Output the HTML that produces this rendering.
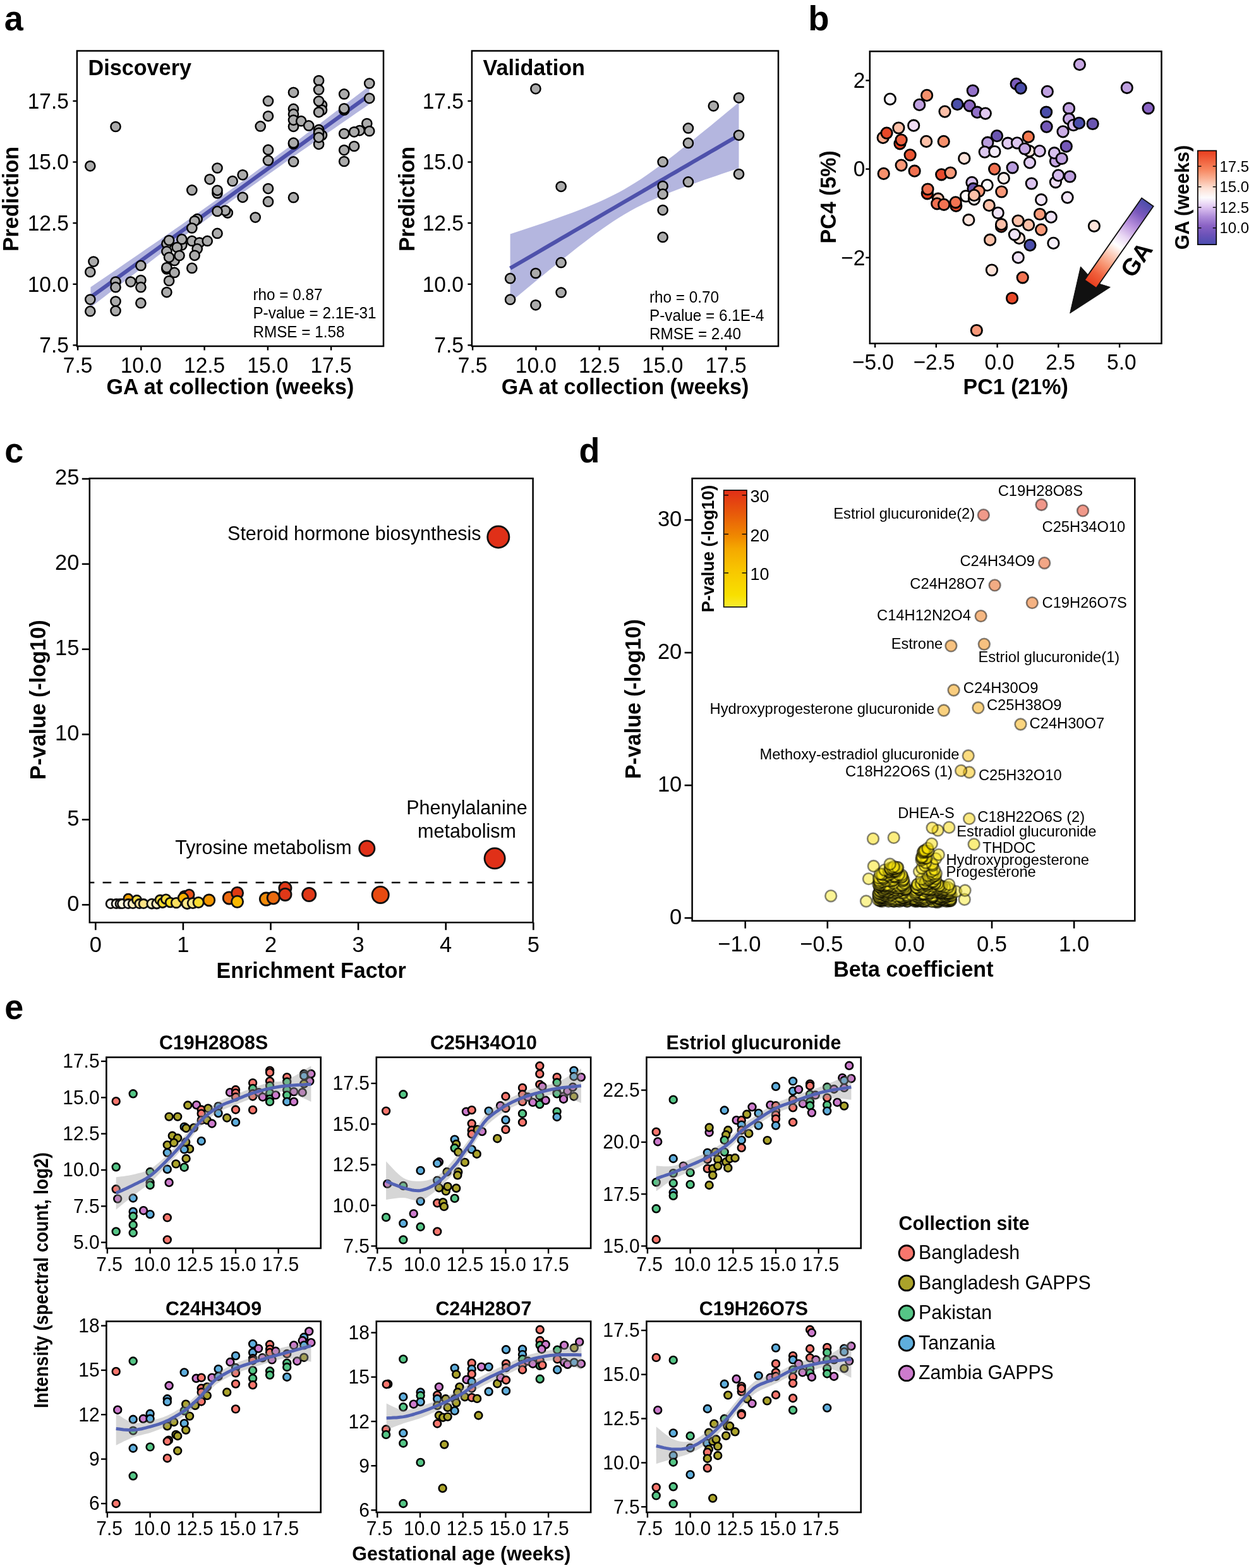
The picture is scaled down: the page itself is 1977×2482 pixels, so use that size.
<!DOCTYPE html>
<html><head><meta charset="utf-8"><title>Figure</title>
<style>html,body{margin:0;padding:0;background:#fff;}svg{display:block;}</style></head>
<body><svg width="1977" height="2482" viewBox="0 0 1977 2482" font-family='"Liberation Sans", Arial, Helvetica, sans-serif'>
<rect x="0" y="0" width="1977" height="2482" fill="#fff"/>
<text x="6.8" y="48.3" font-size="54" font-weight="bold" text-anchor="start" transform="matrix(1 0 0 1.035 0 -1.7)" fill="#000">a</text>
<text x="1279.3" y="48.3" font-size="54.5" font-weight="bold" text-anchor="start" transform="matrix(1 0 0 1.035 0 -1.7)" fill="#000">b</text>
<text x="7.3" y="732" font-size="54" font-weight="bold" text-anchor="start" transform="matrix(1 0 0 1.035 0 -25.6)" fill="#000">c</text>
<text x="916.5" y="732" font-size="54" font-weight="bold" text-anchor="start" transform="matrix(1 0 0 1.035 0 -25.6)" fill="#000">d</text>
<text x="7.3" y="1613" font-size="54" font-weight="bold" text-anchor="start" transform="matrix(1 0 0 1.035 0 -56.5)" fill="#000">e</text>
<polygon points="143.4,454.5 154.4,447 165.5,439.5 176.5,431.9 187.5,424.4 198.6,416.8 209.6,409.3 220.6,401.7 231.6,394.1 242.7,386.5 253.7,378.9 264.7,371.2 275.8,363.6 286.8,355.9 297.8,348.1 308.9,340.4 319.9,332.6 330.9,324.8 341.9,317 353,309.1 364,301.2 375,293.2 386.1,285.2 397.1,277.2 408.1,269.1 419.2,261 430.2,252.8 441.2,244.6 452.2,236.4 463.3,228.2 474.3,219.9 485.3,211.6 496.4,203.3 507.4,194.9 518.4,186.5 529.5,178.1 540.5,169.7 551.5,161.3 562.5,152.9 573.6,144.4 584.6,136 584.6,165 573.6,172.6 562.5,180.1 551.5,187.7 540.5,195.3 529.5,202.9 518.4,210.5 507.4,218.1 496.4,225.7 485.3,233.4 474.3,241.1 463.3,248.8 452.2,256.6 441.2,264.4 430.2,272.2 419.2,280 408.1,287.9 397.1,295.8 386.1,303.8 375,311.8 364,319.8 353,327.9 341.9,336 330.9,344.2 319.9,352.4 308.9,360.6 297.8,368.9 286.8,377.1 275.8,385.4 264.7,393.8 253.7,402.1 242.7,410.5 231.6,418.9 220.6,427.3 209.6,435.7 198.6,444.2 187.5,452.6 176.5,461.1 165.5,469.5 154.4,478 143.4,486.5" fill="#B4B6DF" stroke="none"/>
<polyline points="143.4,470.5 154.4,462.5 165.5,454.5 176.5,446.5 187.5,438.5 198.6,430.5 209.6,422.5 220.6,414.5 231.6,406.5 242.7,398.5 253.7,390.5 264.7,382.5 275.8,374.5 286.8,366.5 297.8,358.5 308.9,350.5 319.9,342.5 330.9,334.5 341.9,326.5 353,318.5 364,310.5 375,302.5 386.1,294.5 397.1,286.5 408.1,278.5 419.2,270.5 430.2,262.5 441.2,254.5 452.2,246.5 463.3,238.5 474.3,230.5 485.3,222.5 496.4,214.5 507.4,206.5 518.4,198.5 529.5,190.5 540.5,182.5 551.5,174.5 562.5,166.5 573.6,158.5 584.6,150.5" fill="none" stroke="#4E51AB" stroke-width="6.2"/>
<circle cx="142.8" cy="262.8" r="7.6" fill="#ABABAB" stroke="#000" stroke-width="2.5"/>
<circle cx="183" cy="200.5" r="7.6" fill="#ABABAB" stroke="#000" stroke-width="2.5"/>
<circle cx="148" cy="414.1" r="7.6" fill="#ABABAB" stroke="#000" stroke-width="2.5"/>
<circle cx="142.8" cy="430.5" r="7.6" fill="#ABABAB" stroke="#000" stroke-width="2.5"/>
<circle cx="142.8" cy="474.1" r="7.6" fill="#ABABAB" stroke="#000" stroke-width="2.5"/>
<circle cx="142.8" cy="492.7" r="7.6" fill="#ABABAB" stroke="#000" stroke-width="2.5"/>
<circle cx="183" cy="446.1" r="7.6" fill="#ABABAB" stroke="#000" stroke-width="2.5"/>
<circle cx="183" cy="454.7" r="7.6" fill="#ABABAB" stroke="#000" stroke-width="2.5"/>
<circle cx="183" cy="477.1" r="7.6" fill="#ABABAB" stroke="#000" stroke-width="2.5"/>
<circle cx="183" cy="492" r="7.6" fill="#ABABAB" stroke="#000" stroke-width="2.5"/>
<circle cx="206.9" cy="446.1" r="7.6" fill="#ABABAB" stroke="#000" stroke-width="2.5"/>
<circle cx="222.9" cy="420.4" r="7.6" fill="#ABABAB" stroke="#000" stroke-width="2.5"/>
<circle cx="222.9" cy="443.5" r="7.6" fill="#ABABAB" stroke="#000" stroke-width="2.5"/>
<circle cx="222.9" cy="454.7" r="7.6" fill="#ABABAB" stroke="#000" stroke-width="2.5"/>
<circle cx="222.9" cy="479.7" r="7.6" fill="#ABABAB" stroke="#000" stroke-width="2.5"/>
<circle cx="344" cy="266" r="7.6" fill="#ABABAB" stroke="#000" stroke-width="2.5"/>
<circle cx="332" cy="283.8" r="7.6" fill="#ABABAB" stroke="#000" stroke-width="2.5"/>
<circle cx="384.1" cy="276.8" r="7.6" fill="#ABABAB" stroke="#000" stroke-width="2.5"/>
<circle cx="368.1" cy="286.7" r="7.6" fill="#ABABAB" stroke="#000" stroke-width="2.5"/>
<circle cx="303.8" cy="300.9" r="7.6" fill="#ABABAB" stroke="#000" stroke-width="2.5"/>
<circle cx="344" cy="305.9" r="7.6" fill="#ABABAB" stroke="#000" stroke-width="2.5"/>
<circle cx="344" cy="301.3" r="7.6" fill="#ABABAB" stroke="#000" stroke-width="2.5"/>
<circle cx="384.1" cy="312.3" r="7.6" fill="#ABABAB" stroke="#000" stroke-width="2.5"/>
<circle cx="360.3" cy="337.1" r="7.6" fill="#ABABAB" stroke="#000" stroke-width="2.5"/>
<circle cx="356.5" cy="333.3" r="7.6" fill="#ABABAB" stroke="#000" stroke-width="2.5"/>
<circle cx="344" cy="334.4" r="7.6" fill="#ABABAB" stroke="#000" stroke-width="2.5"/>
<circle cx="404.2" cy="344.1" r="7.6" fill="#ABABAB" stroke="#000" stroke-width="2.5"/>
<circle cx="312.2" cy="346.7" r="7.6" fill="#ABABAB" stroke="#000" stroke-width="2.5"/>
<circle cx="308.1" cy="349.8" r="7.6" fill="#ABABAB" stroke="#000" stroke-width="2.5"/>
<circle cx="303.8" cy="361" r="7.6" fill="#ABABAB" stroke="#000" stroke-width="2.5"/>
<circle cx="344" cy="369.4" r="7.6" fill="#ABABAB" stroke="#000" stroke-width="2.5"/>
<circle cx="263.9" cy="385.7" r="7.6" fill="#ABABAB" stroke="#000" stroke-width="2.5"/>
<circle cx="267.6" cy="380.5" r="7.6" fill="#ABABAB" stroke="#000" stroke-width="2.5"/>
<circle cx="287.8" cy="388" r="7.6" fill="#ABABAB" stroke="#000" stroke-width="2.5"/>
<circle cx="287.8" cy="378.7" r="7.6" fill="#ABABAB" stroke="#000" stroke-width="2.5"/>
<circle cx="303.8" cy="381.4" r="7.6" fill="#ABABAB" stroke="#000" stroke-width="2.5"/>
<circle cx="315.7" cy="384" r="7.6" fill="#ABABAB" stroke="#000" stroke-width="2.5"/>
<circle cx="328.2" cy="381.4" r="7.6" fill="#ABABAB" stroke="#000" stroke-width="2.5"/>
<circle cx="280.2" cy="391.5" r="7.6" fill="#ABABAB" stroke="#000" stroke-width="2.5"/>
<circle cx="263.9" cy="397.9" r="7.6" fill="#ABABAB" stroke="#000" stroke-width="2.5"/>
<circle cx="312.2" cy="393.9" r="7.6" fill="#ABABAB" stroke="#000" stroke-width="2.5"/>
<circle cx="276.1" cy="412.5" r="7.6" fill="#ABABAB" stroke="#000" stroke-width="2.5"/>
<circle cx="284" cy="404.6" r="7.6" fill="#ABABAB" stroke="#000" stroke-width="2.5"/>
<circle cx="267.6" cy="407.3" r="7.6" fill="#ABABAB" stroke="#000" stroke-width="2.5"/>
<circle cx="308.1" cy="404.3" r="7.6" fill="#ABABAB" stroke="#000" stroke-width="2.5"/>
<circle cx="263.9" cy="425.9" r="7.6" fill="#ABABAB" stroke="#000" stroke-width="2.5"/>
<circle cx="263.9" cy="423.6" r="7.6" fill="#ABABAB" stroke="#000" stroke-width="2.5"/>
<circle cx="276.1" cy="431.4" r="7.6" fill="#ABABAB" stroke="#000" stroke-width="2.5"/>
<circle cx="303.8" cy="424.4" r="7.6" fill="#ABABAB" stroke="#000" stroke-width="2.5"/>
<circle cx="267.6" cy="444.5" r="7.6" fill="#ABABAB" stroke="#000" stroke-width="2.5"/>
<circle cx="263.9" cy="462.6" r="7.6" fill="#ABABAB" stroke="#000" stroke-width="2.5"/>
<circle cx="424.5" cy="159.9" r="7.6" fill="#ABABAB" stroke="#000" stroke-width="2.5"/>
<circle cx="424.5" cy="183.8" r="7.6" fill="#ABABAB" stroke="#000" stroke-width="2.5"/>
<circle cx="412.2" cy="199.9" r="7.6" fill="#ABABAB" stroke="#000" stroke-width="2.5"/>
<circle cx="424.5" cy="237.2" r="7.6" fill="#ABABAB" stroke="#000" stroke-width="2.5"/>
<circle cx="424.5" cy="254" r="7.6" fill="#ABABAB" stroke="#000" stroke-width="2.5"/>
<circle cx="424.5" cy="298.6" r="7.6" fill="#ABABAB" stroke="#000" stroke-width="2.5"/>
<circle cx="424.5" cy="319.2" r="7.6" fill="#ABABAB" stroke="#000" stroke-width="2.5"/>
<circle cx="464.5" cy="146.3" r="7.6" fill="#ABABAB" stroke="#000" stroke-width="2.5"/>
<circle cx="464.5" cy="172.4" r="7.6" fill="#ABABAB" stroke="#000" stroke-width="2.5"/>
<circle cx="464.5" cy="180.7" r="7.6" fill="#ABABAB" stroke="#000" stroke-width="2.5"/>
<circle cx="464.5" cy="200.3" r="7.6" fill="#ABABAB" stroke="#000" stroke-width="2.5"/>
<circle cx="464.5" cy="190.1" r="7.6" fill="#ABABAB" stroke="#000" stroke-width="2.5"/>
<circle cx="476.7" cy="191.7" r="7.6" fill="#ABABAB" stroke="#000" stroke-width="2.5"/>
<circle cx="488.7" cy="198.9" r="7.6" fill="#ABABAB" stroke="#000" stroke-width="2.5"/>
<circle cx="464.5" cy="228" r="7.6" fill="#ABABAB" stroke="#000" stroke-width="2.5"/>
<circle cx="464.5" cy="226.2" r="7.6" fill="#ABABAB" stroke="#000" stroke-width="2.5"/>
<circle cx="464.5" cy="255.9" r="7.6" fill="#ABABAB" stroke="#000" stroke-width="2.5"/>
<circle cx="464.5" cy="312.7" r="7.6" fill="#ABABAB" stroke="#000" stroke-width="2.5"/>
<circle cx="504.6" cy="127.5" r="7.6" fill="#ABABAB" stroke="#000" stroke-width="2.5"/>
<circle cx="504.6" cy="142" r="7.6" fill="#ABABAB" stroke="#000" stroke-width="2.5"/>
<circle cx="509.5" cy="166.3" r="7.6" fill="#ABABAB" stroke="#000" stroke-width="2.5"/>
<circle cx="509.5" cy="174.2" r="7.6" fill="#ABABAB" stroke="#000" stroke-width="2.5"/>
<circle cx="504.6" cy="160.1" r="7.6" fill="#ABABAB" stroke="#000" stroke-width="2.5"/>
<circle cx="504.6" cy="177.6" r="7.6" fill="#ABABAB" stroke="#000" stroke-width="2.5"/>
<circle cx="504.6" cy="228.3" r="7.6" fill="#ABABAB" stroke="#000" stroke-width="2.5"/>
<circle cx="509.5" cy="214" r="7.6" fill="#ABABAB" stroke="#000" stroke-width="2.5"/>
<circle cx="504.6" cy="205.4" r="7.6" fill="#ABABAB" stroke="#000" stroke-width="2.5"/>
<circle cx="504.6" cy="210.3" r="7.6" fill="#ABABAB" stroke="#000" stroke-width="2.5"/>
<circle cx="504.6" cy="217.6" r="7.6" fill="#ABABAB" stroke="#000" stroke-width="2.5"/>
<circle cx="544.7" cy="148.9" r="7.6" fill="#ABABAB" stroke="#000" stroke-width="2.5"/>
<circle cx="544.7" cy="174.2" r="7.6" fill="#ABABAB" stroke="#000" stroke-width="2.5"/>
<circle cx="544.7" cy="171.8" r="7.6" fill="#ABABAB" stroke="#000" stroke-width="2.5"/>
<circle cx="544.7" cy="211.5" r="7.6" fill="#ABABAB" stroke="#000" stroke-width="2.5"/>
<circle cx="544.7" cy="237.6" r="7.6" fill="#ABABAB" stroke="#000" stroke-width="2.5"/>
<circle cx="544.7" cy="255.5" r="7.6" fill="#ABABAB" stroke="#000" stroke-width="2.5"/>
<circle cx="560.6" cy="231.5" r="7.6" fill="#ABABAB" stroke="#000" stroke-width="2.5"/>
<circle cx="569.2" cy="206.6" r="7.6" fill="#ABABAB" stroke="#000" stroke-width="2.5"/>
<circle cx="560.6" cy="208.8" r="7.6" fill="#ABABAB" stroke="#000" stroke-width="2.5"/>
<circle cx="580.8" cy="195.6" r="7.6" fill="#ABABAB" stroke="#000" stroke-width="2.5"/>
<circle cx="584.7" cy="207.5" r="7.6" fill="#ABABAB" stroke="#000" stroke-width="2.5"/>
<circle cx="584.7" cy="132" r="7.6" fill="#ABABAB" stroke="#000" stroke-width="2.5"/>
<circle cx="584.7" cy="155.6" r="7.6" fill="#ABABAB" stroke="#000" stroke-width="2.5"/>
<rect x="121.9" y="80.5" width="485.1" height="467.5" fill="none" stroke="#000" stroke-width="2.5"/>
<line x1="115.4" y1="546.4" x2="121.9" y2="546.4" stroke="#000" stroke-width="2.4"/>
<text x="108.9" y="558.2" font-size="33.5" text-anchor="end" transform="matrix(1 0 0 1.035 0 -19.5)" fill="#000">7.5</text>
<line x1="115.4" y1="449.8" x2="121.9" y2="449.8" stroke="#000" stroke-width="2.4"/>
<text x="108.9" y="461.6" font-size="33.5" text-anchor="end" transform="matrix(1 0 0 1.035 0 -16.2)" fill="#000">10.0</text>
<line x1="115.4" y1="353.1" x2="121.9" y2="353.1" stroke="#000" stroke-width="2.4"/>
<text x="108.9" y="364.9" font-size="33.5" text-anchor="end" transform="matrix(1 0 0 1.035 0 -12.8)" fill="#000">12.5</text>
<line x1="115.4" y1="256.5" x2="121.9" y2="256.5" stroke="#000" stroke-width="2.4"/>
<text x="108.9" y="268.3" font-size="33.5" text-anchor="end" transform="matrix(1 0 0 1.035 0 -9.4)" fill="#000">15.0</text>
<line x1="115.4" y1="159.9" x2="121.9" y2="159.9" stroke="#000" stroke-width="2.4"/>
<text x="108.9" y="171.7" font-size="33.5" text-anchor="end" transform="matrix(1 0 0 1.035 0 -6)" fill="#000">17.5</text>
<line x1="123.1" y1="548" x2="123.1" y2="554.5" stroke="#000" stroke-width="2.4"/>
<text x="123.1" y="589.5" font-size="33.5" text-anchor="middle" transform="matrix(1 0 0 1.035 0 -20.6)" fill="#000">7.5</text>
<line x1="223.3" y1="548" x2="223.3" y2="554.5" stroke="#000" stroke-width="2.4"/>
<text x="223.3" y="589.5" font-size="33.5" text-anchor="middle" transform="matrix(1 0 0 1.035 0 -20.6)" fill="#000">10.0</text>
<line x1="323.6" y1="548" x2="323.6" y2="554.5" stroke="#000" stroke-width="2.4"/>
<text x="323.6" y="589.5" font-size="33.5" text-anchor="middle" transform="matrix(1 0 0 1.035 0 -20.6)" fill="#000">12.5</text>
<line x1="423.9" y1="548" x2="423.9" y2="554.5" stroke="#000" stroke-width="2.4"/>
<text x="423.9" y="589.5" font-size="33.5" text-anchor="middle" transform="matrix(1 0 0 1.035 0 -20.6)" fill="#000">15.0</text>
<line x1="524.1" y1="548" x2="524.1" y2="554.5" stroke="#000" stroke-width="2.4"/>
<text x="524.1" y="589.5" font-size="33.5" text-anchor="middle" transform="matrix(1 0 0 1.035 0 -20.6)" fill="#000">17.5</text>
<text x="364.4" y="623.5" font-size="34" font-weight="bold" text-anchor="middle" transform="matrix(1 0 0 1.035 0 -21.8)" fill="#000">GA at collection (weeks)</text>
<text x="29.1" y="315" font-size="34" font-weight="bold" text-anchor="middle" transform="rotate(-90 29.1 315) matrix(1 0 0 1.035 0 -11)" fill="#000">Prediction</text>
<text x="139.5" y="118.5" font-size="34.2" font-weight="bold" text-anchor="start" transform="matrix(1 0 0 1.035 0 -4.1)" fill="#000">Discovery</text>
<text x="400.4" y="475" font-size="24.3" text-anchor="start" transform="matrix(1 0 0 1.035 0 -16.6)" fill="#000">rho = 0.87</text>
<text x="400.4" y="504.3" font-size="24.3" text-anchor="start" transform="matrix(1 0 0 1.035 0 -17.7)" fill="#000">P-value = 2.1E-31</text>
<text x="400.4" y="533.6" font-size="24.3" text-anchor="start" transform="matrix(1 0 0 1.035 0 -18.7)" fill="#000">RMSE = 1.58</text>
<polygon points="807.6,370.6 816.6,367.6 825.7,364.6 834.7,361.6 843.8,358.6 852.8,355.5 861.9,352.4 870.9,349.2 880,346.1 889,342.8 898.1,339.6 907.1,336.2 916.2,332.8 925.2,329.2 934.3,325.5 943.3,321.7 952.4,317.7 961.4,313.5 970.5,309.1 979.5,304.4 988.5,299.4 997.6,294.1 1006.6,288.5 1015.7,282.7 1024.7,276.5 1033.8,270.1 1042.8,263.6 1051.9,256.8 1060.9,249.9 1070,242.9 1079,235.8 1088.1,228.7 1097.1,221.4 1106.2,214.1 1115.2,206.8 1124.3,199.4 1133.3,191.9 1142.4,184.5 1151.4,177 1160.5,169.5 1169.5,161.9 1169.5,266.3 1160.5,269.3 1151.4,272.3 1142.4,275.3 1133.3,278.4 1124.3,281.5 1115.2,284.6 1106.2,287.8 1097.1,291 1088.1,294.3 1079,297.6 1070,301 1060.9,304.6 1051.9,308.2 1042.8,312 1033.8,315.9 1024.7,320.1 1015.7,324.5 1006.6,329.1 997.6,334 988.5,339.3 979.5,344.8 970.5,350.6 961.4,356.7 952.4,363.1 943.3,369.6 934.3,376.3 925.2,383.2 916.2,390.1 907.1,397.2 898.1,404.4 889,411.6 880,418.9 870.9,426.3 861.9,433.7 852.8,441.1 843.8,448.5 834.7,456 825.7,463.5 816.6,471.1 807.6,478.6" fill="#B4B6DF" stroke="none"/>
<polyline points="807.6,424.6 816.6,419.3 825.7,414.1 834.7,408.8 843.8,403.6 852.8,398.3 861.9,393 870.9,387.8 880,382.5 889,377.2 898.1,372 907.1,366.7 916.2,361.4 925.2,356.2 934.3,350.9 943.3,345.7 952.4,340.4 961.4,335.1 970.5,329.9 979.5,324.6 988.5,319.4 997.6,314.1 1006.6,308.8 1015.7,303.6 1024.7,298.3 1033.8,293 1042.8,287.8 1051.9,282.5 1060.9,277.2 1070,272 1079,266.7 1088.1,261.5 1097.1,256.2 1106.2,250.9 1115.2,245.7 1124.3,240.4 1133.3,235.2 1142.4,229.9 1151.4,224.6 1160.5,219.4 1169.5,214.1" fill="none" stroke="#4E51AB" stroke-width="6.2"/>
<circle cx="847.9" cy="140.6" r="7.6" fill="#ABABAB" stroke="#000" stroke-width="2.5"/>
<circle cx="1169.5" cy="154.8" r="7.6" fill="#ABABAB" stroke="#000" stroke-width="2.5"/>
<circle cx="1129.3" cy="167.8" r="7.6" fill="#ABABAB" stroke="#000" stroke-width="2.5"/>
<circle cx="1089.4" cy="202.9" r="7.6" fill="#ABABAB" stroke="#000" stroke-width="2.5"/>
<circle cx="1169.5" cy="214.1" r="7.6" fill="#ABABAB" stroke="#000" stroke-width="2.5"/>
<circle cx="1089.4" cy="226.4" r="7.6" fill="#ABABAB" stroke="#000" stroke-width="2.5"/>
<circle cx="1049.1" cy="256.2" r="7.6" fill="#ABABAB" stroke="#000" stroke-width="2.5"/>
<circle cx="1169.5" cy="275.6" r="7.6" fill="#ABABAB" stroke="#000" stroke-width="2.5"/>
<circle cx="1089.4" cy="287.9" r="7.6" fill="#ABABAB" stroke="#000" stroke-width="2.5"/>
<circle cx="888.1" cy="295.3" r="7.6" fill="#ABABAB" stroke="#000" stroke-width="2.5"/>
<circle cx="1049.1" cy="294.6" r="7.6" fill="#ABABAB" stroke="#000" stroke-width="2.5"/>
<circle cx="1049.1" cy="307.2" r="7.6" fill="#ABABAB" stroke="#000" stroke-width="2.5"/>
<circle cx="1049.1" cy="332.6" r="7.6" fill="#ABABAB" stroke="#000" stroke-width="2.5"/>
<circle cx="1049.1" cy="375.4" r="7.6" fill="#ABABAB" stroke="#000" stroke-width="2.5"/>
<circle cx="888.1" cy="415.7" r="7.6" fill="#ABABAB" stroke="#000" stroke-width="2.5"/>
<circle cx="847.9" cy="432.5" r="7.6" fill="#ABABAB" stroke="#000" stroke-width="2.5"/>
<circle cx="807.6" cy="440.7" r="7.6" fill="#ABABAB" stroke="#000" stroke-width="2.5"/>
<circle cx="888.1" cy="463" r="7.6" fill="#ABABAB" stroke="#000" stroke-width="2.5"/>
<circle cx="807.6" cy="474.2" r="7.6" fill="#ABABAB" stroke="#000" stroke-width="2.5"/>
<circle cx="847.9" cy="482.8" r="7.6" fill="#ABABAB" stroke="#000" stroke-width="2.5"/>
<rect x="746.9" y="80.5" width="485.1" height="467.5" fill="none" stroke="#000" stroke-width="2.5"/>
<line x1="740.4" y1="546.4" x2="746.9" y2="546.4" stroke="#000" stroke-width="2.4"/>
<text x="733.9" y="558.2" font-size="33.5" text-anchor="end" transform="matrix(1 0 0 1.035 0 -19.5)" fill="#000">7.5</text>
<line x1="740.4" y1="449.8" x2="746.9" y2="449.8" stroke="#000" stroke-width="2.4"/>
<text x="733.9" y="461.6" font-size="33.5" text-anchor="end" transform="matrix(1 0 0 1.035 0 -16.2)" fill="#000">10.0</text>
<line x1="740.4" y1="353.1" x2="746.9" y2="353.1" stroke="#000" stroke-width="2.4"/>
<text x="733.9" y="364.9" font-size="33.5" text-anchor="end" transform="matrix(1 0 0 1.035 0 -12.8)" fill="#000">12.5</text>
<line x1="740.4" y1="256.5" x2="746.9" y2="256.5" stroke="#000" stroke-width="2.4"/>
<text x="733.9" y="268.3" font-size="33.5" text-anchor="end" transform="matrix(1 0 0 1.035 0 -9.4)" fill="#000">15.0</text>
<line x1="740.4" y1="159.9" x2="746.9" y2="159.9" stroke="#000" stroke-width="2.4"/>
<text x="733.9" y="171.7" font-size="33.5" text-anchor="end" transform="matrix(1 0 0 1.035 0 -6)" fill="#000">17.5</text>
<line x1="748.1" y1="548" x2="748.1" y2="554.5" stroke="#000" stroke-width="2.4"/>
<text x="748.1" y="589.5" font-size="33.5" text-anchor="middle" transform="matrix(1 0 0 1.035 0 -20.6)" fill="#000">7.5</text>
<line x1="848.4" y1="548" x2="848.4" y2="554.5" stroke="#000" stroke-width="2.4"/>
<text x="848.4" y="589.5" font-size="33.5" text-anchor="middle" transform="matrix(1 0 0 1.035 0 -20.6)" fill="#000">10.0</text>
<line x1="948.6" y1="548" x2="948.6" y2="554.5" stroke="#000" stroke-width="2.4"/>
<text x="948.6" y="589.5" font-size="33.5" text-anchor="middle" transform="matrix(1 0 0 1.035 0 -20.6)" fill="#000">12.5</text>
<line x1="1048.8" y1="548" x2="1048.8" y2="554.5" stroke="#000" stroke-width="2.4"/>
<text x="1048.8" y="589.5" font-size="33.5" text-anchor="middle" transform="matrix(1 0 0 1.035 0 -20.6)" fill="#000">15.0</text>
<line x1="1149.1" y1="548" x2="1149.1" y2="554.5" stroke="#000" stroke-width="2.4"/>
<text x="1149.1" y="589.5" font-size="33.5" text-anchor="middle" transform="matrix(1 0 0 1.035 0 -20.6)" fill="#000">17.5</text>
<text x="989.5" y="623.5" font-size="34" font-weight="bold" text-anchor="middle" transform="matrix(1 0 0 1.035 0 -21.8)" fill="#000">GA at collection (weeks)</text>
<text x="655.5" y="315" font-size="34" font-weight="bold" text-anchor="middle" transform="rotate(-90 655.5 315) matrix(1 0 0 1.035 0 -11)" fill="#000">Prediction</text>
<text x="764.5" y="118.5" font-size="34.2" font-weight="bold" text-anchor="start" transform="matrix(1 0 0 1.035 0 -4.1)" fill="#000">Validation</text>
<text x="1028" y="479.5" font-size="24.3" text-anchor="start" transform="matrix(1 0 0 1.035 0 -16.8)" fill="#000">rho = 0.70</text>
<text x="1028" y="508.1" font-size="24.3" text-anchor="start" transform="matrix(1 0 0 1.035 0 -17.8)" fill="#000">P-value = 6.1E-4</text>
<text x="1028" y="536.7" font-size="24.3" text-anchor="start" transform="matrix(1 0 0 1.035 0 -18.8)" fill="#000">RMSE = 2.40</text>
<defs><linearGradient id="gacb" x1="0" y1="1" x2="0" y2="0"><stop offset="0" stop-color="#4A4DB0"/><stop offset="0.1" stop-color="#6A52B8"/><stop offset="0.2" stop-color="#8A62C4"/><stop offset="0.3" stop-color="#B08EDA"/><stop offset="0.4" stop-color="#E0C6F2"/><stop offset="0.5" stop-color="#FDFBFD"/><stop offset="0.6" stop-color="#FDE0D4"/><stop offset="0.7" stop-color="#FAB296"/><stop offset="0.8" stop-color="#F7865F"/><stop offset="0.9" stop-color="#F0603C"/><stop offset="1" stop-color="#E83E1E"/></linearGradient><linearGradient id="gaarr" x1="0" y1="0" x2="1" y2="0"><stop offset="0" stop-color="#E83E1E"/><stop offset="0.12" stop-color="#F0603C"/><stop offset="0.25" stop-color="#F89A78"/><stop offset="0.38" stop-color="#FCD4C4"/><stop offset="0.47" stop-color="#FFFFFF"/><stop offset="0.58" stop-color="#EAD8F4"/><stop offset="0.72" stop-color="#B890DC"/><stop offset="0.86" stop-color="#7A58BC"/><stop offset="1" stop-color="#4A4DAA"/></linearGradient></defs>
<circle cx="1408.9" cy="156.8" r="8.7" fill="#FBF7FC" stroke="#000" stroke-width="2.8"/>
<circle cx="1467.1" cy="150.9" r="8.7" fill="#F4906C" stroke="#000" stroke-width="2.8"/>
<circle cx="1455.3" cy="165.9" r="8.7" fill="#BFA0E0" stroke="#000" stroke-width="2.8"/>
<circle cx="1495.5" cy="176.6" r="8.7" fill="#FBBFA8" stroke="#000" stroke-width="2.8"/>
<circle cx="1515.4" cy="165.2" r="8.7" fill="#4A4FAA" stroke="#000" stroke-width="2.8"/>
<circle cx="1539.8" cy="143.5" r="8.7" fill="#9370C8" stroke="#000" stroke-width="2.8"/>
<circle cx="1534.7" cy="167.3" r="8.7" fill="#8A66C0" stroke="#000" stroke-width="2.8"/>
<circle cx="1546.8" cy="177.7" r="8.7" fill="#9170C8" stroke="#000" stroke-width="2.8"/>
<circle cx="1559.8" cy="179.6" r="8.7" fill="#E0C8F0" stroke="#000" stroke-width="2.8"/>
<circle cx="1608.6" cy="132.8" r="8.7" fill="#7A5CBC" stroke="#000" stroke-width="2.8"/>
<circle cx="1615.7" cy="139.6" r="8.7" fill="#4A4DAA" stroke="#000" stroke-width="2.8"/>
<circle cx="1422.4" cy="202.5" r="8.7" fill="#FCC0A8" stroke="#000" stroke-width="2.8"/>
<circle cx="1446.2" cy="198.7" r="8.7" fill="#F0DCF5" stroke="#000" stroke-width="2.8"/>
<circle cx="1397.7" cy="217.9" r="8.7" fill="#FBAD8F" stroke="#000" stroke-width="2.8"/>
<circle cx="1403.5" cy="210.6" r="8.7" fill="#E84828" stroke="#000" stroke-width="2.8"/>
<circle cx="1424.5" cy="227.4" r="8.7" fill="#E84020" stroke="#000" stroke-width="2.8"/>
<circle cx="1426.6" cy="221.5" r="8.7" fill="#EE6040" stroke="#000" stroke-width="2.8"/>
<circle cx="1466.2" cy="223.9" r="8.7" fill="#FCC0A8" stroke="#000" stroke-width="2.8"/>
<circle cx="1493.7" cy="223.9" r="8.7" fill="#F6906C" stroke="#000" stroke-width="2.8"/>
<circle cx="1440.6" cy="245.3" r="8.7" fill="#E95533" stroke="#000" stroke-width="2.8"/>
<circle cx="1426.6" cy="261.6" r="8.7" fill="#F89878" stroke="#000" stroke-width="2.8"/>
<circle cx="1447.6" cy="270.7" r="8.7" fill="#F07050" stroke="#000" stroke-width="2.8"/>
<circle cx="1398.7" cy="274.9" r="8.7" fill="#F7906C" stroke="#000" stroke-width="2.8"/>
<circle cx="1490.2" cy="276.3" r="8.7" fill="#E84A2C" stroke="#000" stroke-width="2.8"/>
<circle cx="1504.5" cy="273.5" r="8.7" fill="#F89A7A" stroke="#000" stroke-width="2.8"/>
<circle cx="1526.3" cy="250.7" r="8.7" fill="#FDE3DA" stroke="#000" stroke-width="2.8"/>
<circle cx="1578" cy="215.1" r="8.7" fill="#6A55B0" stroke="#000" stroke-width="2.8"/>
<circle cx="1563.3" cy="225.7" r="8.7" fill="#B89CDE" stroke="#000" stroke-width="2.8"/>
<circle cx="1558.7" cy="240.6" r="8.7" fill="#DCC8F0" stroke="#000" stroke-width="2.8"/>
<circle cx="1574.4" cy="240" r="8.7" fill="#F3EBF8" stroke="#000" stroke-width="2.8"/>
<circle cx="1595.3" cy="226.7" r="8.7" fill="#E2CCF2" stroke="#000" stroke-width="2.8"/>
<circle cx="1574.1" cy="267.6" r="8.7" fill="#F07050" stroke="#000" stroke-width="2.8"/>
<circle cx="1602.6" cy="265.3" r="8.7" fill="#B89CDE" stroke="#000" stroke-width="2.8"/>
<circle cx="1588.8" cy="282.2" r="8.7" fill="#FDF0EC" stroke="#000" stroke-width="2.8"/>
<circle cx="1538.4" cy="288.9" r="8.7" fill="#DCC4EE" stroke="#000" stroke-width="2.8"/>
<circle cx="1562.6" cy="293.1" r="8.7" fill="#FDFBFB" stroke="#000" stroke-width="2.8"/>
<circle cx="1585.3" cy="303.5" r="8.7" fill="#F89878" stroke="#000" stroke-width="2.8"/>
<circle cx="1467.8" cy="306.3" r="8.7" fill="#E84020" stroke="#000" stroke-width="2.8"/>
<circle cx="1468.5" cy="299.5" r="8.7" fill="#F07050" stroke="#000" stroke-width="2.8"/>
<circle cx="1540.5" cy="298.7" r="8.7" fill="#6A55B0" stroke="#000" stroke-width="2.8"/>
<circle cx="1549.6" cy="302.5" r="8.7" fill="#F89878" stroke="#000" stroke-width="2.8"/>
<circle cx="1529.1" cy="310.5" r="8.7" fill="#FDF9FA" stroke="#000" stroke-width="2.8"/>
<circle cx="1541.9" cy="315.4" r="8.7" fill="#FDF9FA" stroke="#000" stroke-width="2.8"/>
<circle cx="1541.9" cy="309.1" r="8.7" fill="#FBC0A8" stroke="#000" stroke-width="2.8"/>
<circle cx="1484.9" cy="314.7" r="8.7" fill="#FBBFA8" stroke="#000" stroke-width="2.8"/>
<circle cx="1483.2" cy="322.4" r="8.7" fill="#F07050" stroke="#000" stroke-width="2.8"/>
<circle cx="1494.1" cy="323.8" r="8.7" fill="#F27352" stroke="#000" stroke-width="2.8"/>
<circle cx="1513.3" cy="325.9" r="8.7" fill="#E84828" stroke="#000" stroke-width="2.8"/>
<circle cx="1512.6" cy="320.3" r="8.7" fill="#F27352" stroke="#000" stroke-width="2.8"/>
<circle cx="1565.7" cy="325.2" r="8.7" fill="#FBBFA8" stroke="#000" stroke-width="2.8"/>
<circle cx="1579.7" cy="337" r="8.7" fill="#EFE3F7" stroke="#000" stroke-width="2.8"/>
<circle cx="1585" cy="358.7" r="8.7" fill="#E85030" stroke="#000" stroke-width="2.8"/>
<circle cx="1585" cy="355.2" r="8.7" fill="#FBBFA8" stroke="#000" stroke-width="2.8"/>
<circle cx="1533.3" cy="348.2" r="8.7" fill="#FDE4DC" stroke="#000" stroke-width="2.8"/>
<circle cx="1567.1" cy="379.7" r="8.7" fill="#FBC0A8" stroke="#000" stroke-width="2.8"/>
<circle cx="1569.9" cy="427.5" r="8.7" fill="#FDE2D8" stroke="#000" stroke-width="2.8"/>
<circle cx="1602" cy="472" r="8.7" fill="#E84828" stroke="#000" stroke-width="2.8"/>
<circle cx="1545.8" cy="523" r="8.7" fill="#F89878" stroke="#000" stroke-width="2.8"/>
<circle cx="1708.9" cy="102.1" r="8.7" fill="#C6A6E2" stroke="#000" stroke-width="2.8"/>
<circle cx="1657.8" cy="144.9" r="8.7" fill="#BFA0E0" stroke="#000" stroke-width="2.8"/>
<circle cx="1783.8" cy="138.8" r="8.7" fill="#BFA0E0" stroke="#000" stroke-width="2.8"/>
<circle cx="1817.6" cy="171.3" r="8.7" fill="#8A64C4" stroke="#000" stroke-width="2.8"/>
<circle cx="1656.1" cy="177.5" r="8.7" fill="#4A4DAA" stroke="#000" stroke-width="2.8"/>
<circle cx="1692" cy="171.7" r="8.7" fill="#BFA0E0" stroke="#000" stroke-width="2.8"/>
<circle cx="1692" cy="188.2" r="8.7" fill="#C6A8E4" stroke="#000" stroke-width="2.8"/>
<circle cx="1699.2" cy="198" r="8.7" fill="#D8BEEE" stroke="#000" stroke-width="2.8"/>
<circle cx="1708" cy="194.9" r="8.7" fill="#4A4DAA" stroke="#000" stroke-width="2.8"/>
<circle cx="1729.6" cy="196" r="8.7" fill="#6A55B0" stroke="#000" stroke-width="2.8"/>
<circle cx="1656.6" cy="200.6" r="8.7" fill="#7458B8" stroke="#000" stroke-width="2.8"/>
<circle cx="1682.5" cy="208.4" r="8.7" fill="#CCAEE6" stroke="#000" stroke-width="2.8"/>
<circle cx="1627.8" cy="216.7" r="8.7" fill="#F57A50" stroke="#000" stroke-width="2.8"/>
<circle cx="1610" cy="226.3" r="8.7" fill="#DCC6F0" stroke="#000" stroke-width="2.8"/>
<circle cx="1629.3" cy="239.1" r="8.7" fill="#FDE8DF" stroke="#000" stroke-width="2.8"/>
<circle cx="1622.1" cy="235.5" r="8.7" fill="#C6A8E4" stroke="#000" stroke-width="2.8"/>
<circle cx="1645.7" cy="239.1" r="8.7" fill="#DCC4F0" stroke="#000" stroke-width="2.8"/>
<circle cx="1687.8" cy="231.7" r="8.7" fill="#7458B8" stroke="#000" stroke-width="2.8"/>
<circle cx="1670.9" cy="255.1" r="8.7" fill="#C6A6E2" stroke="#000" stroke-width="2.8"/>
<circle cx="1668.9" cy="242.2" r="8.7" fill="#D8C0EE" stroke="#000" stroke-width="2.8"/>
<circle cx="1680.6" cy="251" r="8.7" fill="#C0A0E0" stroke="#000" stroke-width="2.8"/>
<circle cx="1630" cy="257.4" r="8.7" fill="#E0CCF2" stroke="#000" stroke-width="2.8"/>
<circle cx="1670.9" cy="288.3" r="8.7" fill="#F0E0F7" stroke="#000" stroke-width="2.8"/>
<circle cx="1675.2" cy="277.6" r="8.7" fill="#D4BAEC" stroke="#000" stroke-width="2.8"/>
<circle cx="1693.5" cy="279.5" r="8.7" fill="#BC9EDE" stroke="#000" stroke-width="2.8"/>
<circle cx="1632.8" cy="290.5" r="8.7" fill="#DCC4F0" stroke="#000" stroke-width="2.8"/>
<circle cx="1648.1" cy="316.2" r="8.7" fill="#F3E6F8" stroke="#000" stroke-width="2.8"/>
<circle cx="1689.6" cy="312.6" r="8.7" fill="#F3E6F8" stroke="#000" stroke-width="2.8"/>
<circle cx="1646" cy="339" r="8.7" fill="#F89A7A" stroke="#000" stroke-width="2.8"/>
<circle cx="1663.7" cy="343.7" r="8.7" fill="#F0E3F7" stroke="#000" stroke-width="2.8"/>
<circle cx="1611.5" cy="349.5" r="8.7" fill="#FBC0A8" stroke="#000" stroke-width="2.8"/>
<circle cx="1628.1" cy="356.1" r="8.7" fill="#FBC0A8" stroke="#000" stroke-width="2.8"/>
<circle cx="1648.1" cy="363.6" r="8.7" fill="#F89A7A" stroke="#000" stroke-width="2.8"/>
<circle cx="1731.9" cy="357.8" r="8.7" fill="#FDE3DA" stroke="#000" stroke-width="2.8"/>
<circle cx="1613.2" cy="377.2" r="8.7" fill="#FDE3DA" stroke="#000" stroke-width="2.8"/>
<circle cx="1605.9" cy="371.3" r="8.7" fill="#F0E3F7" stroke="#000" stroke-width="2.8"/>
<circle cx="1630.4" cy="388.1" r="8.7" fill="#4A4DAA" stroke="#000" stroke-width="2.8"/>
<circle cx="1667.4" cy="384.9" r="8.7" fill="#F7F0FA" stroke="#000" stroke-width="2.8"/>
<circle cx="1611.7" cy="407.7" r="8.7" fill="#F0E3F7" stroke="#000" stroke-width="2.8"/>
<circle cx="1618.7" cy="439.3" r="8.7" fill="#F27352" stroke="#000" stroke-width="2.8"/>
<polygon points="1710.5,422 1693.7,495.8 1757.3,454.6 1733,447" fill="#111" stroke="#111" stroke-width="1"/>
<g transform="translate(1726 449.6) rotate(-55.1)"><rect x="0" y="-11.3" width="158" height="22.6" fill="url(#gaarr)" stroke="#111" stroke-width="1.8"/></g>
<text x="1799" y="411" font-size="38" font-weight="bold" text-anchor="middle" dominant-baseline="central" transform="rotate(-55.1 1799 411)">GA</text>
<rect x="1376.8" y="81.3" width="461.7" height="462.4" fill="none" stroke="#000" stroke-width="2.5"/>
<line x1="1370.3" y1="127.4" x2="1376.8" y2="127.4" stroke="#000" stroke-width="2.4"/>
<text x="1369.3" y="139.2" font-size="33.5" text-anchor="end" transform="matrix(1 0 0 1.035 0 -4.9)" fill="#000">2</text>
<line x1="1370.3" y1="267.6" x2="1376.8" y2="267.6" stroke="#000" stroke-width="2.4"/>
<text x="1369.3" y="279.4" font-size="33.5" text-anchor="end" transform="matrix(1 0 0 1.035 0 -9.8)" fill="#000">0</text>
<line x1="1370.3" y1="407.8" x2="1376.8" y2="407.8" stroke="#000" stroke-width="2.4"/>
<text x="1369.3" y="419.6" font-size="33.5" text-anchor="end" transform="matrix(1 0 0 1.035 0 -14.7)" fill="#000">−2</text>
<line x1="1385.1" y1="543.7" x2="1385.1" y2="550.2" stroke="#000" stroke-width="2.4"/>
<text x="1381.9" y="585.2" font-size="33.5" text-anchor="middle" transform="matrix(1 0 0 1.035 0 -20.5)" fill="#000">−5.0</text>
<line x1="1481.8" y1="543.7" x2="1481.8" y2="550.2" stroke="#000" stroke-width="2.4"/>
<text x="1478.6" y="585.2" font-size="33.5" text-anchor="middle" transform="matrix(1 0 0 1.035 0 -20.5)" fill="#000">−2.5</text>
<line x1="1578.6" y1="543.7" x2="1578.6" y2="550.2" stroke="#000" stroke-width="2.4"/>
<text x="1581.9" y="585.2" font-size="33.5" text-anchor="middle" transform="matrix(1 0 0 1.035 0 -20.5)" fill="#000">0.0</text>
<line x1="1675.3" y1="543.7" x2="1675.3" y2="550.2" stroke="#000" stroke-width="2.4"/>
<text x="1678.6" y="585.2" font-size="33.5" text-anchor="middle" transform="matrix(1 0 0 1.035 0 -20.5)" fill="#000">2.5</text>
<line x1="1772.1" y1="543.7" x2="1772.1" y2="550.2" stroke="#000" stroke-width="2.4"/>
<text x="1775.4" y="585.2" font-size="33.5" text-anchor="middle" transform="matrix(1 0 0 1.035 0 -20.5)" fill="#000">5.0</text>
<text x="1607.7" y="623.5" font-size="34" font-weight="bold" text-anchor="middle" transform="matrix(1 0 0 1.035 0 -21.8)" fill="#000">PC1 (21%)</text>
<text x="1323" y="311.8" font-size="34" font-weight="bold" text-anchor="middle" transform="rotate(-90 1323 311.8) matrix(1 0 0 1.035 0 -10.9)" fill="#000">PC4 (5%)</text>
<rect x="1895.9" y="238.5" width="29.4" height="148.7" fill="url(#gacb)" stroke="#000" stroke-width="1.7"/>
<line x1="1896.7" y1="263.2" x2="1901.5" y2="263.2" stroke="#000" stroke-width="1.4"/>
<line x1="1919.8" y1="263.2" x2="1924.6" y2="263.2" stroke="#000" stroke-width="1.4"/>
<text x="1930.4" y="271.7" font-size="24" text-anchor="start" transform="matrix(1 0 0 1.035 0 -9.5)" fill="#000">17.5</text>
<line x1="1896.7" y1="295.7" x2="1901.5" y2="295.7" stroke="#000" stroke-width="1.4"/>
<line x1="1919.8" y1="295.7" x2="1924.6" y2="295.7" stroke="#000" stroke-width="1.4"/>
<text x="1930.4" y="304.2" font-size="24" text-anchor="start" transform="matrix(1 0 0 1.035 0 -10.6)" fill="#000">15.0</text>
<line x1="1896.7" y1="328.3" x2="1901.5" y2="328.3" stroke="#000" stroke-width="1.4"/>
<line x1="1919.8" y1="328.3" x2="1924.6" y2="328.3" stroke="#000" stroke-width="1.4"/>
<text x="1930.4" y="336.8" font-size="24" text-anchor="start" transform="matrix(1 0 0 1.035 0 -11.8)" fill="#000">12.5</text>
<line x1="1896.7" y1="360.8" x2="1901.5" y2="360.8" stroke="#000" stroke-width="1.4"/>
<line x1="1919.8" y1="360.8" x2="1924.6" y2="360.8" stroke="#000" stroke-width="1.4"/>
<text x="1930.4" y="369.3" font-size="24" text-anchor="start" transform="matrix(1 0 0 1.035 0 -12.9)" fill="#000">10.0</text>
<text x="1881.7" y="312.5" font-size="30.6" font-weight="bold" text-anchor="middle" transform="rotate(-90 1881.7 312.5) matrix(1 0 0 1.035 0 -10.9)" fill="#000">GA (weeks)</text>
<line x1="141.8" y1="1397" x2="843.6" y2="1397" stroke="#000" stroke-width="2.3" stroke-dasharray="13.6 13.3" stroke-dashoffset="-20.8"/>
<circle cx="175.2" cy="1430.6" r="7.1" fill="#FFFDF5" stroke="#111" stroke-width="2.8"/>
<circle cx="184.1" cy="1430.6" r="7.1" fill="#FFFDF0" stroke="#111" stroke-width="2.8"/>
<circle cx="190" cy="1430.6" r="7.1" fill="#FFFBEA" stroke="#111" stroke-width="2.8"/>
<circle cx="193.5" cy="1430.6" r="7.1" fill="#FFF8DD" stroke="#111" stroke-width="2.8"/>
<circle cx="203" cy="1422.3" r="7.1" fill="#F2A000" stroke="#111" stroke-width="2.8"/>
<circle cx="203" cy="1430.6" r="7.1" fill="#FFF8E0" stroke="#111" stroke-width="2.8"/>
<circle cx="210.3" cy="1430.6" r="7.1" fill="#FDEEBB" stroke="#111" stroke-width="2.8"/>
<circle cx="216.6" cy="1424.4" r="7.1" fill="#F8DC40" stroke="#111" stroke-width="2.8"/>
<circle cx="220.8" cy="1430.6" r="7.1" fill="#FBE59A" stroke="#111" stroke-width="2.8"/>
<circle cx="227.1" cy="1430.6" r="7.1" fill="#FBE285" stroke="#111" stroke-width="2.8"/>
<circle cx="240.2" cy="1430.6" r="7.4" fill="#FDF0C0" stroke="#111" stroke-width="2.8"/>
<circle cx="248.1" cy="1430.6" r="7.4" fill="#FDF0C0" stroke="#111" stroke-width="2.8"/>
<circle cx="253.3" cy="1424.4" r="7.4" fill="#F8DC40" stroke="#111" stroke-width="2.8"/>
<circle cx="257.5" cy="1429.1" r="7.4" fill="#F8DC30" stroke="#111" stroke-width="2.8"/>
<circle cx="262.7" cy="1423.3" r="7.4" fill="#F8DC40" stroke="#111" stroke-width="2.8"/>
<circle cx="269.5" cy="1428.5" r="7.4" fill="#F8DC20" stroke="#111" stroke-width="2.8"/>
<circle cx="279" cy="1429.1" r="7.8" fill="#F9E060" stroke="#111" stroke-width="2.8"/>
<circle cx="292.1" cy="1418.1" r="7.8" fill="#E87010" stroke="#111" stroke-width="2.8"/>
<circle cx="299.4" cy="1416" r="7.8" fill="#E85018" stroke="#111" stroke-width="2.8"/>
<circle cx="290" cy="1421.2" r="7.8" fill="#F5B000" stroke="#111" stroke-width="2.8"/>
<circle cx="296.3" cy="1430.1" r="8.4" fill="#FBE888" stroke="#111" stroke-width="2.8"/>
<circle cx="305.2" cy="1429.6" r="8.1" fill="#FBE888" stroke="#111" stroke-width="2.8"/>
<circle cx="314.1" cy="1428.5" r="8.1" fill="#F8DC30" stroke="#111" stroke-width="2.8"/>
<circle cx="330.9" cy="1424.9" r="8.9" fill="#F29500" stroke="#111" stroke-width="2.8"/>
<circle cx="362.8" cy="1421.4" r="9.6" fill="#EE6A10" stroke="#111" stroke-width="2.8"/>
<circle cx="375.6" cy="1413.5" r="9.1" fill="#E03A12" stroke="#111" stroke-width="2.8"/>
<circle cx="375.6" cy="1427.3" r="9.1" fill="#F8B800" stroke="#111" stroke-width="2.8"/>
<circle cx="421.4" cy="1423.1" r="10.1" fill="#F08A0A" stroke="#111" stroke-width="2.8"/>
<circle cx="432.7" cy="1421.3" r="9.6" fill="#EA6A10" stroke="#111" stroke-width="2.8"/>
<circle cx="451.4" cy="1405.7" r="9.6" fill="#E03818" stroke="#111" stroke-width="2.8"/>
<circle cx="451.4" cy="1415.9" r="9.6" fill="#E03818" stroke="#111" stroke-width="2.8"/>
<circle cx="489.2" cy="1415.9" r="10.6" fill="#E03818" stroke="#111" stroke-width="2.8"/>
<circle cx="602.2" cy="1416.4" r="13.1" fill="#E84A10" stroke="#111" stroke-width="2.8"/>
<circle cx="580.8" cy="1343" r="12.1" fill="#E03018" stroke="#111" stroke-width="2.8"/>
<circle cx="783.1" cy="1358.8" r="16.1" fill="#E03018" stroke="#111" stroke-width="2.8"/>
<circle cx="788.8" cy="850" r="17.1" fill="#E03018" stroke="#111" stroke-width="2.8"/>
<rect x="141.8" y="757.3" width="701.8" height="702.9" fill="none" stroke="#000" stroke-width="2.5"/>
<line x1="129.8" y1="1432.2" x2="141.8" y2="1432.2" stroke="#000" stroke-width="2.6"/>
<text x="125.5" y="1441.7" font-size="34.5" text-anchor="end" transform="matrix(1 0 0 1.035 0 -50.5)" fill="#000">0</text>
<line x1="129.8" y1="1297.4" x2="141.8" y2="1297.4" stroke="#000" stroke-width="2.6"/>
<text x="125.5" y="1306.9" font-size="34.5" text-anchor="end" transform="matrix(1 0 0 1.035 0 -45.7)" fill="#000">5</text>
<line x1="129.8" y1="1162.5" x2="141.8" y2="1162.5" stroke="#000" stroke-width="2.6"/>
<text x="125.5" y="1172" font-size="34.5" text-anchor="end" transform="matrix(1 0 0 1.035 0 -41)" fill="#000">10</text>
<line x1="129.8" y1="1027.7" x2="141.8" y2="1027.7" stroke="#000" stroke-width="2.6"/>
<text x="125.5" y="1037.2" font-size="34.5" text-anchor="end" transform="matrix(1 0 0 1.035 0 -36.3)" fill="#000">15</text>
<line x1="129.8" y1="892.8" x2="141.8" y2="892.8" stroke="#000" stroke-width="2.6"/>
<text x="125.5" y="902.3" font-size="34.5" text-anchor="end" transform="matrix(1 0 0 1.035 0 -31.6)" fill="#000">20</text>
<line x1="129.8" y1="758" x2="141.8" y2="758" stroke="#000" stroke-width="2.6"/>
<text x="125.5" y="767.5" font-size="34.5" text-anchor="end" transform="matrix(1 0 0 1.035 0 -26.9)" fill="#000">25</text>
<line x1="151.3" y1="1460.2" x2="151.3" y2="1472.2" stroke="#000" stroke-width="2.6"/>
<text x="151.3" y="1507" font-size="34.5" text-anchor="middle" transform="matrix(1 0 0 1.035 0 -52.7)" fill="#000">0</text>
<line x1="289.9" y1="1460.2" x2="289.9" y2="1472.2" stroke="#000" stroke-width="2.6"/>
<text x="289.9" y="1507" font-size="34.5" text-anchor="middle" transform="matrix(1 0 0 1.035 0 -52.7)" fill="#000">1</text>
<line x1="428.5" y1="1460.2" x2="428.5" y2="1472.2" stroke="#000" stroke-width="2.6"/>
<text x="428.5" y="1507" font-size="34.5" text-anchor="middle" transform="matrix(1 0 0 1.035 0 -52.7)" fill="#000">2</text>
<line x1="567.1" y1="1460.2" x2="567.1" y2="1472.2" stroke="#000" stroke-width="2.6"/>
<text x="567.1" y="1507" font-size="34.5" text-anchor="middle" transform="matrix(1 0 0 1.035 0 -52.7)" fill="#000">3</text>
<line x1="705.7" y1="1460.2" x2="705.7" y2="1472.2" stroke="#000" stroke-width="2.6"/>
<text x="705.7" y="1507" font-size="34.5" text-anchor="middle" transform="matrix(1 0 0 1.035 0 -52.7)" fill="#000">4</text>
<line x1="844.3" y1="1460.2" x2="844.3" y2="1472.2" stroke="#000" stroke-width="2.6"/>
<text x="844.3" y="1507" font-size="34.5" text-anchor="middle" transform="matrix(1 0 0 1.035 0 -52.7)" fill="#000">5</text>
<text x="492.7" y="1547.6" font-size="34" font-weight="bold" text-anchor="middle" transform="matrix(1 0 0 1.035 0 -54.2)" fill="#000">Enrichment Factor</text>
<text x="71.6" y="1107.7" font-size="34" font-weight="bold" text-anchor="middle" transform="rotate(-90 71.6 1107.7) matrix(1 0 0 1.035 0 -38.8)" fill="#000">P-value (-log10)</text>
<text x="761.6" y="855.1" font-size="30.5" text-anchor="end" transform="matrix(1 0 0 1.035 0 -29.9)" fill="#000">Steroid hormone biosynthesis</text>
<text x="556.7" y="1351.6" font-size="30.5" text-anchor="end" transform="matrix(1 0 0 1.035 0 -47.3)" fill="#000">Tyrosine metabolism</text>
<text x="739" y="1289" font-size="30.5" text-anchor="middle" transform="matrix(1 0 0 1.035 0 -45.1)" fill="#000">Phenylalanine</text>
<text x="739" y="1326.2" font-size="30.5" text-anchor="middle" transform="matrix(1 0 0 1.035 0 -46.4)" fill="#000">metabolism</text>
<defs><linearGradient id="pvcb" x1="0" y1="1" x2="0" y2="0"><stop offset="0" stop-color="#F8EB32"/><stop offset="0.1" stop-color="#F8E000"/><stop offset="0.3" stop-color="#F8C800"/><stop offset="0.5" stop-color="#F5A800"/><stop offset="0.6" stop-color="#F08A00"/><stop offset="0.8" stop-color="#E85A0A"/><stop offset="1" stop-color="#E12E17"/></linearGradient></defs>
<circle cx="1483.4" cy="1428.4" r="8.9" fill="#F8EB31" stroke="#000" stroke-width="2.6" fill-opacity="0.5" stroke-opacity="0.47"/>
<circle cx="1481.2" cy="1427" r="8.9" fill="#F8EB30" stroke="#000" stroke-width="2.6" fill-opacity="0.5" stroke-opacity="0.47"/>
<circle cx="1475.4" cy="1427" r="8.9" fill="#F8EB30" stroke="#000" stroke-width="2.6" fill-opacity="0.5" stroke-opacity="0.47"/>
<circle cx="1482.1" cy="1426.9" r="8.9" fill="#F8EB30" stroke="#000" stroke-width="2.6" fill-opacity="0.5" stroke-opacity="0.47"/>
<circle cx="1448.5" cy="1426.9" r="8.9" fill="#F8EB30" stroke="#000" stroke-width="2.6" fill-opacity="0.5" stroke-opacity="0.47"/>
<circle cx="1480.1" cy="1426.9" r="8.9" fill="#F8EB30" stroke="#000" stroke-width="2.6" fill-opacity="0.5" stroke-opacity="0.47"/>
<circle cx="1498.4" cy="1426.9" r="8.9" fill="#F8EB30" stroke="#000" stroke-width="2.6" fill-opacity="0.5" stroke-opacity="0.47"/>
<circle cx="1396.2" cy="1426.9" r="8.9" fill="#F8EB30" stroke="#000" stroke-width="2.6" fill-opacity="0.5" stroke-opacity="0.47"/>
<circle cx="1435.9" cy="1426.8" r="8.9" fill="#F8EA30" stroke="#000" stroke-width="2.6" fill-opacity="0.5" stroke-opacity="0.47"/>
<circle cx="1423.9" cy="1426.8" r="8.9" fill="#F8EA30" stroke="#000" stroke-width="2.6" fill-opacity="0.5" stroke-opacity="0.47"/>
<circle cx="1414.6" cy="1426.8" r="8.9" fill="#F8EA30" stroke="#000" stroke-width="2.6" fill-opacity="0.5" stroke-opacity="0.47"/>
<circle cx="1461" cy="1426.8" r="8.9" fill="#F8EA30" stroke="#000" stroke-width="2.6" fill-opacity="0.5" stroke-opacity="0.47"/>
<circle cx="1466.8" cy="1426.7" r="8.9" fill="#F8EA30" stroke="#000" stroke-width="2.6" fill-opacity="0.5" stroke-opacity="0.47"/>
<circle cx="1415.5" cy="1426.6" r="8.9" fill="#F8EA30" stroke="#000" stroke-width="2.6" fill-opacity="0.5" stroke-opacity="0.47"/>
<circle cx="1489.2" cy="1426.6" r="8.9" fill="#F8EA30" stroke="#000" stroke-width="2.6" fill-opacity="0.5" stroke-opacity="0.47"/>
<circle cx="1406.7" cy="1426.6" r="8.9" fill="#F8EA30" stroke="#000" stroke-width="2.6" fill-opacity="0.5" stroke-opacity="0.47"/>
<circle cx="1464.4" cy="1426.6" r="8.9" fill="#F8EA30" stroke="#000" stroke-width="2.6" fill-opacity="0.5" stroke-opacity="0.47"/>
<circle cx="1475.2" cy="1426.6" r="8.9" fill="#F8EA30" stroke="#000" stroke-width="2.6" fill-opacity="0.5" stroke-opacity="0.47"/>
<circle cx="1371" cy="1426.5" r="8.9" fill="#F8EA30" stroke="#000" stroke-width="2.6" fill-opacity="0.5" stroke-opacity="0.47"/>
<circle cx="1451.4" cy="1426.5" r="8.9" fill="#F8EA30" stroke="#000" stroke-width="2.6" fill-opacity="0.5" stroke-opacity="0.47"/>
<circle cx="1459.8" cy="1426.4" r="8.9" fill="#F8EA30" stroke="#000" stroke-width="2.6" fill-opacity="0.5" stroke-opacity="0.47"/>
<circle cx="1485.6" cy="1426.4" r="8.9" fill="#F8EA30" stroke="#000" stroke-width="2.6" fill-opacity="0.5" stroke-opacity="0.47"/>
<circle cx="1436.1" cy="1426.3" r="8.9" fill="#F8EA30" stroke="#000" stroke-width="2.6" fill-opacity="0.5" stroke-opacity="0.47"/>
<circle cx="1459.6" cy="1426.3" r="8.9" fill="#F8EA30" stroke="#000" stroke-width="2.6" fill-opacity="0.5" stroke-opacity="0.47"/>
<circle cx="1484.6" cy="1426.2" r="8.9" fill="#F8EA30" stroke="#000" stroke-width="2.6" fill-opacity="0.5" stroke-opacity="0.47"/>
<circle cx="1421.8" cy="1426.1" r="8.9" fill="#F8EA30" stroke="#000" stroke-width="2.6" fill-opacity="0.5" stroke-opacity="0.47"/>
<circle cx="1406" cy="1426.1" r="8.9" fill="#F8EA30" stroke="#000" stroke-width="2.6" fill-opacity="0.5" stroke-opacity="0.47"/>
<circle cx="1452.7" cy="1426.1" r="8.9" fill="#F8EA30" stroke="#000" stroke-width="2.6" fill-opacity="0.5" stroke-opacity="0.47"/>
<circle cx="1502.1" cy="1426.1" r="8.9" fill="#F8EA30" stroke="#000" stroke-width="2.6" fill-opacity="0.5" stroke-opacity="0.47"/>
<circle cx="1453.5" cy="1426" r="8.9" fill="#F8EA2F" stroke="#000" stroke-width="2.6" fill-opacity="0.5" stroke-opacity="0.47"/>
<circle cx="1392.9" cy="1426" r="8.9" fill="#F8EA2F" stroke="#000" stroke-width="2.6" fill-opacity="0.5" stroke-opacity="0.47"/>
<circle cx="1449.3" cy="1425.8" r="8.9" fill="#F8EA2F" stroke="#000" stroke-width="2.6" fill-opacity="0.5" stroke-opacity="0.47"/>
<circle cx="1504.1" cy="1425.8" r="8.9" fill="#F8EA2F" stroke="#000" stroke-width="2.6" fill-opacity="0.5" stroke-opacity="0.47"/>
<circle cx="1415.7" cy="1425.8" r="8.9" fill="#F8EA2F" stroke="#000" stroke-width="2.6" fill-opacity="0.5" stroke-opacity="0.47"/>
<circle cx="1435" cy="1425.8" r="8.9" fill="#F8EA2F" stroke="#000" stroke-width="2.6" fill-opacity="0.5" stroke-opacity="0.47"/>
<circle cx="1496.3" cy="1425.8" r="8.9" fill="#F8EA2F" stroke="#000" stroke-width="2.6" fill-opacity="0.5" stroke-opacity="0.47"/>
<circle cx="1462.5" cy="1425.8" r="8.9" fill="#F8EA2F" stroke="#000" stroke-width="2.6" fill-opacity="0.5" stroke-opacity="0.47"/>
<circle cx="1501.6" cy="1425.8" r="8.9" fill="#F8EA2F" stroke="#000" stroke-width="2.6" fill-opacity="0.5" stroke-opacity="0.47"/>
<circle cx="1463.2" cy="1425.7" r="8.9" fill="#F8EA2F" stroke="#000" stroke-width="2.6" fill-opacity="0.5" stroke-opacity="0.47"/>
<circle cx="1503.2" cy="1425.7" r="8.9" fill="#F8EA2F" stroke="#000" stroke-width="2.6" fill-opacity="0.5" stroke-opacity="0.47"/>
<circle cx="1420.6" cy="1425.6" r="8.9" fill="#F8EA2F" stroke="#000" stroke-width="2.6" fill-opacity="0.5" stroke-opacity="0.47"/>
<circle cx="1505.1" cy="1425.5" r="8.9" fill="#F8EA2F" stroke="#000" stroke-width="2.6" fill-opacity="0.5" stroke-opacity="0.47"/>
<circle cx="1393.3" cy="1425.4" r="8.9" fill="#F8EA2F" stroke="#000" stroke-width="2.6" fill-opacity="0.5" stroke-opacity="0.47"/>
<circle cx="1393.8" cy="1425.2" r="8.9" fill="#F8EA2F" stroke="#000" stroke-width="2.6" fill-opacity="0.5" stroke-opacity="0.47"/>
<circle cx="1428.4" cy="1425.2" r="8.9" fill="#F8EA2F" stroke="#000" stroke-width="2.6" fill-opacity="0.5" stroke-opacity="0.47"/>
<circle cx="1412.7" cy="1425.2" r="8.9" fill="#F8EA2F" stroke="#000" stroke-width="2.6" fill-opacity="0.5" stroke-opacity="0.47"/>
<circle cx="1394" cy="1425.1" r="8.9" fill="#F8EA2F" stroke="#000" stroke-width="2.6" fill-opacity="0.5" stroke-opacity="0.47"/>
<circle cx="1446.3" cy="1425" r="8.9" fill="#F8EA2F" stroke="#000" stroke-width="2.6" fill-opacity="0.5" stroke-opacity="0.47"/>
<circle cx="1449" cy="1424.9" r="8.9" fill="#F8EA2F" stroke="#000" stroke-width="2.6" fill-opacity="0.5" stroke-opacity="0.47"/>
<circle cx="1429.5" cy="1424.7" r="8.9" fill="#F8EA2F" stroke="#000" stroke-width="2.6" fill-opacity="0.5" stroke-opacity="0.47"/>
<circle cx="1499.6" cy="1424.6" r="8.9" fill="#F8EA2F" stroke="#000" stroke-width="2.6" fill-opacity="0.5" stroke-opacity="0.47"/>
<circle cx="1396.8" cy="1424.5" r="8.9" fill="#F8EA2F" stroke="#000" stroke-width="2.6" fill-opacity="0.5" stroke-opacity="0.47"/>
<circle cx="1457.5" cy="1424.5" r="8.9" fill="#F8EA2F" stroke="#000" stroke-width="2.6" fill-opacity="0.5" stroke-opacity="0.47"/>
<circle cx="1397.9" cy="1424.5" r="8.9" fill="#F8EA2F" stroke="#000" stroke-width="2.6" fill-opacity="0.5" stroke-opacity="0.47"/>
<circle cx="1390" cy="1424.3" r="8.9" fill="#F8EA2E" stroke="#000" stroke-width="2.6" fill-opacity="0.5" stroke-opacity="0.47"/>
<circle cx="1452.5" cy="1424.3" r="8.9" fill="#F8EA2E" stroke="#000" stroke-width="2.6" fill-opacity="0.5" stroke-opacity="0.47"/>
<circle cx="1487" cy="1424.3" r="8.9" fill="#F8EA2E" stroke="#000" stroke-width="2.6" fill-opacity="0.5" stroke-opacity="0.47"/>
<circle cx="1497.8" cy="1424.3" r="8.9" fill="#F8EA2E" stroke="#000" stroke-width="2.6" fill-opacity="0.5" stroke-opacity="0.47"/>
<circle cx="1489.8" cy="1424.2" r="8.9" fill="#F8EA2E" stroke="#000" stroke-width="2.6" fill-opacity="0.5" stroke-opacity="0.47"/>
<circle cx="1452.6" cy="1424.1" r="8.9" fill="#F8EA2E" stroke="#000" stroke-width="2.6" fill-opacity="0.5" stroke-opacity="0.47"/>
<circle cx="1429" cy="1424" r="8.9" fill="#F8EA2E" stroke="#000" stroke-width="2.6" fill-opacity="0.5" stroke-opacity="0.47"/>
<circle cx="1434.3" cy="1424" r="8.9" fill="#F8EA2E" stroke="#000" stroke-width="2.6" fill-opacity="0.5" stroke-opacity="0.47"/>
<circle cx="1407.1" cy="1424" r="8.9" fill="#F8EA2E" stroke="#000" stroke-width="2.6" fill-opacity="0.5" stroke-opacity="0.47"/>
<circle cx="1504.3" cy="1424" r="8.9" fill="#F8EA2E" stroke="#000" stroke-width="2.6" fill-opacity="0.5" stroke-opacity="0.47"/>
<circle cx="1495.2" cy="1423.9" r="8.9" fill="#F8EA2E" stroke="#000" stroke-width="2.6" fill-opacity="0.5" stroke-opacity="0.47"/>
<circle cx="1466.5" cy="1423.9" r="8.9" fill="#F8EA2E" stroke="#000" stroke-width="2.6" fill-opacity="0.5" stroke-opacity="0.47"/>
<circle cx="1446.1" cy="1423.8" r="8.9" fill="#F8EA2E" stroke="#000" stroke-width="2.6" fill-opacity="0.5" stroke-opacity="0.47"/>
<circle cx="1402.7" cy="1423.8" r="8.9" fill="#F8EA2E" stroke="#000" stroke-width="2.6" fill-opacity="0.5" stroke-opacity="0.47"/>
<circle cx="1504.6" cy="1423.8" r="8.9" fill="#F8EA2E" stroke="#000" stroke-width="2.6" fill-opacity="0.5" stroke-opacity="0.47"/>
<circle cx="1526.7" cy="1423.7" r="8.9" fill="#F8EA2E" stroke="#000" stroke-width="2.6" fill-opacity="0.5" stroke-opacity="0.47"/>
<circle cx="1449.6" cy="1423.6" r="8.9" fill="#F8EA2E" stroke="#000" stroke-width="2.6" fill-opacity="0.5" stroke-opacity="0.47"/>
<circle cx="1396" cy="1423.5" r="8.9" fill="#F8EA2E" stroke="#000" stroke-width="2.6" fill-opacity="0.5" stroke-opacity="0.47"/>
<circle cx="1421" cy="1423.5" r="8.9" fill="#F8EA2E" stroke="#000" stroke-width="2.6" fill-opacity="0.5" stroke-opacity="0.47"/>
<circle cx="1449.7" cy="1423.5" r="8.9" fill="#F8EA2E" stroke="#000" stroke-width="2.6" fill-opacity="0.5" stroke-opacity="0.47"/>
<circle cx="1490.2" cy="1423.3" r="8.9" fill="#F8EA2E" stroke="#000" stroke-width="2.6" fill-opacity="0.5" stroke-opacity="0.47"/>
<circle cx="1418.9" cy="1423.2" r="8.9" fill="#F8EA2E" stroke="#000" stroke-width="2.6" fill-opacity="0.5" stroke-opacity="0.47"/>
<circle cx="1450.5" cy="1423.1" r="8.9" fill="#F8EA2E" stroke="#000" stroke-width="2.6" fill-opacity="0.5" stroke-opacity="0.47"/>
<circle cx="1414.8" cy="1423.1" r="8.9" fill="#F8EA2E" stroke="#000" stroke-width="2.6" fill-opacity="0.5" stroke-opacity="0.47"/>
<circle cx="1405.2" cy="1423" r="8.9" fill="#F8EA2E" stroke="#000" stroke-width="2.6" fill-opacity="0.5" stroke-opacity="0.47"/>
<circle cx="1500.1" cy="1423" r="8.9" fill="#F8EA2E" stroke="#000" stroke-width="2.6" fill-opacity="0.5" stroke-opacity="0.47"/>
<circle cx="1435.7" cy="1423" r="8.9" fill="#F8EA2E" stroke="#000" stroke-width="2.6" fill-opacity="0.5" stroke-opacity="0.47"/>
<circle cx="1399.8" cy="1422.9" r="8.9" fill="#F8EA2E" stroke="#000" stroke-width="2.6" fill-opacity="0.5" stroke-opacity="0.47"/>
<circle cx="1424.1" cy="1422.9" r="8.9" fill="#F8EA2E" stroke="#000" stroke-width="2.6" fill-opacity="0.5" stroke-opacity="0.47"/>
<circle cx="1504.2" cy="1422.8" r="8.9" fill="#F8EA2E" stroke="#000" stroke-width="2.6" fill-opacity="0.5" stroke-opacity="0.47"/>
<circle cx="1434.9" cy="1422.8" r="8.9" fill="#F8EA2E" stroke="#000" stroke-width="2.6" fill-opacity="0.5" stroke-opacity="0.47"/>
<circle cx="1474" cy="1422.7" r="8.9" fill="#F8EA2D" stroke="#000" stroke-width="2.6" fill-opacity="0.5" stroke-opacity="0.47"/>
<circle cx="1428.8" cy="1422.6" r="8.9" fill="#F8EA2D" stroke="#000" stroke-width="2.6" fill-opacity="0.5" stroke-opacity="0.47"/>
<circle cx="1491.6" cy="1422.6" r="8.9" fill="#F8EA2D" stroke="#000" stroke-width="2.6" fill-opacity="0.5" stroke-opacity="0.47"/>
<circle cx="1446.2" cy="1422.4" r="8.9" fill="#F8EA2D" stroke="#000" stroke-width="2.6" fill-opacity="0.5" stroke-opacity="0.47"/>
<circle cx="1490.6" cy="1422.3" r="8.9" fill="#F8EA2D" stroke="#000" stroke-width="2.6" fill-opacity="0.5" stroke-opacity="0.47"/>
<circle cx="1486.5" cy="1422.2" r="8.9" fill="#F8EA2D" stroke="#000" stroke-width="2.6" fill-opacity="0.5" stroke-opacity="0.47"/>
<circle cx="1392.8" cy="1422.2" r="8.9" fill="#F8EA2D" stroke="#000" stroke-width="2.6" fill-opacity="0.5" stroke-opacity="0.47"/>
<circle cx="1462.1" cy="1422.2" r="8.9" fill="#F8EA2D" stroke="#000" stroke-width="2.6" fill-opacity="0.5" stroke-opacity="0.47"/>
<circle cx="1456" cy="1422.1" r="8.9" fill="#F8EA2D" stroke="#000" stroke-width="2.6" fill-opacity="0.5" stroke-opacity="0.47"/>
<circle cx="1447.1" cy="1422.1" r="8.9" fill="#F8EA2D" stroke="#000" stroke-width="2.6" fill-opacity="0.5" stroke-opacity="0.47"/>
<circle cx="1410.7" cy="1421.7" r="8.9" fill="#F8EA2D" stroke="#000" stroke-width="2.6" fill-opacity="0.5" stroke-opacity="0.47"/>
<circle cx="1485.4" cy="1421.6" r="8.9" fill="#F8EA2D" stroke="#000" stroke-width="2.6" fill-opacity="0.5" stroke-opacity="0.47"/>
<circle cx="1473" cy="1421.5" r="8.9" fill="#F8EA2D" stroke="#000" stroke-width="2.6" fill-opacity="0.5" stroke-opacity="0.47"/>
<circle cx="1435" cy="1421.4" r="8.9" fill="#F8EA2D" stroke="#000" stroke-width="2.6" fill-opacity="0.5" stroke-opacity="0.47"/>
<circle cx="1399.2" cy="1421.3" r="8.9" fill="#F8EA2D" stroke="#000" stroke-width="2.6" fill-opacity="0.5" stroke-opacity="0.47"/>
<circle cx="1484.7" cy="1421.3" r="8.9" fill="#F8EA2D" stroke="#000" stroke-width="2.6" fill-opacity="0.5" stroke-opacity="0.47"/>
<circle cx="1428.5" cy="1421" r="8.9" fill="#F8EA2C" stroke="#000" stroke-width="2.6" fill-opacity="0.5" stroke-opacity="0.47"/>
<circle cx="1395.8" cy="1421" r="8.9" fill="#F8EA2C" stroke="#000" stroke-width="2.6" fill-opacity="0.5" stroke-opacity="0.47"/>
<circle cx="1430.3" cy="1421" r="8.9" fill="#F8EA2C" stroke="#000" stroke-width="2.6" fill-opacity="0.5" stroke-opacity="0.47"/>
<circle cx="1393.4" cy="1420.8" r="8.9" fill="#F8EA2C" stroke="#000" stroke-width="2.6" fill-opacity="0.5" stroke-opacity="0.47"/>
<circle cx="1431.1" cy="1420.8" r="8.9" fill="#F8EA2C" stroke="#000" stroke-width="2.6" fill-opacity="0.5" stroke-opacity="0.47"/>
<circle cx="1453.7" cy="1420.7" r="8.9" fill="#F8EA2C" stroke="#000" stroke-width="2.6" fill-opacity="0.5" stroke-opacity="0.47"/>
<circle cx="1497.6" cy="1420.5" r="8.9" fill="#F8EA2C" stroke="#000" stroke-width="2.6" fill-opacity="0.5" stroke-opacity="0.47"/>
<circle cx="1461.3" cy="1420.4" r="8.9" fill="#F8EA2C" stroke="#000" stroke-width="2.6" fill-opacity="0.5" stroke-opacity="0.47"/>
<circle cx="1398.3" cy="1420.4" r="8.9" fill="#F8EA2C" stroke="#000" stroke-width="2.6" fill-opacity="0.5" stroke-opacity="0.47"/>
<circle cx="1476" cy="1420.3" r="8.9" fill="#F8EA2C" stroke="#000" stroke-width="2.6" fill-opacity="0.5" stroke-opacity="0.47"/>
<circle cx="1400.4" cy="1420.3" r="8.9" fill="#F8EA2C" stroke="#000" stroke-width="2.6" fill-opacity="0.5" stroke-opacity="0.47"/>
<circle cx="1428.6" cy="1420.3" r="8.9" fill="#F8EA2C" stroke="#000" stroke-width="2.6" fill-opacity="0.5" stroke-opacity="0.47"/>
<circle cx="1391.3" cy="1420.2" r="8.9" fill="#F8EA2C" stroke="#000" stroke-width="2.6" fill-opacity="0.5" stroke-opacity="0.47"/>
<circle cx="1405.5" cy="1420.1" r="8.9" fill="#F8EA2C" stroke="#000" stroke-width="2.6" fill-opacity="0.5" stroke-opacity="0.47"/>
<circle cx="1396.1" cy="1420" r="8.9" fill="#F8EA2C" stroke="#000" stroke-width="2.6" fill-opacity="0.5" stroke-opacity="0.47"/>
<circle cx="1476.7" cy="1420" r="8.9" fill="#F8EA2C" stroke="#000" stroke-width="2.6" fill-opacity="0.5" stroke-opacity="0.47"/>
<circle cx="1491" cy="1419.8" r="8.9" fill="#F8EA2C" stroke="#000" stroke-width="2.6" fill-opacity="0.5" stroke-opacity="0.47"/>
<circle cx="1475.7" cy="1419.7" r="8.9" fill="#F8EA2C" stroke="#000" stroke-width="2.6" fill-opacity="0.5" stroke-opacity="0.47"/>
<circle cx="1495.1" cy="1419.6" r="8.9" fill="#F8EA2C" stroke="#000" stroke-width="2.6" fill-opacity="0.5" stroke-opacity="0.47"/>
<circle cx="1436.1" cy="1419.5" r="8.9" fill="#F8EA2C" stroke="#000" stroke-width="2.6" fill-opacity="0.5" stroke-opacity="0.47"/>
<circle cx="1394.9" cy="1419.5" r="8.9" fill="#F8EA2C" stroke="#000" stroke-width="2.6" fill-opacity="0.5" stroke-opacity="0.47"/>
<circle cx="1454.8" cy="1419.3" r="8.9" fill="#F8E92B" stroke="#000" stroke-width="2.6" fill-opacity="0.5" stroke-opacity="0.47"/>
<circle cx="1487.3" cy="1419.2" r="8.9" fill="#F8E92B" stroke="#000" stroke-width="2.6" fill-opacity="0.5" stroke-opacity="0.47"/>
<circle cx="1499.7" cy="1419.1" r="8.9" fill="#F8E92B" stroke="#000" stroke-width="2.6" fill-opacity="0.5" stroke-opacity="0.47"/>
<circle cx="1432.9" cy="1419" r="8.9" fill="#F8E92B" stroke="#000" stroke-width="2.6" fill-opacity="0.5" stroke-opacity="0.47"/>
<circle cx="1472.4" cy="1419" r="8.9" fill="#F8E92B" stroke="#000" stroke-width="2.6" fill-opacity="0.5" stroke-opacity="0.47"/>
<circle cx="1476.3" cy="1419" r="8.9" fill="#F8E92B" stroke="#000" stroke-width="2.6" fill-opacity="0.5" stroke-opacity="0.47"/>
<circle cx="1499" cy="1419" r="8.9" fill="#F8E92B" stroke="#000" stroke-width="2.6" fill-opacity="0.5" stroke-opacity="0.47"/>
<circle cx="1435.6" cy="1418.9" r="8.9" fill="#F8E92B" stroke="#000" stroke-width="2.6" fill-opacity="0.5" stroke-opacity="0.47"/>
<circle cx="1446.1" cy="1418.8" r="8.9" fill="#F8E92B" stroke="#000" stroke-width="2.6" fill-opacity="0.5" stroke-opacity="0.47"/>
<circle cx="1489.9" cy="1418.7" r="8.9" fill="#F8E92B" stroke="#000" stroke-width="2.6" fill-opacity="0.5" stroke-opacity="0.47"/>
<circle cx="1451.4" cy="1418.7" r="8.9" fill="#F8E92B" stroke="#000" stroke-width="2.6" fill-opacity="0.5" stroke-opacity="0.47"/>
<circle cx="1390.8" cy="1418.6" r="8.9" fill="#F8E92B" stroke="#000" stroke-width="2.6" fill-opacity="0.5" stroke-opacity="0.47"/>
<circle cx="1417.7" cy="1418.4" r="8.9" fill="#F8E92B" stroke="#000" stroke-width="2.6" fill-opacity="0.5" stroke-opacity="0.47"/>
<circle cx="1424.3" cy="1418.4" r="8.9" fill="#F8E92B" stroke="#000" stroke-width="2.6" fill-opacity="0.5" stroke-opacity="0.47"/>
<circle cx="1406.1" cy="1418.3" r="8.9" fill="#F8E92B" stroke="#000" stroke-width="2.6" fill-opacity="0.5" stroke-opacity="0.47"/>
<circle cx="1315.2" cy="1418.2" r="8.9" fill="#F8E92B" stroke="#000" stroke-width="2.6" fill-opacity="0.5" stroke-opacity="0.47"/>
<circle cx="1477.6" cy="1418" r="8.9" fill="#F8E92B" stroke="#000" stroke-width="2.6" fill-opacity="0.5" stroke-opacity="0.47"/>
<circle cx="1401.7" cy="1417.9" r="8.9" fill="#F8E92B" stroke="#000" stroke-width="2.6" fill-opacity="0.5" stroke-opacity="0.47"/>
<circle cx="1504.4" cy="1417.9" r="8.9" fill="#F8E92B" stroke="#000" stroke-width="2.6" fill-opacity="0.5" stroke-opacity="0.47"/>
<circle cx="1475.8" cy="1417.9" r="8.9" fill="#F8E92B" stroke="#000" stroke-width="2.6" fill-opacity="0.5" stroke-opacity="0.47"/>
<circle cx="1436.5" cy="1417.8" r="8.9" fill="#F8E92A" stroke="#000" stroke-width="2.6" fill-opacity="0.5" stroke-opacity="0.47"/>
<circle cx="1495.2" cy="1417.7" r="8.9" fill="#F8E92A" stroke="#000" stroke-width="2.6" fill-opacity="0.5" stroke-opacity="0.47"/>
<circle cx="1502.4" cy="1417.6" r="8.9" fill="#F8E92A" stroke="#000" stroke-width="2.6" fill-opacity="0.5" stroke-opacity="0.47"/>
<circle cx="1505.9" cy="1417.5" r="8.9" fill="#F8E92A" stroke="#000" stroke-width="2.6" fill-opacity="0.5" stroke-opacity="0.47"/>
<circle cx="1401.8" cy="1417.2" r="8.9" fill="#F8E92A" stroke="#000" stroke-width="2.6" fill-opacity="0.5" stroke-opacity="0.47"/>
<circle cx="1447.9" cy="1416.6" r="8.9" fill="#F8E92A" stroke="#000" stroke-width="2.6" fill-opacity="0.5" stroke-opacity="0.47"/>
<circle cx="1399.2" cy="1416.5" r="8.9" fill="#F8E92A" stroke="#000" stroke-width="2.6" fill-opacity="0.5" stroke-opacity="0.47"/>
<circle cx="1434.8" cy="1416.4" r="8.9" fill="#F8E92A" stroke="#000" stroke-width="2.6" fill-opacity="0.5" stroke-opacity="0.47"/>
<circle cx="1411.3" cy="1416.3" r="8.9" fill="#F8E92A" stroke="#000" stroke-width="2.6" fill-opacity="0.5" stroke-opacity="0.47"/>
<circle cx="1454" cy="1416.2" r="8.9" fill="#F8E92A" stroke="#000" stroke-width="2.6" fill-opacity="0.5" stroke-opacity="0.47"/>
<circle cx="1469.3" cy="1416.1" r="8.9" fill="#F8E929" stroke="#000" stroke-width="2.6" fill-opacity="0.5" stroke-opacity="0.47"/>
<circle cx="1454.4" cy="1416" r="8.9" fill="#F8E929" stroke="#000" stroke-width="2.6" fill-opacity="0.5" stroke-opacity="0.47"/>
<circle cx="1490" cy="1416" r="8.9" fill="#F8E929" stroke="#000" stroke-width="2.6" fill-opacity="0.5" stroke-opacity="0.47"/>
<circle cx="1442.5" cy="1415.8" r="8.9" fill="#F8E929" stroke="#000" stroke-width="2.6" fill-opacity="0.5" stroke-opacity="0.47"/>
<circle cx="1390.2" cy="1415.8" r="8.9" fill="#F8E929" stroke="#000" stroke-width="2.6" fill-opacity="0.5" stroke-opacity="0.47"/>
<circle cx="1460.1" cy="1415.8" r="8.9" fill="#F8E929" stroke="#000" stroke-width="2.6" fill-opacity="0.5" stroke-opacity="0.47"/>
<circle cx="1464.3" cy="1415.7" r="8.9" fill="#F8E929" stroke="#000" stroke-width="2.6" fill-opacity="0.5" stroke-opacity="0.47"/>
<circle cx="1394.8" cy="1415.4" r="8.9" fill="#F8E929" stroke="#000" stroke-width="2.6" fill-opacity="0.5" stroke-opacity="0.47"/>
<circle cx="1503.5" cy="1415.4" r="8.9" fill="#F8E929" stroke="#000" stroke-width="2.6" fill-opacity="0.5" stroke-opacity="0.47"/>
<circle cx="1462.9" cy="1415.2" r="8.9" fill="#F8E929" stroke="#000" stroke-width="2.6" fill-opacity="0.5" stroke-opacity="0.47"/>
<circle cx="1499.5" cy="1415.2" r="8.9" fill="#F8E929" stroke="#000" stroke-width="2.6" fill-opacity="0.5" stroke-opacity="0.47"/>
<circle cx="1460.3" cy="1414.9" r="8.9" fill="#F8E929" stroke="#000" stroke-width="2.6" fill-opacity="0.5" stroke-opacity="0.47"/>
<circle cx="1462.3" cy="1414.9" r="8.9" fill="#F8E929" stroke="#000" stroke-width="2.6" fill-opacity="0.5" stroke-opacity="0.47"/>
<circle cx="1401.9" cy="1414.5" r="8.9" fill="#F8E928" stroke="#000" stroke-width="2.6" fill-opacity="0.5" stroke-opacity="0.47"/>
<circle cx="1414.2" cy="1414.4" r="8.9" fill="#F8E928" stroke="#000" stroke-width="2.6" fill-opacity="0.5" stroke-opacity="0.47"/>
<circle cx="1492" cy="1414.4" r="8.9" fill="#F8E928" stroke="#000" stroke-width="2.6" fill-opacity="0.5" stroke-opacity="0.47"/>
<circle cx="1448.4" cy="1414.3" r="8.9" fill="#F8E928" stroke="#000" stroke-width="2.6" fill-opacity="0.5" stroke-opacity="0.47"/>
<circle cx="1461" cy="1414.2" r="8.9" fill="#F8E928" stroke="#000" stroke-width="2.6" fill-opacity="0.5" stroke-opacity="0.47"/>
<circle cx="1391.8" cy="1414.1" r="8.9" fill="#F8E928" stroke="#000" stroke-width="2.6" fill-opacity="0.5" stroke-opacity="0.47"/>
<circle cx="1429.5" cy="1414" r="8.9" fill="#F8E928" stroke="#000" stroke-width="2.6" fill-opacity="0.5" stroke-opacity="0.47"/>
<circle cx="1471.2" cy="1413.9" r="8.9" fill="#F8E928" stroke="#000" stroke-width="2.6" fill-opacity="0.5" stroke-opacity="0.47"/>
<circle cx="1503.6" cy="1413.9" r="8.9" fill="#F8E928" stroke="#000" stroke-width="2.6" fill-opacity="0.5" stroke-opacity="0.47"/>
<circle cx="1498.2" cy="1413.8" r="8.9" fill="#F8E928" stroke="#000" stroke-width="2.6" fill-opacity="0.5" stroke-opacity="0.47"/>
<circle cx="1491.2" cy="1413.5" r="8.9" fill="#F8E928" stroke="#000" stroke-width="2.6" fill-opacity="0.5" stroke-opacity="0.47"/>
<circle cx="1402.3" cy="1413.5" r="8.9" fill="#F8E928" stroke="#000" stroke-width="2.6" fill-opacity="0.5" stroke-opacity="0.47"/>
<circle cx="1391.1" cy="1413.5" r="8.9" fill="#F8E928" stroke="#000" stroke-width="2.6" fill-opacity="0.5" stroke-opacity="0.47"/>
<circle cx="1488.4" cy="1413.4" r="8.9" fill="#F8E928" stroke="#000" stroke-width="2.6" fill-opacity="0.5" stroke-opacity="0.47"/>
<circle cx="1473" cy="1413.4" r="8.9" fill="#F8E928" stroke="#000" stroke-width="2.6" fill-opacity="0.5" stroke-opacity="0.47"/>
<circle cx="1489.4" cy="1413.3" r="8.9" fill="#F8E928" stroke="#000" stroke-width="2.6" fill-opacity="0.5" stroke-opacity="0.47"/>
<circle cx="1501.6" cy="1413.3" r="8.9" fill="#F8E928" stroke="#000" stroke-width="2.6" fill-opacity="0.5" stroke-opacity="0.47"/>
<circle cx="1502.5" cy="1413.2" r="8.9" fill="#F8E928" stroke="#000" stroke-width="2.6" fill-opacity="0.5" stroke-opacity="0.47"/>
<circle cx="1420" cy="1413.2" r="8.9" fill="#F8E928" stroke="#000" stroke-width="2.6" fill-opacity="0.5" stroke-opacity="0.47"/>
<circle cx="1415.2" cy="1413.1" r="8.9" fill="#F8E928" stroke="#000" stroke-width="2.6" fill-opacity="0.5" stroke-opacity="0.47"/>
<circle cx="1499.2" cy="1413.1" r="8.9" fill="#F8E928" stroke="#000" stroke-width="2.6" fill-opacity="0.5" stroke-opacity="0.47"/>
<circle cx="1491" cy="1413.1" r="8.9" fill="#F8E928" stroke="#000" stroke-width="2.6" fill-opacity="0.5" stroke-opacity="0.47"/>
<circle cx="1486.6" cy="1412.7" r="8.9" fill="#F8E927" stroke="#000" stroke-width="2.6" fill-opacity="0.5" stroke-opacity="0.47"/>
<circle cx="1407.9" cy="1412.7" r="8.9" fill="#F8E927" stroke="#000" stroke-width="2.6" fill-opacity="0.5" stroke-opacity="0.47"/>
<circle cx="1428.4" cy="1412.7" r="8.9" fill="#F8E927" stroke="#000" stroke-width="2.6" fill-opacity="0.5" stroke-opacity="0.47"/>
<circle cx="1448.6" cy="1412.6" r="8.9" fill="#F8E927" stroke="#000" stroke-width="2.6" fill-opacity="0.5" stroke-opacity="0.47"/>
<circle cx="1479.4" cy="1412.3" r="8.9" fill="#F8E927" stroke="#000" stroke-width="2.6" fill-opacity="0.5" stroke-opacity="0.47"/>
<circle cx="1393.8" cy="1411.8" r="8.9" fill="#F8E827" stroke="#000" stroke-width="2.6" fill-opacity="0.5" stroke-opacity="0.47"/>
<circle cx="1417.1" cy="1411.6" r="8.9" fill="#F8E827" stroke="#000" stroke-width="2.6" fill-opacity="0.5" stroke-opacity="0.47"/>
<circle cx="1450.2" cy="1411.6" r="8.9" fill="#F8E827" stroke="#000" stroke-width="2.6" fill-opacity="0.5" stroke-opacity="0.47"/>
<circle cx="1395.7" cy="1411.5" r="8.9" fill="#F8E827" stroke="#000" stroke-width="2.6" fill-opacity="0.5" stroke-opacity="0.47"/>
<circle cx="1397.6" cy="1411.4" r="8.9" fill="#F8E827" stroke="#000" stroke-width="2.6" fill-opacity="0.5" stroke-opacity="0.47"/>
<circle cx="1487" cy="1411.4" r="8.9" fill="#F8E827" stroke="#000" stroke-width="2.6" fill-opacity="0.5" stroke-opacity="0.47"/>
<circle cx="1408.4" cy="1411.3" r="8.9" fill="#F8E827" stroke="#000" stroke-width="2.6" fill-opacity="0.5" stroke-opacity="0.47"/>
<circle cx="1513.3" cy="1411.1" r="8.9" fill="#F8E826" stroke="#000" stroke-width="2.6" fill-opacity="0.5" stroke-opacity="0.47"/>
<circle cx="1493.8" cy="1411.1" r="8.9" fill="#F8E826" stroke="#000" stroke-width="2.6" fill-opacity="0.5" stroke-opacity="0.47"/>
<circle cx="1422" cy="1411.1" r="8.9" fill="#F8E826" stroke="#000" stroke-width="2.6" fill-opacity="0.5" stroke-opacity="0.47"/>
<circle cx="1473" cy="1411" r="8.9" fill="#F8E826" stroke="#000" stroke-width="2.6" fill-opacity="0.5" stroke-opacity="0.47"/>
<circle cx="1403.1" cy="1410.8" r="8.9" fill="#F8E826" stroke="#000" stroke-width="2.6" fill-opacity="0.5" stroke-opacity="0.47"/>
<circle cx="1493.9" cy="1410.8" r="8.9" fill="#F8E826" stroke="#000" stroke-width="2.6" fill-opacity="0.5" stroke-opacity="0.47"/>
<circle cx="1486.3" cy="1410.7" r="8.9" fill="#F8E826" stroke="#000" stroke-width="2.6" fill-opacity="0.5" stroke-opacity="0.47"/>
<circle cx="1402.2" cy="1410.7" r="8.9" fill="#F8E826" stroke="#000" stroke-width="2.6" fill-opacity="0.5" stroke-opacity="0.47"/>
<circle cx="1464.7" cy="1410.4" r="8.9" fill="#F8E826" stroke="#000" stroke-width="2.6" fill-opacity="0.5" stroke-opacity="0.47"/>
<circle cx="1392.7" cy="1410" r="8.9" fill="#F8E826" stroke="#000" stroke-width="2.6" fill-opacity="0.5" stroke-opacity="0.47"/>
<circle cx="1499.1" cy="1410" r="8.9" fill="#F8E826" stroke="#000" stroke-width="2.6" fill-opacity="0.5" stroke-opacity="0.47"/>
<circle cx="1481.1" cy="1410" r="8.9" fill="#F8E826" stroke="#000" stroke-width="2.6" fill-opacity="0.5" stroke-opacity="0.47"/>
<circle cx="1425.3" cy="1409.9" r="8.9" fill="#F8E826" stroke="#000" stroke-width="2.6" fill-opacity="0.5" stroke-opacity="0.47"/>
<circle cx="1503.2" cy="1409.9" r="8.9" fill="#F8E826" stroke="#000" stroke-width="2.6" fill-opacity="0.5" stroke-opacity="0.47"/>
<circle cx="1527.5" cy="1409.5" r="8.9" fill="#F8E825" stroke="#000" stroke-width="2.6" fill-opacity="0.5" stroke-opacity="0.47"/>
<circle cx="1426.3" cy="1409.1" r="8.9" fill="#F8E825" stroke="#000" stroke-width="2.6" fill-opacity="0.5" stroke-opacity="0.47"/>
<circle cx="1450" cy="1409.1" r="8.9" fill="#F8E825" stroke="#000" stroke-width="2.6" fill-opacity="0.5" stroke-opacity="0.47"/>
<circle cx="1416" cy="1409.1" r="8.9" fill="#F8E825" stroke="#000" stroke-width="2.6" fill-opacity="0.5" stroke-opacity="0.47"/>
<circle cx="1398.1" cy="1409.1" r="8.9" fill="#F8E825" stroke="#000" stroke-width="2.6" fill-opacity="0.5" stroke-opacity="0.47"/>
<circle cx="1432.8" cy="1409" r="8.9" fill="#F8E825" stroke="#000" stroke-width="2.6" fill-opacity="0.5" stroke-opacity="0.47"/>
<circle cx="1397.1" cy="1408.6" r="8.9" fill="#F8E825" stroke="#000" stroke-width="2.6" fill-opacity="0.5" stroke-opacity="0.47"/>
<circle cx="1469.4" cy="1408.5" r="8.9" fill="#F8E825" stroke="#000" stroke-width="2.6" fill-opacity="0.5" stroke-opacity="0.47"/>
<circle cx="1494.3" cy="1408.5" r="8.9" fill="#F8E825" stroke="#000" stroke-width="2.6" fill-opacity="0.5" stroke-opacity="0.47"/>
<circle cx="1455.5" cy="1408.4" r="8.9" fill="#F8E825" stroke="#000" stroke-width="2.6" fill-opacity="0.5" stroke-opacity="0.47"/>
<circle cx="1417.3" cy="1408.3" r="8.9" fill="#F8E825" stroke="#000" stroke-width="2.6" fill-opacity="0.5" stroke-opacity="0.47"/>
<circle cx="1474.3" cy="1408.3" r="8.9" fill="#F8E825" stroke="#000" stroke-width="2.6" fill-opacity="0.5" stroke-opacity="0.47"/>
<circle cx="1483.6" cy="1408.2" r="8.9" fill="#F8E825" stroke="#000" stroke-width="2.6" fill-opacity="0.5" stroke-opacity="0.47"/>
<circle cx="1484.2" cy="1408.2" r="8.9" fill="#F8E825" stroke="#000" stroke-width="2.6" fill-opacity="0.5" stroke-opacity="0.47"/>
<circle cx="1473.2" cy="1408.2" r="8.9" fill="#F8E825" stroke="#000" stroke-width="2.6" fill-opacity="0.5" stroke-opacity="0.47"/>
<circle cx="1490" cy="1408.1" r="8.9" fill="#F8E825" stroke="#000" stroke-width="2.6" fill-opacity="0.5" stroke-opacity="0.47"/>
<circle cx="1406.6" cy="1408.1" r="8.9" fill="#F8E825" stroke="#000" stroke-width="2.6" fill-opacity="0.5" stroke-opacity="0.47"/>
<circle cx="1456.7" cy="1408" r="8.9" fill="#F8E825" stroke="#000" stroke-width="2.6" fill-opacity="0.5" stroke-opacity="0.47"/>
<circle cx="1495.5" cy="1407.8" r="8.9" fill="#F8E824" stroke="#000" stroke-width="2.6" fill-opacity="0.5" stroke-opacity="0.47"/>
<circle cx="1432.3" cy="1407.8" r="8.9" fill="#F8E824" stroke="#000" stroke-width="2.6" fill-opacity="0.5" stroke-opacity="0.47"/>
<circle cx="1504.7" cy="1407.8" r="8.9" fill="#F8E824" stroke="#000" stroke-width="2.6" fill-opacity="0.5" stroke-opacity="0.47"/>
<circle cx="1432.5" cy="1407.6" r="8.9" fill="#F8E824" stroke="#000" stroke-width="2.6" fill-opacity="0.5" stroke-opacity="0.47"/>
<circle cx="1454.4" cy="1407.5" r="8.9" fill="#F8E824" stroke="#000" stroke-width="2.6" fill-opacity="0.5" stroke-opacity="0.47"/>
<circle cx="1401" cy="1407.4" r="8.9" fill="#F8E824" stroke="#000" stroke-width="2.6" fill-opacity="0.5" stroke-opacity="0.47"/>
<circle cx="1468.6" cy="1407.4" r="8.9" fill="#F8E824" stroke="#000" stroke-width="2.6" fill-opacity="0.5" stroke-opacity="0.47"/>
<circle cx="1454.5" cy="1407" r="8.9" fill="#F8E824" stroke="#000" stroke-width="2.6" fill-opacity="0.5" stroke-opacity="0.47"/>
<circle cx="1475.6" cy="1407" r="8.9" fill="#F8E824" stroke="#000" stroke-width="2.6" fill-opacity="0.5" stroke-opacity="0.47"/>
<circle cx="1430.6" cy="1407" r="8.9" fill="#F8E824" stroke="#000" stroke-width="2.6" fill-opacity="0.5" stroke-opacity="0.47"/>
<circle cx="1470.3" cy="1406.9" r="8.9" fill="#F8E824" stroke="#000" stroke-width="2.6" fill-opacity="0.5" stroke-opacity="0.47"/>
<circle cx="1434" cy="1406.7" r="8.9" fill="#F8E824" stroke="#000" stroke-width="2.6" fill-opacity="0.5" stroke-opacity="0.47"/>
<circle cx="1484.8" cy="1406.5" r="8.9" fill="#F8E824" stroke="#000" stroke-width="2.6" fill-opacity="0.5" stroke-opacity="0.47"/>
<circle cx="1464.6" cy="1406.4" r="8.9" fill="#F8E824" stroke="#000" stroke-width="2.6" fill-opacity="0.5" stroke-opacity="0.47"/>
<circle cx="1408.7" cy="1406.2" r="8.9" fill="#F8E823" stroke="#000" stroke-width="2.6" fill-opacity="0.5" stroke-opacity="0.47"/>
<circle cx="1411.9" cy="1406" r="8.9" fill="#F8E823" stroke="#000" stroke-width="2.6" fill-opacity="0.5" stroke-opacity="0.47"/>
<circle cx="1489" cy="1405.7" r="8.9" fill="#F8E823" stroke="#000" stroke-width="2.6" fill-opacity="0.5" stroke-opacity="0.47"/>
<circle cx="1395" cy="1405.7" r="8.9" fill="#F8E823" stroke="#000" stroke-width="2.6" fill-opacity="0.5" stroke-opacity="0.47"/>
<circle cx="1418.8" cy="1405.7" r="8.9" fill="#F8E823" stroke="#000" stroke-width="2.6" fill-opacity="0.5" stroke-opacity="0.47"/>
<circle cx="1400.7" cy="1405.7" r="8.9" fill="#F8E823" stroke="#000" stroke-width="2.6" fill-opacity="0.5" stroke-opacity="0.47"/>
<circle cx="1425.9" cy="1405.4" r="8.9" fill="#F8E823" stroke="#000" stroke-width="2.6" fill-opacity="0.5" stroke-opacity="0.47"/>
<circle cx="1419.3" cy="1405.3" r="8.9" fill="#F8E823" stroke="#000" stroke-width="2.6" fill-opacity="0.5" stroke-opacity="0.47"/>
<circle cx="1424.1" cy="1405.2" r="8.9" fill="#F8E823" stroke="#000" stroke-width="2.6" fill-opacity="0.5" stroke-opacity="0.47"/>
<circle cx="1450.3" cy="1405.1" r="8.9" fill="#F8E823" stroke="#000" stroke-width="2.6" fill-opacity="0.5" stroke-opacity="0.47"/>
<circle cx="1451.1" cy="1404.9" r="8.9" fill="#F8E823" stroke="#000" stroke-width="2.6" fill-opacity="0.5" stroke-opacity="0.47"/>
<circle cx="1500.4" cy="1404.7" r="8.9" fill="#F8E823" stroke="#000" stroke-width="2.6" fill-opacity="0.5" stroke-opacity="0.47"/>
<circle cx="1405.3" cy="1404.7" r="8.9" fill="#F8E822" stroke="#000" stroke-width="2.6" fill-opacity="0.5" stroke-opacity="0.47"/>
<circle cx="1451" cy="1404.6" r="8.9" fill="#F8E822" stroke="#000" stroke-width="2.6" fill-opacity="0.5" stroke-opacity="0.47"/>
<circle cx="1459.4" cy="1404.2" r="8.9" fill="#F8E722" stroke="#000" stroke-width="2.6" fill-opacity="0.5" stroke-opacity="0.47"/>
<circle cx="1495.2" cy="1404.1" r="8.9" fill="#F8E722" stroke="#000" stroke-width="2.6" fill-opacity="0.5" stroke-opacity="0.47"/>
<circle cx="1484.1" cy="1404" r="8.9" fill="#F8E722" stroke="#000" stroke-width="2.6" fill-opacity="0.5" stroke-opacity="0.47"/>
<circle cx="1431.1" cy="1404" r="8.9" fill="#F8E722" stroke="#000" stroke-width="2.6" fill-opacity="0.5" stroke-opacity="0.47"/>
<circle cx="1413.6" cy="1403.3" r="8.9" fill="#F8E722" stroke="#000" stroke-width="2.6" fill-opacity="0.5" stroke-opacity="0.47"/>
<circle cx="1391.8" cy="1403.2" r="8.9" fill="#F8E722" stroke="#000" stroke-width="2.6" fill-opacity="0.5" stroke-opacity="0.47"/>
<circle cx="1392.2" cy="1403.2" r="8.9" fill="#F8E722" stroke="#000" stroke-width="2.6" fill-opacity="0.5" stroke-opacity="0.47"/>
<circle cx="1477" cy="1403" r="8.9" fill="#F8E721" stroke="#000" stroke-width="2.6" fill-opacity="0.5" stroke-opacity="0.47"/>
<circle cx="1411.3" cy="1403" r="8.9" fill="#F8E721" stroke="#000" stroke-width="2.6" fill-opacity="0.5" stroke-opacity="0.47"/>
<circle cx="1398.5" cy="1402.9" r="8.9" fill="#F8E721" stroke="#000" stroke-width="2.6" fill-opacity="0.5" stroke-opacity="0.47"/>
<circle cx="1468.3" cy="1402.7" r="8.9" fill="#F8E721" stroke="#000" stroke-width="2.6" fill-opacity="0.5" stroke-opacity="0.47"/>
<circle cx="1490.4" cy="1402.7" r="8.9" fill="#F8E721" stroke="#000" stroke-width="2.6" fill-opacity="0.5" stroke-opacity="0.47"/>
<circle cx="1406.5" cy="1402.7" r="8.9" fill="#F8E721" stroke="#000" stroke-width="2.6" fill-opacity="0.5" stroke-opacity="0.47"/>
<circle cx="1422.7" cy="1402.2" r="8.9" fill="#F8E721" stroke="#000" stroke-width="2.6" fill-opacity="0.5" stroke-opacity="0.47"/>
<circle cx="1486" cy="1402.1" r="8.9" fill="#F8E721" stroke="#000" stroke-width="2.6" fill-opacity="0.5" stroke-opacity="0.47"/>
<circle cx="1401.5" cy="1401.9" r="8.9" fill="#F8E721" stroke="#000" stroke-width="2.6" fill-opacity="0.5" stroke-opacity="0.47"/>
<circle cx="1487.3" cy="1401.7" r="8.9" fill="#F8E721" stroke="#000" stroke-width="2.6" fill-opacity="0.5" stroke-opacity="0.47"/>
<circle cx="1394.9" cy="1401.7" r="8.9" fill="#F8E721" stroke="#000" stroke-width="2.6" fill-opacity="0.5" stroke-opacity="0.47"/>
<circle cx="1457.4" cy="1401.6" r="8.9" fill="#F8E721" stroke="#000" stroke-width="2.6" fill-opacity="0.5" stroke-opacity="0.47"/>
<circle cx="1407.4" cy="1401.5" r="8.9" fill="#F8E721" stroke="#000" stroke-width="2.6" fill-opacity="0.5" stroke-opacity="0.47"/>
<circle cx="1430.1" cy="1401.3" r="8.9" fill="#F8E720" stroke="#000" stroke-width="2.6" fill-opacity="0.5" stroke-opacity="0.47"/>
<circle cx="1401.3" cy="1401.3" r="8.9" fill="#F8E720" stroke="#000" stroke-width="2.6" fill-opacity="0.5" stroke-opacity="0.47"/>
<circle cx="1428.5" cy="1401" r="8.9" fill="#F8E720" stroke="#000" stroke-width="2.6" fill-opacity="0.5" stroke-opacity="0.47"/>
<circle cx="1393.4" cy="1401" r="8.9" fill="#F8E720" stroke="#000" stroke-width="2.6" fill-opacity="0.5" stroke-opacity="0.47"/>
<circle cx="1427.3" cy="1401" r="8.9" fill="#F8E720" stroke="#000" stroke-width="2.6" fill-opacity="0.5" stroke-opacity="0.47"/>
<circle cx="1394" cy="1400.7" r="8.9" fill="#F8E720" stroke="#000" stroke-width="2.6" fill-opacity="0.5" stroke-opacity="0.47"/>
<circle cx="1466.3" cy="1400.7" r="8.9" fill="#F8E720" stroke="#000" stroke-width="2.6" fill-opacity="0.5" stroke-opacity="0.47"/>
<circle cx="1404.8" cy="1400.6" r="8.9" fill="#F8E720" stroke="#000" stroke-width="2.6" fill-opacity="0.5" stroke-opacity="0.47"/>
<circle cx="1452.1" cy="1400.5" r="8.9" fill="#F8E720" stroke="#000" stroke-width="2.6" fill-opacity="0.5" stroke-opacity="0.47"/>
<circle cx="1502.3" cy="1400.1" r="8.9" fill="#F8E720" stroke="#000" stroke-width="2.6" fill-opacity="0.5" stroke-opacity="0.47"/>
<circle cx="1392.9" cy="1400.1" r="8.9" fill="#F8E720" stroke="#000" stroke-width="2.6" fill-opacity="0.5" stroke-opacity="0.47"/>
<circle cx="1467.6" cy="1399.7" r="8.9" fill="#F8E71F" stroke="#000" stroke-width="2.6" fill-opacity="0.5" stroke-opacity="0.47"/>
<circle cx="1452.3" cy="1399.6" r="8.9" fill="#F8E71F" stroke="#000" stroke-width="2.6" fill-opacity="0.5" stroke-opacity="0.47"/>
<circle cx="1390.2" cy="1399.4" r="8.9" fill="#F8E71F" stroke="#000" stroke-width="2.6" fill-opacity="0.5" stroke-opacity="0.47"/>
<circle cx="1483.9" cy="1399.1" r="8.9" fill="#F8E71F" stroke="#000" stroke-width="2.6" fill-opacity="0.5" stroke-opacity="0.47"/>
<circle cx="1479.5" cy="1399" r="8.9" fill="#F8E71F" stroke="#000" stroke-width="2.6" fill-opacity="0.5" stroke-opacity="0.47"/>
<circle cx="1458.1" cy="1398.6" r="8.9" fill="#F8E71F" stroke="#000" stroke-width="2.6" fill-opacity="0.5" stroke-opacity="0.47"/>
<circle cx="1470" cy="1398.5" r="8.9" fill="#F8E71F" stroke="#000" stroke-width="2.6" fill-opacity="0.5" stroke-opacity="0.47"/>
<circle cx="1431.5" cy="1398.2" r="8.9" fill="#F8E71F" stroke="#000" stroke-width="2.6" fill-opacity="0.5" stroke-opacity="0.47"/>
<circle cx="1463.6" cy="1397.9" r="8.9" fill="#F8E71E" stroke="#000" stroke-width="2.6" fill-opacity="0.5" stroke-opacity="0.47"/>
<circle cx="1414.2" cy="1397.9" r="8.9" fill="#F8E71E" stroke="#000" stroke-width="2.6" fill-opacity="0.5" stroke-opacity="0.47"/>
<circle cx="1480.2" cy="1397.7" r="8.9" fill="#F8E71E" stroke="#000" stroke-width="2.6" fill-opacity="0.5" stroke-opacity="0.47"/>
<circle cx="1464.1" cy="1397.7" r="8.9" fill="#F8E71E" stroke="#000" stroke-width="2.6" fill-opacity="0.5" stroke-opacity="0.47"/>
<circle cx="1391.9" cy="1397.5" r="8.9" fill="#F8E71E" stroke="#000" stroke-width="2.6" fill-opacity="0.5" stroke-opacity="0.47"/>
<circle cx="1392.8" cy="1396.5" r="8.9" fill="#F8E61E" stroke="#000" stroke-width="2.6" fill-opacity="0.5" stroke-opacity="0.47"/>
<circle cx="1476.2" cy="1396.1" r="8.9" fill="#F8E61D" stroke="#000" stroke-width="2.6" fill-opacity="0.5" stroke-opacity="0.47"/>
<circle cx="1397.3" cy="1395.5" r="8.9" fill="#F8E61D" stroke="#000" stroke-width="2.6" fill-opacity="0.5" stroke-opacity="0.47"/>
<circle cx="1474.5" cy="1395.5" r="8.9" fill="#F8E61D" stroke="#000" stroke-width="2.6" fill-opacity="0.5" stroke-opacity="0.47"/>
<circle cx="1477.5" cy="1395.2" r="8.9" fill="#F8E61D" stroke="#000" stroke-width="2.6" fill-opacity="0.5" stroke-opacity="0.47"/>
<circle cx="1428.5" cy="1394.8" r="8.9" fill="#F8E61C" stroke="#000" stroke-width="2.6" fill-opacity="0.5" stroke-opacity="0.47"/>
<circle cx="1408.1" cy="1394.6" r="8.9" fill="#F8E61C" stroke="#000" stroke-width="2.6" fill-opacity="0.5" stroke-opacity="0.47"/>
<circle cx="1408.7" cy="1394.6" r="8.9" fill="#F8E61C" stroke="#000" stroke-width="2.6" fill-opacity="0.5" stroke-opacity="0.47"/>
<circle cx="1412.3" cy="1394.4" r="8.9" fill="#F8E61C" stroke="#000" stroke-width="2.6" fill-opacity="0.5" stroke-opacity="0.47"/>
<circle cx="1402.2" cy="1394.1" r="8.9" fill="#F8E61C" stroke="#000" stroke-width="2.6" fill-opacity="0.5" stroke-opacity="0.47"/>
<circle cx="1466.1" cy="1393.8" r="8.9" fill="#F8E61C" stroke="#000" stroke-width="2.6" fill-opacity="0.5" stroke-opacity="0.47"/>
<circle cx="1391.2" cy="1393.6" r="8.9" fill="#F8E61C" stroke="#000" stroke-width="2.6" fill-opacity="0.5" stroke-opacity="0.47"/>
<circle cx="1429.5" cy="1393.2" r="8.9" fill="#F8E61C" stroke="#000" stroke-width="2.6" fill-opacity="0.5" stroke-opacity="0.47"/>
<circle cx="1414.1" cy="1392.8" r="8.9" fill="#F8E61B" stroke="#000" stroke-width="2.6" fill-opacity="0.5" stroke-opacity="0.47"/>
<circle cx="1469.6" cy="1392.8" r="8.9" fill="#F8E61B" stroke="#000" stroke-width="2.6" fill-opacity="0.5" stroke-opacity="0.47"/>
<circle cx="1429.9" cy="1392" r="8.9" fill="#F8E61B" stroke="#000" stroke-width="2.6" fill-opacity="0.5" stroke-opacity="0.47"/>
<circle cx="1458.6" cy="1391.6" r="8.9" fill="#F8E61B" stroke="#000" stroke-width="2.6" fill-opacity="0.5" stroke-opacity="0.47"/>
<circle cx="1397.9" cy="1391.6" r="8.9" fill="#F8E61B" stroke="#000" stroke-width="2.6" fill-opacity="0.5" stroke-opacity="0.47"/>
<circle cx="1470.8" cy="1391.5" r="8.9" fill="#F8E61A" stroke="#000" stroke-width="2.6" fill-opacity="0.5" stroke-opacity="0.47"/>
<circle cx="1374.9" cy="1391.1" r="8.9" fill="#F8E61A" stroke="#000" stroke-width="2.6" fill-opacity="0.5" stroke-opacity="0.47"/>
<circle cx="1481" cy="1391" r="8.9" fill="#F8E61A" stroke="#000" stroke-width="2.6" fill-opacity="0.5" stroke-opacity="0.47"/>
<circle cx="1398.4" cy="1390.1" r="8.9" fill="#F8E61A" stroke="#000" stroke-width="2.6" fill-opacity="0.5" stroke-opacity="0.47"/>
<circle cx="1473.4" cy="1389.8" r="8.9" fill="#F8E619" stroke="#000" stroke-width="2.6" fill-opacity="0.5" stroke-opacity="0.47"/>
<circle cx="1391.1" cy="1389.7" r="8.9" fill="#F8E619" stroke="#000" stroke-width="2.6" fill-opacity="0.5" stroke-opacity="0.47"/>
<circle cx="1426.8" cy="1388.8" r="8.9" fill="#F8E519" stroke="#000" stroke-width="2.6" fill-opacity="0.5" stroke-opacity="0.47"/>
<circle cx="1396.9" cy="1388.8" r="8.9" fill="#F8E519" stroke="#000" stroke-width="2.6" fill-opacity="0.5" stroke-opacity="0.47"/>
<circle cx="1416.4" cy="1388.6" r="8.9" fill="#F8E519" stroke="#000" stroke-width="2.6" fill-opacity="0.5" stroke-opacity="0.47"/>
<circle cx="1476.2" cy="1388.3" r="8.9" fill="#F8E518" stroke="#000" stroke-width="2.6" fill-opacity="0.5" stroke-opacity="0.47"/>
<circle cx="1409.7" cy="1388.2" r="8.9" fill="#F8E518" stroke="#000" stroke-width="2.6" fill-opacity="0.5" stroke-opacity="0.47"/>
<circle cx="1420.7" cy="1387.5" r="8.9" fill="#F8E518" stroke="#000" stroke-width="2.6" fill-opacity="0.5" stroke-opacity="0.47"/>
<circle cx="1428.1" cy="1387.3" r="8.9" fill="#F8E518" stroke="#000" stroke-width="2.6" fill-opacity="0.5" stroke-opacity="0.47"/>
<circle cx="1477.3" cy="1387" r="8.9" fill="#F8E518" stroke="#000" stroke-width="2.6" fill-opacity="0.5" stroke-opacity="0.47"/>
<circle cx="1415" cy="1386.9" r="8.9" fill="#F8E518" stroke="#000" stroke-width="2.6" fill-opacity="0.5" stroke-opacity="0.47"/>
<circle cx="1416.1" cy="1386.8" r="8.9" fill="#F8E518" stroke="#000" stroke-width="2.6" fill-opacity="0.5" stroke-opacity="0.47"/>
<circle cx="1405.6" cy="1385.9" r="8.9" fill="#F8E517" stroke="#000" stroke-width="2.6" fill-opacity="0.5" stroke-opacity="0.47"/>
<circle cx="1468.5" cy="1385.9" r="8.9" fill="#F8E517" stroke="#000" stroke-width="2.6" fill-opacity="0.5" stroke-opacity="0.47"/>
<circle cx="1480.2" cy="1385.8" r="8.9" fill="#F8E517" stroke="#000" stroke-width="2.6" fill-opacity="0.5" stroke-opacity="0.47"/>
<circle cx="1404.5" cy="1385.1" r="8.9" fill="#F8E517" stroke="#000" stroke-width="2.6" fill-opacity="0.5" stroke-opacity="0.47"/>
<circle cx="1427.1" cy="1384.9" r="8.9" fill="#F8E516" stroke="#000" stroke-width="2.6" fill-opacity="0.5" stroke-opacity="0.47"/>
<circle cx="1422.9" cy="1384.4" r="8.9" fill="#F8E516" stroke="#000" stroke-width="2.6" fill-opacity="0.5" stroke-opacity="0.47"/>
<circle cx="1396.9" cy="1384.4" r="8.9" fill="#F8E516" stroke="#000" stroke-width="2.6" fill-opacity="0.5" stroke-opacity="0.47"/>
<circle cx="1396.2" cy="1383.9" r="8.9" fill="#F8E516" stroke="#000" stroke-width="2.6" fill-opacity="0.5" stroke-opacity="0.47"/>
<circle cx="1475.9" cy="1383.5" r="8.9" fill="#F8E516" stroke="#000" stroke-width="2.6" fill-opacity="0.5" stroke-opacity="0.47"/>
<circle cx="1393" cy="1383.3" r="8.9" fill="#F8E515" stroke="#000" stroke-width="2.6" fill-opacity="0.5" stroke-opacity="0.47"/>
<circle cx="1410" cy="1383" r="8.9" fill="#F8E515" stroke="#000" stroke-width="2.6" fill-opacity="0.5" stroke-opacity="0.47"/>
<circle cx="1481.9" cy="1382.8" r="8.9" fill="#F8E515" stroke="#000" stroke-width="2.6" fill-opacity="0.5" stroke-opacity="0.47"/>
<circle cx="1408.4" cy="1380.1" r="8.9" fill="#F8E413" stroke="#000" stroke-width="2.6" fill-opacity="0.5" stroke-opacity="0.47"/>
<circle cx="1414.7" cy="1379.7" r="8.9" fill="#F8E413" stroke="#000" stroke-width="2.6" fill-opacity="0.5" stroke-opacity="0.47"/>
<circle cx="1455" cy="1379.6" r="8.9" fill="#F8E413" stroke="#000" stroke-width="2.6" fill-opacity="0.5" stroke-opacity="0.47"/>
<circle cx="1410.4" cy="1379.5" r="8.9" fill="#F8E413" stroke="#000" stroke-width="2.6" fill-opacity="0.5" stroke-opacity="0.47"/>
<circle cx="1406.9" cy="1379.5" r="8.9" fill="#F8E413" stroke="#000" stroke-width="2.6" fill-opacity="0.5" stroke-opacity="0.47"/>
<circle cx="1415.8" cy="1379.4" r="8.9" fill="#F8E413" stroke="#000" stroke-width="2.6" fill-opacity="0.5" stroke-opacity="0.47"/>
<circle cx="1419.3" cy="1379.3" r="8.9" fill="#F8E413" stroke="#000" stroke-width="2.6" fill-opacity="0.5" stroke-opacity="0.47"/>
<circle cx="1474.7" cy="1379.3" r="8.9" fill="#F8E413" stroke="#000" stroke-width="2.6" fill-opacity="0.5" stroke-opacity="0.47"/>
<circle cx="1417.4" cy="1378.4" r="8.9" fill="#F8E412" stroke="#000" stroke-width="2.6" fill-opacity="0.5" stroke-opacity="0.47"/>
<circle cx="1400.3" cy="1377.2" r="8.9" fill="#F8E412" stroke="#000" stroke-width="2.6" fill-opacity="0.5" stroke-opacity="0.47"/>
<circle cx="1409.8" cy="1376.6" r="8.9" fill="#F8E411" stroke="#000" stroke-width="2.6" fill-opacity="0.5" stroke-opacity="0.47"/>
<circle cx="1479.2" cy="1376.6" r="8.9" fill="#F8E411" stroke="#000" stroke-width="2.6" fill-opacity="0.5" stroke-opacity="0.47"/>
<circle cx="1409.8" cy="1376.2" r="8.9" fill="#F8E411" stroke="#000" stroke-width="2.6" fill-opacity="0.5" stroke-opacity="0.47"/>
<circle cx="1419.5" cy="1375.8" r="8.9" fill="#F8E411" stroke="#000" stroke-width="2.6" fill-opacity="0.5" stroke-opacity="0.47"/>
<circle cx="1414.7" cy="1375.3" r="8.9" fill="#F8E411" stroke="#000" stroke-width="2.6" fill-opacity="0.5" stroke-opacity="0.47"/>
<circle cx="1416.3" cy="1375" r="8.9" fill="#F8E410" stroke="#000" stroke-width="2.6" fill-opacity="0.5" stroke-opacity="0.47"/>
<circle cx="1459.3" cy="1374.2" r="8.9" fill="#F8E310" stroke="#000" stroke-width="2.6" fill-opacity="0.5" stroke-opacity="0.47"/>
<circle cx="1408.9" cy="1374.1" r="8.9" fill="#F8E310" stroke="#000" stroke-width="2.6" fill-opacity="0.5" stroke-opacity="0.47"/>
<circle cx="1412.5" cy="1373.9" r="8.9" fill="#F8E310" stroke="#000" stroke-width="2.6" fill-opacity="0.5" stroke-opacity="0.47"/>
<circle cx="1421.3" cy="1373.3" r="8.9" fill="#F8E30F" stroke="#000" stroke-width="2.6" fill-opacity="0.5" stroke-opacity="0.47"/>
<circle cx="1420.4" cy="1373.1" r="8.9" fill="#F8E30F" stroke="#000" stroke-width="2.6" fill-opacity="0.5" stroke-opacity="0.47"/>
<circle cx="1414.8" cy="1371.8" r="8.9" fill="#F8E30E" stroke="#000" stroke-width="2.6" fill-opacity="0.5" stroke-opacity="0.47"/>
<circle cx="1382.8" cy="1371" r="8.9" fill="#F8E30E" stroke="#000" stroke-width="2.6" fill-opacity="0.5" stroke-opacity="0.47"/>
<circle cx="1463.9" cy="1370.3" r="8.9" fill="#F8E30E" stroke="#000" stroke-width="2.6" fill-opacity="0.5" stroke-opacity="0.47"/>
<circle cx="1476.3" cy="1369.8" r="8.9" fill="#F8E30D" stroke="#000" stroke-width="2.6" fill-opacity="0.5" stroke-opacity="0.47"/>
<circle cx="1408.7" cy="1367.8" r="8.9" fill="#F8E30C" stroke="#000" stroke-width="2.6" fill-opacity="0.5" stroke-opacity="0.47"/>
<circle cx="1475.7" cy="1367.6" r="8.9" fill="#F8E30C" stroke="#000" stroke-width="2.6" fill-opacity="0.5" stroke-opacity="0.47"/>
<circle cx="1465.3" cy="1365.5" r="8.9" fill="#F8E20B" stroke="#000" stroke-width="2.6" fill-opacity="0.5" stroke-opacity="0.47"/>
<circle cx="1458.5" cy="1361.6" r="8.9" fill="#F8E208" stroke="#000" stroke-width="2.6" fill-opacity="0.5" stroke-opacity="0.47"/>
<circle cx="1481.1" cy="1359.2" r="8.9" fill="#F8E107" stroke="#000" stroke-width="2.6" fill-opacity="0.5" stroke-opacity="0.47"/>
<circle cx="1459.9" cy="1359" r="8.9" fill="#F8E107" stroke="#000" stroke-width="2.6" fill-opacity="0.5" stroke-opacity="0.47"/>
<circle cx="1465" cy="1358.4" r="8.9" fill="#F8E106" stroke="#000" stroke-width="2.6" fill-opacity="0.5" stroke-opacity="0.47"/>
<circle cx="1466.6" cy="1358.3" r="8.9" fill="#F8E106" stroke="#000" stroke-width="2.6" fill-opacity="0.5" stroke-opacity="0.47"/>
<circle cx="1458.6" cy="1357.2" r="8.9" fill="#F8E106" stroke="#000" stroke-width="2.6" fill-opacity="0.5" stroke-opacity="0.47"/>
<circle cx="1460" cy="1356.5" r="8.9" fill="#F8E105" stroke="#000" stroke-width="2.6" fill-opacity="0.5" stroke-opacity="0.47"/>
<circle cx="1485.8" cy="1352.9" r="8.9" fill="#F8E103" stroke="#000" stroke-width="2.6" fill-opacity="0.5" stroke-opacity="0.47"/>
<circle cx="1460.7" cy="1349.6" r="8.9" fill="#F8E001" stroke="#000" stroke-width="2.6" fill-opacity="0.5" stroke-opacity="0.47"/>
<circle cx="1466.1" cy="1349" r="8.9" fill="#F8E001" stroke="#000" stroke-width="2.6" fill-opacity="0.5" stroke-opacity="0.47"/>
<circle cx="1463.1" cy="1348.7" r="8.9" fill="#F8E000" stroke="#000" stroke-width="2.6" fill-opacity="0.5" stroke-opacity="0.47"/>
<circle cx="1469.5" cy="1347.2" r="8.9" fill="#F8E000" stroke="#000" stroke-width="2.6" fill-opacity="0.5" stroke-opacity="0.47"/>
<circle cx="1461.8" cy="1347.1" r="8.9" fill="#F8E000" stroke="#000" stroke-width="2.6" fill-opacity="0.5" stroke-opacity="0.47"/>
<circle cx="1463.7" cy="1346.3" r="8.9" fill="#F8E000" stroke="#000" stroke-width="2.6" fill-opacity="0.5" stroke-opacity="0.47"/>
<circle cx="1468.4" cy="1342.8" r="8.9" fill="#F8DF00" stroke="#000" stroke-width="2.6" fill-opacity="0.5" stroke-opacity="0.47"/>
<circle cx="1541.6" cy="1336.4" r="8.9" fill="#F8DD00" stroke="#000" stroke-width="2.6" fill-opacity="0.5" stroke-opacity="0.47"/>
<circle cx="1474.8" cy="1335.6" r="8.9" fill="#F8DD00" stroke="#000" stroke-width="2.6" fill-opacity="0.5" stroke-opacity="0.47"/>
<circle cx="1382" cy="1327.7" r="8.9" fill="#F8DB00" stroke="#000" stroke-width="2.6" fill-opacity="0.5" stroke-opacity="0.47"/>
<circle cx="1414.7" cy="1325.9" r="8.9" fill="#F8DB00" stroke="#000" stroke-width="2.6" fill-opacity="0.5" stroke-opacity="0.47"/>
<circle cx="1484.5" cy="1314.4" r="8.9" fill="#F8D800" stroke="#000" stroke-width="2.6" fill-opacity="0.5" stroke-opacity="0.47"/>
<circle cx="1475.6" cy="1310.4" r="8.9" fill="#F8D700" stroke="#000" stroke-width="2.6" fill-opacity="0.5" stroke-opacity="0.47"/>
<circle cx="1502.3" cy="1309.7" r="8.9" fill="#F8D700" stroke="#000" stroke-width="2.6" fill-opacity="0.5" stroke-opacity="0.47"/>
<circle cx="1534.2" cy="1295.9" r="8.9" fill="#F8D400" stroke="#000" stroke-width="2.6" fill-opacity="0.5" stroke-opacity="0.47"/>
<circle cx="1534.2" cy="1222.5" r="8.9" fill="#F7C200" stroke="#000" stroke-width="2.6" fill-opacity="0.5" stroke-opacity="0.47"/>
<circle cx="1521.1" cy="1219.9" r="8.9" fill="#F7C100" stroke="#000" stroke-width="2.6" fill-opacity="0.5" stroke-opacity="0.47"/>
<circle cx="1532.7" cy="1196.3" r="8.9" fill="#F7BA00" stroke="#000" stroke-width="2.6" fill-opacity="0.5" stroke-opacity="0.47"/>
<circle cx="1615.5" cy="1146.5" r="8.9" fill="#F5AB00" stroke="#000" stroke-width="2.6" fill-opacity="0.5" stroke-opacity="0.47"/>
<circle cx="1493.9" cy="1124.5" r="8.9" fill="#F4A400" stroke="#000" stroke-width="2.6" fill-opacity="0.5" stroke-opacity="0.47"/>
<circle cx="1548.4" cy="1120.3" r="8.9" fill="#F4A300" stroke="#000" stroke-width="2.6" fill-opacity="0.5" stroke-opacity="0.47"/>
<circle cx="1509.6" cy="1092.5" r="8.9" fill="#F39B00" stroke="#000" stroke-width="2.6" fill-opacity="0.5" stroke-opacity="0.47"/>
<circle cx="1505.4" cy="1022.3" r="8.9" fill="#EF8501" stroke="#000" stroke-width="2.6" fill-opacity="0.5" stroke-opacity="0.47"/>
<circle cx="1557.8" cy="1019.7" r="8.9" fill="#EF8401" stroke="#000" stroke-width="2.6" fill-opacity="0.5" stroke-opacity="0.47"/>
<circle cx="1552.6" cy="975.1" r="8.9" fill="#EC6F06" stroke="#000" stroke-width="2.6" fill-opacity="0.5" stroke-opacity="0.47"/>
<circle cx="1633.8" cy="954.1" r="8.9" fill="#EA6608" stroke="#000" stroke-width="2.6" fill-opacity="0.5" stroke-opacity="0.47"/>
<circle cx="1574.6" cy="926.4" r="8.9" fill="#E8590A" stroke="#000" stroke-width="2.6" fill-opacity="0.5" stroke-opacity="0.47"/>
<circle cx="1653.2" cy="891.2" r="8.9" fill="#E64E0E" stroke="#000" stroke-width="2.6" fill-opacity="0.5" stroke-opacity="0.47"/>
<circle cx="1556.8" cy="815.2" r="8.9" fill="#E23515" stroke="#000" stroke-width="2.6" fill-opacity="0.5" stroke-opacity="0.47"/>
<circle cx="1714" cy="808.4" r="8.9" fill="#E13315" stroke="#000" stroke-width="2.6" fill-opacity="0.5" stroke-opacity="0.47"/>
<circle cx="1648.5" cy="799" r="8.9" fill="#E13016" stroke="#000" stroke-width="2.6" fill-opacity="0.5" stroke-opacity="0.47"/>
<rect x="1095.6" y="757.3" width="700.7" height="700.3" fill="none" stroke="#000" stroke-width="2.5"/>
<line x1="1083.6" y1="1453.1" x2="1095.6" y2="1453.1" stroke="#000" stroke-width="2.6"/>
<text x="1079.3" y="1462.6" font-size="34.5" text-anchor="end" transform="matrix(1 0 0 1.035 0 -51.2)" fill="#000">0</text>
<line x1="1083.6" y1="1243.1" x2="1095.6" y2="1243.1" stroke="#000" stroke-width="2.6"/>
<text x="1079.3" y="1252.6" font-size="34.5" text-anchor="end" transform="matrix(1 0 0 1.035 0 -43.8)" fill="#000">10</text>
<line x1="1083.6" y1="1033.1" x2="1095.6" y2="1033.1" stroke="#000" stroke-width="2.6"/>
<text x="1079.3" y="1042.6" font-size="34.5" text-anchor="end" transform="matrix(1 0 0 1.035 0 -36.5)" fill="#000">20</text>
<line x1="1083.6" y1="823.1" x2="1095.6" y2="823.1" stroke="#000" stroke-width="2.6"/>
<text x="1079.3" y="832.6" font-size="34.5" text-anchor="end" transform="matrix(1 0 0 1.035 0 -29.1)" fill="#000">30</text>
<line x1="1179.7" y1="1457.6" x2="1179.7" y2="1469.6" stroke="#000" stroke-width="2.6"/>
<text x="1170.3" y="1505.9" font-size="34.5" text-anchor="middle" transform="matrix(1 0 0 1.035 0 -52.7)" fill="#000">−1.0</text>
<line x1="1309.8" y1="1457.6" x2="1309.8" y2="1469.6" stroke="#000" stroke-width="2.6"/>
<text x="1300.4" y="1505.9" font-size="34.5" text-anchor="middle" transform="matrix(1 0 0 1.035 0 -52.7)" fill="#000">−0.5</text>
<line x1="1439.9" y1="1457.6" x2="1439.9" y2="1469.6" stroke="#000" stroke-width="2.6"/>
<text x="1439.9" y="1505.9" font-size="34.5" text-anchor="middle" transform="matrix(1 0 0 1.035 0 -52.7)" fill="#000">0.0</text>
<line x1="1570" y1="1457.6" x2="1570" y2="1469.6" stroke="#000" stroke-width="2.6"/>
<text x="1570" y="1505.9" font-size="34.5" text-anchor="middle" transform="matrix(1 0 0 1.035 0 -52.7)" fill="#000">0.5</text>
<line x1="1700.1" y1="1457.6" x2="1700.1" y2="1469.6" stroke="#000" stroke-width="2.6"/>
<text x="1700.1" y="1505.9" font-size="34.5" text-anchor="middle" transform="matrix(1 0 0 1.035 0 -52.7)" fill="#000">1.0</text>
<text x="1445.9" y="1545.8" font-size="34" font-weight="bold" text-anchor="middle" transform="matrix(1 0 0 1.035 0 -54.1)" fill="#000">Beta coefficient</text>
<text x="1014" y="1106.5" font-size="34" font-weight="bold" text-anchor="middle" transform="rotate(-90 1014 1106.5) matrix(1 0 0 1.035 0 -38.7)" fill="#000">P-value (-log10)</text>
<rect x="1145.6" y="776" width="36.4" height="184.8" fill="url(#pvcb)" stroke="#000" stroke-width="1.6"/>
<line x1="1146.4" y1="783.8" x2="1153" y2="783.8" stroke="#000" stroke-width="1.4"/>
<line x1="1174.6" y1="783.8" x2="1181.2" y2="783.8" stroke="#000" stroke-width="1.4"/>
<text x="1187.5" y="795.1" font-size="27" text-anchor="start" transform="matrix(1 0 0 1.035 0 -27.8)" fill="#000">30</text>
<line x1="1146.4" y1="845.5" x2="1153" y2="845.5" stroke="#000" stroke-width="1.4"/>
<line x1="1174.6" y1="845.5" x2="1181.2" y2="845.5" stroke="#000" stroke-width="1.4"/>
<text x="1187.5" y="856.8" font-size="27" text-anchor="start" transform="matrix(1 0 0 1.035 0 -30)" fill="#000">20</text>
<line x1="1146.4" y1="906.9" x2="1153" y2="906.9" stroke="#000" stroke-width="1.4"/>
<line x1="1174.6" y1="906.9" x2="1181.2" y2="906.9" stroke="#000" stroke-width="1.4"/>
<text x="1187.5" y="918.2" font-size="27" text-anchor="start" transform="matrix(1 0 0 1.035 0 -32.1)" fill="#000">10</text>
<text x="1130.1" y="868.5" font-size="27.1" font-weight="bold" text-anchor="middle" transform="rotate(-90 1130.1 868.5) matrix(1 0 0 1.035 0 -30.4)" fill="#000">P-value (-log10)</text>
<text x="1646.9" y="784.8" font-size="23.7" text-anchor="middle" transform="matrix(1 0 0 1.035 0 -27.5)" fill="#000">C19H28O8S</text>
<text x="1543.1" y="821.5" font-size="23.7" text-anchor="end" transform="matrix(1 0 0 1.035 0 -28.8)" fill="#000">Estriol glucuronide(2)</text>
<text x="1649.6" y="842.5" font-size="23.7" text-anchor="start" transform="matrix(1 0 0 1.035 0 -29.5)" fill="#000">C25H34O10</text>
<text x="1638" y="896.5" font-size="23.7" text-anchor="end" transform="matrix(1 0 0 1.035 0 -31.4)" fill="#000">C24H34O9</text>
<text x="1558.9" y="932.1" font-size="23.7" text-anchor="end" transform="matrix(1 0 0 1.035 0 -32.6)" fill="#000">C24H28O7</text>
<text x="1649.6" y="962" font-size="23.7" text-anchor="start" transform="matrix(1 0 0 1.035 0 -33.7)" fill="#000">C19H26O7S</text>
<text x="1536.9" y="981.9" font-size="23.7" text-anchor="end" transform="matrix(1 0 0 1.035 0 -34.4)" fill="#000">C14H12N2O4</text>
<text x="1492.3" y="1026.5" font-size="23.7" text-anchor="end" transform="matrix(1 0 0 1.035 0 -35.9)" fill="#000">Estrone</text>
<text x="1548.4" y="1048.5" font-size="23.7" text-anchor="start" transform="matrix(1 0 0 1.035 0 -36.7)" fill="#000">Estriol glucuronide(1)</text>
<text x="1524.8" y="1097.2" font-size="23.7" text-anchor="start" transform="matrix(1 0 0 1.035 0 -38.4)" fill="#000">C24H30O9</text>
<text x="1479.2" y="1129.7" font-size="23.7" text-anchor="end" transform="matrix(1 0 0 1.035 0 -39.5)" fill="#000">Hydroxyprogesterone glucuronide</text>
<text x="1562" y="1124.5" font-size="23.7" text-anchor="start" transform="matrix(1 0 0 1.035 0 -39.4)" fill="#000">C25H38O9</text>
<text x="1629.6" y="1153.3" font-size="23.7" text-anchor="start" transform="matrix(1 0 0 1.035 0 -40.4)" fill="#000">C24H30O7</text>
<text x="1518.5" y="1202.1" font-size="23.7" text-anchor="end" transform="matrix(1 0 0 1.035 0 -42.1)" fill="#000">Methoxy-estradiol glucuronide</text>
<text x="1508" y="1229.3" font-size="23.7" text-anchor="end" transform="matrix(1 0 0 1.035 0 -43)" fill="#000">C18H22O6S (1)</text>
<text x="1548.9" y="1234.6" font-size="23.7" text-anchor="start" transform="matrix(1 0 0 1.035 0 -43.2)" fill="#000">C25H32O10</text>
<text x="1510.7" y="1294.8" font-size="23.7" text-anchor="end" transform="matrix(1 0 0 1.035 0 -45.3)" fill="#000">DHEA-S</text>
<text x="1547.3" y="1301.1" font-size="23.7" text-anchor="start" transform="matrix(1 0 0 1.035 0 -45.5)" fill="#000">C18H22O6S (2)</text>
<text x="1514.3" y="1323.7" font-size="23.7" text-anchor="start" transform="matrix(1 0 0 1.035 0 -46.3)" fill="#000">Estradiol glucuronide</text>
<text x="1555.2" y="1349.9" font-size="23.7" text-anchor="start" transform="matrix(1 0 0 1.035 0 -47.2)" fill="#000">THDOC</text>
<text x="1497.5" y="1369.3" font-size="23.7" text-anchor="start" transform="matrix(1 0 0 1.035 0 -47.9)" fill="#000">Hydroxyprogesterone</text>
<text x="1497.5" y="1388.1" font-size="23.7" text-anchor="start" transform="matrix(1 0 0 1.035 0 -48.6)" fill="#000">Progesterone</text>
<clipPath id="cp1681673"><rect x="168.4" y="1673.6" width="339.3" height="302.3"/></clipPath>
<circle cx="183.7" cy="1743.2" r="5.9" fill="#F8766D" stroke="#000" stroke-width="2.6"/>
<circle cx="210.7" cy="1731.3" r="5.9" fill="#55C686" stroke="#000" stroke-width="2.6"/>
<circle cx="183.7" cy="1847.3" r="5.9" fill="#55C686" stroke="#000" stroke-width="2.6"/>
<circle cx="183.7" cy="1882.3" r="5.9" fill="#F8766D" stroke="#000" stroke-width="2.6"/>
<circle cx="186.2" cy="1897.6" r="5.9" fill="#CD7BCD" stroke="#000" stroke-width="2.6"/>
<circle cx="183.7" cy="1949.4" r="5.9" fill="#55C686" stroke="#000" stroke-width="2.6"/>
<circle cx="210.7" cy="1896.5" r="5.9" fill="#5FAEDD" stroke="#000" stroke-width="2.6"/>
<circle cx="210.7" cy="1917.9" r="5.9" fill="#5FAEDD" stroke="#000" stroke-width="2.6"/>
<circle cx="210.7" cy="1925.3" r="5.9" fill="#55C686" stroke="#000" stroke-width="2.6"/>
<circle cx="210.7" cy="1938.9" r="5.9" fill="#55C686" stroke="#000" stroke-width="2.6"/>
<circle cx="210.7" cy="1951.5" r="5.9" fill="#55C686" stroke="#000" stroke-width="2.6"/>
<circle cx="227.1" cy="1916.2" r="5.9" fill="#CD7BCD" stroke="#000" stroke-width="2.6"/>
<circle cx="237.6" cy="1922.1" r="5.9" fill="#5FAEDD" stroke="#000" stroke-width="2.6"/>
<circle cx="237.6" cy="1855" r="5.9" fill="#55C686" stroke="#000" stroke-width="2.6"/>
<circle cx="237.6" cy="1871.8" r="5.9" fill="#55C686" stroke="#000" stroke-width="2.6"/>
<circle cx="237.6" cy="1876" r="5.9" fill="#55C686" stroke="#000" stroke-width="2.6"/>
<circle cx="264.8" cy="1927.4" r="5.9" fill="#F8766D" stroke="#000" stroke-width="2.6"/>
<circle cx="264.8" cy="1962.4" r="5.9" fill="#F8766D" stroke="#000" stroke-width="2.6"/>
<circle cx="267.6" cy="1871.8" r="5.9" fill="#CD7BCD" stroke="#000" stroke-width="2.6"/>
<circle cx="264.8" cy="1850.8" r="5.9" fill="#5FAEDD" stroke="#000" stroke-width="2.6"/>
<circle cx="264.8" cy="1824.6" r="5.9" fill="#5FAEDD" stroke="#000" stroke-width="2.6"/>
<circle cx="264.8" cy="1812.4" r="5.9" fill="#ABA32A" stroke="#000" stroke-width="2.6"/>
<circle cx="267.6" cy="1767.6" r="5.9" fill="#ABA32A" stroke="#000" stroke-width="2.6"/>
<circle cx="281.2" cy="1767.6" r="5.9" fill="#ABA32A" stroke="#000" stroke-width="2.6"/>
<circle cx="272.8" cy="1797.8" r="5.9" fill="#ABA32A" stroke="#000" stroke-width="2.6"/>
<circle cx="281.2" cy="1801.5" r="5.9" fill="#ABA32A" stroke="#000" stroke-width="2.6"/>
<circle cx="275.3" cy="1808.9" r="5.9" fill="#ABA32A" stroke="#000" stroke-width="2.6"/>
<circle cx="278.5" cy="1842.4" r="5.9" fill="#ABA32A" stroke="#000" stroke-width="2.6"/>
<circle cx="291.7" cy="1847.7" r="5.9" fill="#55C686" stroke="#000" stroke-width="2.6"/>
<circle cx="294.6" cy="1834" r="5.9" fill="#ABA32A" stroke="#000" stroke-width="2.6"/>
<circle cx="300.1" cy="1818.7" r="5.9" fill="#ABA32A" stroke="#000" stroke-width="2.6"/>
<circle cx="291.7" cy="1819.4" r="5.9" fill="#5FAEDD" stroke="#000" stroke-width="2.6"/>
<circle cx="294.2" cy="1807.8" r="5.9" fill="#ABA32A" stroke="#000" stroke-width="2.6"/>
<circle cx="291.7" cy="1783.7" r="5.9" fill="#5FAEDD" stroke="#000" stroke-width="2.6"/>
<circle cx="294.6" cy="1785.8" r="5.9" fill="#ABA32A" stroke="#000" stroke-width="2.6"/>
<circle cx="306.8" cy="1785.2" r="5.9" fill="#ABA32A" stroke="#000" stroke-width="2.6"/>
<circle cx="297.3" cy="1749.5" r="5.9" fill="#ABA32A" stroke="#000" stroke-width="2.6"/>
<circle cx="311" cy="1749.1" r="5.9" fill="#CD7BCD" stroke="#000" stroke-width="2.6"/>
<circle cx="318.7" cy="1756.5" r="5.9" fill="#F8766D" stroke="#000" stroke-width="2.6"/>
<circle cx="318.7" cy="1762.7" r="5.9" fill="#F8766D" stroke="#000" stroke-width="2.6"/>
<circle cx="318.7" cy="1773.2" r="5.9" fill="#F8766D" stroke="#000" stroke-width="2.6"/>
<circle cx="329.4" cy="1754.4" r="5.9" fill="#ABA32A" stroke="#000" stroke-width="2.6"/>
<circle cx="327.8" cy="1773.2" r="5.9" fill="#ABA32A" stroke="#000" stroke-width="2.6"/>
<circle cx="335.5" cy="1778.5" r="5.9" fill="#CD7BCD" stroke="#000" stroke-width="2.6"/>
<circle cx="318.7" cy="1806.2" r="5.9" fill="#5FAEDD" stroke="#000" stroke-width="2.6"/>
<circle cx="345.6" cy="1751.2" r="5.9" fill="#5FAEDD" stroke="#000" stroke-width="2.6"/>
<circle cx="345.6" cy="1762.1" r="5.9" fill="#5FAEDD" stroke="#000" stroke-width="2.6"/>
<circle cx="359.2" cy="1769.5" r="5.9" fill="#ABA32A" stroke="#000" stroke-width="2.6"/>
<circle cx="364" cy="1729.2" r="5.9" fill="#CD7BCD" stroke="#000" stroke-width="2.6"/>
<circle cx="373" cy="1725" r="5.9" fill="#F8766D" stroke="#000" stroke-width="2.6"/>
<circle cx="373" cy="1730.2" r="5.9" fill="#F8766D" stroke="#000" stroke-width="2.6"/>
<circle cx="373" cy="1736.5" r="5.9" fill="#F8766D" stroke="#000" stroke-width="2.6"/>
<circle cx="373" cy="1756.5" r="5.9" fill="#F8766D" stroke="#000" stroke-width="2.6"/>
<circle cx="373" cy="1776.4" r="5.9" fill="#5FAEDD" stroke="#000" stroke-width="2.6"/>
<circle cx="400.1" cy="1714.1" r="5.9" fill="#F8766D" stroke="#000" stroke-width="2.6"/>
<circle cx="400.1" cy="1722.9" r="5.9" fill="#55C686" stroke="#000" stroke-width="2.6"/>
<circle cx="400.1" cy="1731.3" r="5.9" fill="#F8766D" stroke="#000" stroke-width="2.6"/>
<circle cx="400.1" cy="1735.5" r="5.9" fill="#F8766D" stroke="#000" stroke-width="2.6"/>
<circle cx="409.5" cy="1729.2" r="5.9" fill="#CD7BCD" stroke="#000" stroke-width="2.6"/>
<circle cx="400.1" cy="1756.9" r="5.9" fill="#F8766D" stroke="#000" stroke-width="2.6"/>
<circle cx="415.8" cy="1736.5" r="5.9" fill="#CD7BCD" stroke="#000" stroke-width="2.6"/>
<circle cx="427.1" cy="1694.6" r="5.9" fill="#F8766D" stroke="#000" stroke-width="2.6"/>
<circle cx="427.1" cy="1697.7" r="5.9" fill="#F8766D" stroke="#000" stroke-width="2.6"/>
<circle cx="427.1" cy="1711.4" r="5.9" fill="#F8766D" stroke="#000" stroke-width="2.6"/>
<circle cx="427.1" cy="1718.7" r="5.9" fill="#55C686" stroke="#000" stroke-width="2.6"/>
<circle cx="427.1" cy="1730.2" r="5.9" fill="#55C686" stroke="#000" stroke-width="2.6"/>
<circle cx="427.1" cy="1739.7" r="5.9" fill="#55C686" stroke="#000" stroke-width="2.6"/>
<circle cx="427.1" cy="1743.9" r="5.9" fill="#55C686" stroke="#000" stroke-width="2.6"/>
<circle cx="436.4" cy="1733.4" r="5.9" fill="#CD7BCD" stroke="#000" stroke-width="2.6"/>
<circle cx="454.2" cy="1705.1" r="5.9" fill="#F8766D" stroke="#000" stroke-width="2.6"/>
<circle cx="454.2" cy="1712.4" r="5.9" fill="#55C686" stroke="#000" stroke-width="2.6"/>
<circle cx="454.2" cy="1725" r="5.9" fill="#55C686" stroke="#000" stroke-width="2.6"/>
<circle cx="454.2" cy="1733.4" r="5.9" fill="#55C686" stroke="#000" stroke-width="2.6"/>
<circle cx="454.2" cy="1743.9" r="5.9" fill="#5FAEDD" stroke="#000" stroke-width="2.6"/>
<circle cx="465.1" cy="1743.9" r="5.9" fill="#CD7BCD" stroke="#000" stroke-width="2.6"/>
<circle cx="465.1" cy="1728.1" r="5.9" fill="#CD7BCD" stroke="#000" stroke-width="2.6"/>
<circle cx="478.7" cy="1729.2" r="5.9" fill="#CD7BCD" stroke="#000" stroke-width="2.6"/>
<circle cx="481.2" cy="1699.8" r="5.9" fill="#5FAEDD" stroke="#000" stroke-width="2.6"/>
<circle cx="481.2" cy="1703" r="5.9" fill="#5FAEDD" stroke="#000" stroke-width="2.6"/>
<circle cx="492.4" cy="1699.8" r="5.9" fill="#CD7BCD" stroke="#000" stroke-width="2.6"/>
<circle cx="490.3" cy="1711.4" r="5.9" fill="#CD7BCD" stroke="#000" stroke-width="2.6"/>
<circle cx="481.2" cy="1715.6" r="5.9" fill="#ABA32A" stroke="#000" stroke-width="2.6"/>
<polygon points="183.7,1863.4 185.8,1863.1 188.6,1862.8 191.9,1862.3 195.5,1861.9 199.4,1861.3 203.4,1860.7 207.2,1860 210.7,1859.2 214.1,1858.4 217.5,1857.6 220.8,1856.8 224.2,1855.9 227.5,1854.9 230.8,1853.7 234.2,1852.2 237.6,1850.4 241,1848.3 244.4,1845.9 247.8,1843.3 251.2,1840.5 254.6,1837.5 258,1834.4 261.5,1831.2 264.8,1828 268.2,1824.6 271.6,1821.2 274.9,1817.6 278.3,1814 281.6,1810.2 285,1806.4 288.3,1802.5 291.7,1798.6 295.1,1794.5 298.4,1790.2 301.8,1785.8 305.2,1781.3 308.6,1776.9 312,1772.7 315.4,1768.7 318.7,1765.1 322.1,1761.8 325.4,1758.7 328.8,1755.9 332.1,1753.2 335.5,1750.7 338.8,1748.4 342.2,1746.2 345.6,1744.1 349,1742.2 352.4,1740.5 355.8,1739 359.3,1737.7 362.7,1736.4 366.2,1735.1 369.6,1733.9 373,1732.6 376.4,1731.2 379.8,1729.8 383.2,1728.5 386.6,1727.1 390,1725.8 393.3,1724.5 396.7,1723.3 400.1,1722.1 403.5,1720.9 406.9,1719.7 410.2,1718.5 413.6,1717.3 417,1716.2 420.4,1715.2 423.8,1714.2 427.1,1713.4 430.4,1712.8 433.6,1712.4 436.8,1712.3 440,1712.2 443.2,1711.9 446.6,1711.5 450.3,1710.6 454.2,1709.3 458.7,1707.2 463.8,1704.5 469.4,1701.4 475,1698 480.4,1694.7 485.2,1691.6 489.3,1689.1 492.4,1687.3 492.4,1743.9 489.3,1742.5 485.2,1740.6 480.4,1738.2 475,1735.7 469.4,1733.3 463.8,1731 458.7,1729.3 454.2,1728.1 450.3,1727.7 446.6,1727.8 443.2,1728.2 440,1728.9 436.8,1729.8 433.6,1730.8 430.4,1731.7 427.1,1732.4 423.8,1733.1 420.4,1733.7 417,1734.4 413.6,1735 410.2,1735.8 406.9,1736.6 403.5,1737.4 400.1,1738.4 396.7,1739.5 393.3,1740.7 390,1742 386.6,1743.3 383.2,1744.7 379.8,1746.1 376.4,1747.5 373,1748.9 369.6,1750.2 366.2,1751.5 362.7,1752.7 359.3,1754 355.8,1755.4 352.4,1756.9 349,1758.5 345.6,1760.4 342.2,1762.5 338.8,1764.7 335.5,1767.1 332.1,1769.5 328.8,1772.2 325.4,1775.1 322.1,1778.1 318.7,1781.4 315.4,1785 312,1789 308.6,1793.3 305.2,1797.7 301.8,1802.1 298.4,1806.6 295.1,1810.9 291.7,1815 288.3,1818.8 285,1822.6 281.6,1826.3 278.3,1830 274.9,1833.6 271.6,1837.2 268.2,1840.7 264.8,1844.3 261.5,1847.9 258,1851.6 254.6,1855.2 251.2,1858.8 247.8,1862.3 244.4,1865.8 241,1869.1 237.6,1872.2 234.2,1875.1 230.8,1877.8 227.5,1880.4 224.2,1882.8 220.8,1885.3 217.5,1887.7 214.1,1890.2 210.7,1892.8 207.2,1895.6 203.4,1898.7 199.4,1901.9 195.5,1905 191.9,1908.1 188.6,1910.8 185.8,1913.1 183.7,1914.8" fill="#999999" fill-opacity="0.4" stroke="none"/>
<polyline points="183.7,1888.6 185.8,1887.6 188.6,1886.3 191.9,1884.9 195.5,1883.2 199.4,1881.4 203.4,1879.6 207.2,1877.7 210.7,1876 214.1,1874.3 217.5,1872.7 220.8,1871.1 224.2,1869.4 227.5,1867.7 230.8,1865.8 234.2,1863.7 237.6,1861.3 241,1858.7 244.4,1855.8 247.8,1852.8 251.2,1849.6 254.6,1846.3 258,1843 261.5,1839.6 264.8,1836.1 268.2,1832.7 271.6,1829.2 274.9,1825.6 278.3,1822 281.6,1818.3 285,1814.5 288.3,1810.7 291.7,1806.8 295.1,1802.7 298.4,1798.4 301.8,1794 305.2,1789.5 308.6,1785.1 312,1780.8 315.4,1776.9 318.7,1773.2 322.1,1769.9 325.4,1766.9 328.8,1764 332.1,1761.4 335.5,1758.9 338.8,1756.5 342.2,1754.3 345.6,1752.3 349,1750.4 352.4,1748.7 355.8,1747.2 359.3,1745.8 362.7,1744.6 366.2,1743.3 369.6,1742.1 373,1740.7 376.4,1739.3 379.8,1738 383.2,1736.6 386.6,1735.2 390,1733.9 393.3,1732.6 396.7,1731.4 400.1,1730.2 403.5,1729.2 406.9,1728.1 410.2,1727.1 413.6,1726.2 417,1725.3 420.4,1724.4 423.8,1723.7 427.1,1722.9 430.4,1722.2 433.6,1721.6 436.8,1721 440,1720.5 443.2,1720 446.6,1719.6 450.3,1719.1 454.2,1718.7 458.7,1718.3 463.8,1717.9 469.4,1717.5 475,1717.2 480.4,1716.9 485.2,1716.6 489.3,1716.4 492.4,1716.2" fill="none" stroke="#5363B4" stroke-width="5.0" stroke-linejoin="round"/>
<rect x="168.4" y="1673.6" width="339.3" height="302.3" fill="none" stroke="#000" stroke-width="2.6"/>
<line x1="160" y1="1679.9" x2="168.4" y2="1679.9" stroke="#000" stroke-width="2.4"/>
<text x="157.6" y="1690.4" font-size="30" text-anchor="end" transform="matrix(1 0 0 1.035 0 -59.2)" fill="#000">17.5</text>
<line x1="160" y1="1737.3" x2="168.4" y2="1737.3" stroke="#000" stroke-width="2.4"/>
<text x="157.6" y="1747.8" font-size="30" text-anchor="end" transform="matrix(1 0 0 1.035 0 -61.2)" fill="#000">15.0</text>
<line x1="160" y1="1794.6" x2="168.4" y2="1794.6" stroke="#000" stroke-width="2.4"/>
<text x="157.6" y="1805.1" font-size="30" text-anchor="end" transform="matrix(1 0 0 1.035 0 -63.2)" fill="#000">12.5</text>
<line x1="160" y1="1852" x2="168.4" y2="1852" stroke="#000" stroke-width="2.4"/>
<text x="157.6" y="1862.5" font-size="30" text-anchor="end" transform="matrix(1 0 0 1.035 0 -65.2)" fill="#000">10.0</text>
<line x1="160" y1="1909.3" x2="168.4" y2="1909.3" stroke="#000" stroke-width="2.4"/>
<text x="157.6" y="1919.8" font-size="30" text-anchor="end" transform="matrix(1 0 0 1.035 0 -67.2)" fill="#000">7.5</text>
<line x1="160" y1="1966.6" x2="168.4" y2="1966.6" stroke="#000" stroke-width="2.4"/>
<text x="157.6" y="1977.1" font-size="30" text-anchor="end" transform="matrix(1 0 0 1.035 0 -69.2)" fill="#000">5.0</text>
<line x1="169.9" y1="1975.9" x2="169.9" y2="1984.3" stroke="#000" stroke-width="2.4"/>
<text x="173.2" y="2012.2" font-size="30" text-anchor="middle" transform="matrix(1 0 0 1.035 0 -70.4)" fill="#000">7.5</text>
<line x1="237.6" y1="1975.9" x2="237.6" y2="1984.3" stroke="#000" stroke-width="2.4"/>
<text x="240.9" y="2012.2" font-size="30" text-anchor="middle" transform="matrix(1 0 0 1.035 0 -70.4)" fill="#000">10.0</text>
<line x1="305.3" y1="1975.9" x2="305.3" y2="1984.3" stroke="#000" stroke-width="2.4"/>
<text x="308.6" y="2012.2" font-size="30" text-anchor="middle" transform="matrix(1 0 0 1.035 0 -70.4)" fill="#000">12.5</text>
<line x1="373" y1="1975.9" x2="373" y2="1984.3" stroke="#000" stroke-width="2.4"/>
<text x="376.3" y="2012.2" font-size="30" text-anchor="middle" transform="matrix(1 0 0 1.035 0 -70.4)" fill="#000">15.0</text>
<line x1="440.7" y1="1975.9" x2="440.7" y2="1984.3" stroke="#000" stroke-width="2.4"/>
<text x="444" y="2012.2" font-size="30" text-anchor="middle" transform="matrix(1 0 0 1.035 0 -70.4)" fill="#000">17.5</text>
<text x="338.1" y="1661.3" font-size="30.4" font-weight="bold" text-anchor="middle" transform="matrix(1 0 0 1.035 0 -58.1)" fill="#000">C19H28O8S</text>
<clipPath id="cp5951673"><rect x="595.8" y="1673.6" width="339.3" height="302.3"/></clipPath>
<circle cx="611.1" cy="1758.6" r="5.9" fill="#F8766D" stroke="#000" stroke-width="2.6"/>
<circle cx="638.3" cy="1732.3" r="5.9" fill="#55C686" stroke="#000" stroke-width="2.6"/>
<circle cx="611.1" cy="1926.9" r="5.9" fill="#55C686" stroke="#000" stroke-width="2.6"/>
<circle cx="613.2" cy="1873.9" r="5.9" fill="#CD7BCD" stroke="#000" stroke-width="2.6"/>
<circle cx="638.3" cy="1877" r="5.9" fill="#55C686" stroke="#000" stroke-width="2.6"/>
<circle cx="638.3" cy="1936.4" r="5.9" fill="#5FAEDD" stroke="#000" stroke-width="2.6"/>
<circle cx="638.3" cy="1962.4" r="5.9" fill="#55C686" stroke="#000" stroke-width="2.6"/>
<circle cx="654.7" cy="1921.1" r="5.9" fill="#CD7BCD" stroke="#000" stroke-width="2.6"/>
<circle cx="665.6" cy="1852.9" r="5.9" fill="#5FAEDD" stroke="#000" stroke-width="2.6"/>
<circle cx="665.6" cy="1901.6" r="5.9" fill="#5FAEDD" stroke="#000" stroke-width="2.6"/>
<circle cx="665.6" cy="1942" r="5.9" fill="#55C686" stroke="#000" stroke-width="2.6"/>
<circle cx="692.2" cy="1949.4" r="5.9" fill="#F8766D" stroke="#000" stroke-width="2.6"/>
<circle cx="692.2" cy="1904.3" r="5.9" fill="#F8766D" stroke="#000" stroke-width="2.6"/>
<circle cx="694.9" cy="1839.3" r="5.9" fill="#CD7BCD" stroke="#000" stroke-width="2.6"/>
<circle cx="692.2" cy="1841.4" r="5.9" fill="#5FAEDD" stroke="#000" stroke-width="2.6"/>
<circle cx="692.2" cy="1868.6" r="5.9" fill="#5FAEDD" stroke="#000" stroke-width="2.6"/>
<circle cx="694.9" cy="1880.2" r="5.9" fill="#ABA32A" stroke="#000" stroke-width="2.6"/>
<circle cx="701.2" cy="1903.2" r="5.9" fill="#ABA32A" stroke="#000" stroke-width="2.6"/>
<circle cx="702.9" cy="1909.9" r="5.9" fill="#ABA32A" stroke="#000" stroke-width="2.6"/>
<circle cx="705.8" cy="1885.4" r="5.9" fill="#ABA32A" stroke="#000" stroke-width="2.6"/>
<circle cx="708.6" cy="1878.1" r="5.9" fill="#ABA32A" stroke="#000" stroke-width="2.6"/>
<circle cx="707.5" cy="1855" r="5.9" fill="#ABA32A" stroke="#000" stroke-width="2.6"/>
<circle cx="719.7" cy="1896.9" r="5.9" fill="#55C686" stroke="#000" stroke-width="2.6"/>
<circle cx="722.2" cy="1880.8" r="5.9" fill="#ABA32A" stroke="#000" stroke-width="2.6"/>
<circle cx="719.7" cy="1803.6" r="5.9" fill="#5FAEDD" stroke="#000" stroke-width="2.6"/>
<circle cx="722.2" cy="1811" r="5.9" fill="#ABA32A" stroke="#000" stroke-width="2.6"/>
<circle cx="719.7" cy="1817.3" r="5.9" fill="#55C686" stroke="#000" stroke-width="2.6"/>
<circle cx="725.3" cy="1823.6" r="5.9" fill="#ABA32A" stroke="#000" stroke-width="2.6"/>
<circle cx="725.3" cy="1855" r="5.9" fill="#ABA32A" stroke="#000" stroke-width="2.6"/>
<circle cx="724.3" cy="1860.3" r="5.9" fill="#ABA32A" stroke="#000" stroke-width="2.6"/>
<circle cx="735.8" cy="1839.9" r="5.9" fill="#ABA32A" stroke="#000" stroke-width="2.6"/>
<circle cx="737.9" cy="1759.6" r="5.9" fill="#CD7BCD" stroke="#000" stroke-width="2.6"/>
<circle cx="746.7" cy="1757.1" r="5.9" fill="#F8766D" stroke="#000" stroke-width="2.6"/>
<circle cx="746.7" cy="1778.5" r="5.9" fill="#F8766D" stroke="#000" stroke-width="2.6"/>
<circle cx="746.7" cy="1789" r="5.9" fill="#F8766D" stroke="#000" stroke-width="2.6"/>
<circle cx="746.7" cy="1795.2" r="5.9" fill="#F8766D" stroke="#000" stroke-width="2.6"/>
<circle cx="746.7" cy="1819.4" r="5.9" fill="#5FAEDD" stroke="#000" stroke-width="2.6"/>
<circle cx="754.7" cy="1826.7" r="5.9" fill="#ABA32A" stroke="#000" stroke-width="2.6"/>
<circle cx="755.8" cy="1787.9" r="5.9" fill="#ABA32A" stroke="#000" stroke-width="2.6"/>
<circle cx="763.1" cy="1791.1" r="5.9" fill="#CD7BCD" stroke="#000" stroke-width="2.6"/>
<circle cx="773.6" cy="1758.6" r="5.9" fill="#5FAEDD" stroke="#000" stroke-width="2.6"/>
<circle cx="787.2" cy="1802.2" r="5.9" fill="#ABA32A" stroke="#000" stroke-width="2.6"/>
<circle cx="792" cy="1750.2" r="5.9" fill="#CD7BCD" stroke="#000" stroke-width="2.6"/>
<circle cx="800.4" cy="1735.5" r="5.9" fill="#F8766D" stroke="#000" stroke-width="2.6"/>
<circle cx="800.4" cy="1754.4" r="5.9" fill="#F8766D" stroke="#000" stroke-width="2.6"/>
<circle cx="800.4" cy="1772.8" r="5.9" fill="#5FAEDD" stroke="#000" stroke-width="2.6"/>
<circle cx="800.4" cy="1787.9" r="5.9" fill="#F8766D" stroke="#000" stroke-width="2.6"/>
<circle cx="827" cy="1721.9" r="5.9" fill="#F8766D" stroke="#000" stroke-width="2.6"/>
<circle cx="827" cy="1732.3" r="5.9" fill="#F8766D" stroke="#000" stroke-width="2.6"/>
<circle cx="827" cy="1743.9" r="5.9" fill="#F8766D" stroke="#000" stroke-width="2.6"/>
<circle cx="827" cy="1762.7" r="5.9" fill="#55C686" stroke="#000" stroke-width="2.6"/>
<circle cx="827" cy="1776.4" r="5.9" fill="#F8766D" stroke="#000" stroke-width="2.6"/>
<circle cx="835.4" cy="1736.5" r="5.9" fill="#CD7BCD" stroke="#000" stroke-width="2.6"/>
<circle cx="843.4" cy="1744.9" r="5.9" fill="#CD7BCD" stroke="#000" stroke-width="2.6"/>
<circle cx="854.3" cy="1687.3" r="5.9" fill="#F8766D" stroke="#000" stroke-width="2.6"/>
<circle cx="854.3" cy="1699.8" r="5.9" fill="#F8766D" stroke="#000" stroke-width="2.6"/>
<circle cx="854.3" cy="1716.6" r="5.9" fill="#F8766D" stroke="#000" stroke-width="2.6"/>
<circle cx="858.5" cy="1719.8" r="5.9" fill="#CD7BCD" stroke="#000" stroke-width="2.6"/>
<circle cx="854.3" cy="1734.4" r="5.9" fill="#55C686" stroke="#000" stroke-width="2.6"/>
<circle cx="854.3" cy="1748.1" r="5.9" fill="#55C686" stroke="#000" stroke-width="2.6"/>
<circle cx="863.7" cy="1741.8" r="5.9" fill="#CD7BCD" stroke="#000" stroke-width="2.6"/>
<circle cx="881.6" cy="1705.1" r="5.9" fill="#F8766D" stroke="#000" stroke-width="2.6"/>
<circle cx="881.6" cy="1713.5" r="5.9" fill="#55C686" stroke="#000" stroke-width="2.6"/>
<circle cx="881.6" cy="1729.2" r="5.9" fill="#55C686" stroke="#000" stroke-width="2.6"/>
<circle cx="881.6" cy="1731.3" r="5.9" fill="#55C686" stroke="#000" stroke-width="2.6"/>
<circle cx="881.6" cy="1759.6" r="5.9" fill="#55C686" stroke="#000" stroke-width="2.6"/>
<circle cx="881.6" cy="1768" r="5.9" fill="#5FAEDD" stroke="#000" stroke-width="2.6"/>
<circle cx="892" cy="1735.5" r="5.9" fill="#CD7BCD" stroke="#000" stroke-width="2.6"/>
<circle cx="892" cy="1739.7" r="5.9" fill="#CD7BCD" stroke="#000" stroke-width="2.6"/>
<circle cx="898.3" cy="1727.1" r="5.9" fill="#CD7BCD" stroke="#000" stroke-width="2.6"/>
<circle cx="908.4" cy="1694.6" r="5.9" fill="#5FAEDD" stroke="#000" stroke-width="2.6"/>
<circle cx="908.4" cy="1704" r="5.9" fill="#5FAEDD" stroke="#000" stroke-width="2.6"/>
<circle cx="908.4" cy="1735.5" r="5.9" fill="#ABA32A" stroke="#000" stroke-width="2.6"/>
<circle cx="906.7" cy="1720.8" r="5.9" fill="#CD7BCD" stroke="#000" stroke-width="2.6"/>
<circle cx="919.9" cy="1705.1" r="5.9" fill="#CD7BCD" stroke="#000" stroke-width="2.6"/>
<polygon points="611.1,1838.2 613.2,1840.4 616,1843.4 619.3,1847.1 623,1851 626.9,1855 630.9,1858.8 634.7,1862 638.3,1864.4 641.7,1866.2 645.1,1867.5 648.5,1868.5 652,1869.2 655.4,1869.6 658.8,1869.8 662.2,1869.8 665.6,1869.7 669,1869.4 672.4,1869 675.8,1868.4 679.2,1867.6 682.7,1866.5 686.1,1865.1 689.5,1863.4 692.8,1861.3 696.3,1858.7 699.9,1855.5 703.5,1852 707,1848.2 710.5,1844.3 713.8,1840.4 716.9,1836.8 719.7,1833.6 722.2,1830.8 724.4,1828.1 726.3,1825.6 728.2,1823.1 729.9,1820.8 731.5,1818.5 733.1,1816.3 734.8,1814 736.4,1811.8 738,1809.7 739.4,1807.7 740.9,1805.7 742.3,1803.7 743.7,1801.7 745.2,1799.5 746.7,1797.2 748.3,1794.8 749.9,1792.2 751.6,1789.5 753.2,1786.8 754.9,1784 756.6,1781.3 758.3,1778.7 759.9,1776.3 761.5,1774 763,1771.8 764.4,1769.7 765.9,1767.7 767.5,1765.7 769.2,1763.6 771.2,1761.6 773.6,1759.5 776.3,1757.3 779.4,1755.1 782.7,1752.8 786.2,1750.5 789.8,1748.2 793.4,1746 797,1743.9 800.4,1742 803.7,1740.2 807.1,1738.4 810.4,1736.8 813.7,1735.2 817,1733.7 820.3,1732.2 823.7,1730.8 827,1729.4 830.4,1728 833.8,1726.7 837.2,1725.4 840.6,1724.1 844.1,1722.9 847.5,1721.8 850.9,1720.7 854.3,1719.7 857.6,1718.8 860.9,1718.2 864,1717.8 867.2,1717.3 870.5,1716.8 874,1716 877.6,1715 881.6,1713.5 886.1,1711.3 891.3,1708.6 896.8,1705.4 902.5,1702.1 907.9,1698.8 912.8,1695.8 916.9,1693.3 919.9,1691.5 919.9,1746 916.9,1744.8 912.8,1743.1 907.9,1741 902.5,1738.8 896.8,1736.6 891.3,1734.7 886.1,1733.2 881.6,1732.3 877.6,1732.2 874,1732.5 870.5,1733.2 867.2,1734.2 864,1735.4 860.9,1736.6 857.6,1737.8 854.3,1738.7 850.9,1739.5 847.5,1740.3 844.1,1741.1 840.6,1741.9 837.2,1742.7 833.8,1743.6 830.4,1744.6 827,1745.8 823.7,1747 820.3,1748.3 817,1749.7 813.7,1751.2 810.4,1752.8 807.1,1754.5 803.7,1756.4 800.4,1758.3 797,1760.5 793.4,1762.9 789.8,1765.5 786.2,1768.2 782.7,1770.9 779.4,1773.6 776.3,1776.2 773.6,1778.6 771.2,1780.8 769.2,1782.9 767.5,1784.9 765.9,1786.9 764.4,1788.9 763,1790.9 761.5,1793.1 759.9,1795.4 758.3,1797.8 756.6,1800.4 754.9,1803.1 753.2,1805.8 751.6,1808.6 749.9,1811.3 748.3,1813.9 746.7,1816.3 745.2,1818.6 743.7,1820.7 742.3,1822.7 740.9,1824.6 739.4,1826.6 738,1828.6 736.4,1830.8 734.8,1833.1 733.1,1835.6 731.5,1838.2 729.9,1840.9 728.2,1843.6 726.3,1846.5 724.4,1849.4 722.2,1852.4 719.7,1855.4 716.9,1858.6 713.8,1862 710.5,1865.6 707,1869.1 703.5,1872.7 699.9,1876.1 696.3,1879.3 692.8,1882.3 689.5,1885.1 686.1,1887.9 682.7,1890.6 679.2,1893.1 675.8,1895.4 672.4,1897.4 669,1899 665.6,1900.1 662.2,1900.6 658.8,1900.4 655.4,1899.8 652,1898.9 648.5,1897.9 645.1,1896.9 641.7,1896.2 638.3,1895.9 634.7,1896 630.9,1896.2 626.9,1896.7 623,1897.2 619.3,1897.8 616,1898.3 613.2,1898.8 611.1,1899" fill="#999999" fill-opacity="0.4" stroke="none"/>
<polyline points="611.1,1869.7 613.2,1870.5 616,1871.7 619.3,1873.1 623,1874.7 626.9,1876.2 630.9,1877.7 634.7,1879.1 638.3,1880.2 641.7,1881.1 645.1,1882.1 648.5,1882.9 652,1883.7 655.4,1884.3 658.8,1884.6 662.2,1884.7 665.6,1884.4 669,1883.7 672.4,1882.7 675.8,1881.5 679.2,1880 682.7,1878.3 686.1,1876.4 689.5,1874.2 692.8,1871.8 696.3,1869 699.9,1865.9 703.5,1862.4 707,1858.7 710.5,1854.9 713.8,1851.2 716.9,1847.7 719.7,1844.5 722.2,1841.6 724.4,1838.7 726.3,1836 728.2,1833.4 729.9,1830.8 731.5,1828.4 733.1,1825.9 734.8,1823.6 736.4,1821.3 738,1819.2 739.4,1817.1 740.9,1815.2 742.3,1813.2 743.7,1811.2 745.2,1809.1 746.7,1806.8 748.3,1804.3 749.9,1801.7 751.6,1799 753.2,1796.3 754.9,1793.6 756.6,1790.9 758.3,1788.3 759.9,1785.8 761.5,1783.5 763,1781.4 764.4,1779.3 765.9,1777.3 767.5,1775.3 769.2,1773.3 771.2,1771.2 773.6,1769 776.3,1766.7 779.4,1764.3 782.7,1761.8 786.2,1759.3 789.8,1756.9 793.4,1754.5 797,1752.2 800.4,1750.2 803.7,1748.3 807.1,1746.5 810.4,1744.8 813.7,1743.2 817,1741.7 820.3,1740.3 823.7,1738.9 827,1737.6 830.4,1736.3 833.8,1735.1 837.2,1734 840.6,1733 844.1,1732 847.5,1731 850.9,1730.1 854.3,1729.2 857.6,1728.3 860.9,1727.4 864,1726.6 867.2,1725.8 870.5,1725 874,1724.3 877.6,1723.6 881.6,1722.9 886.1,1722.3 891.3,1721.6 896.8,1721 902.5,1720.4 907.9,1719.9 912.8,1719.4 916.9,1719 919.9,1718.7" fill="none" stroke="#5363B4" stroke-width="5.0" stroke-linejoin="round"/>
<rect x="595.8" y="1673.6" width="339.3" height="302.3" fill="none" stroke="#000" stroke-width="2.6"/>
<line x1="587.4" y1="1714.9" x2="595.8" y2="1714.9" stroke="#000" stroke-width="2.4"/>
<text x="585" y="1725.4" font-size="30" text-anchor="end" transform="matrix(1 0 0 1.035 0 -60.4)" fill="#000">17.5</text>
<line x1="587.4" y1="1779.3" x2="595.8" y2="1779.3" stroke="#000" stroke-width="2.4"/>
<text x="585" y="1789.8" font-size="30" text-anchor="end" transform="matrix(1 0 0 1.035 0 -62.6)" fill="#000">15.0</text>
<line x1="587.4" y1="1843.6" x2="595.8" y2="1843.6" stroke="#000" stroke-width="2.4"/>
<text x="585" y="1854.1" font-size="30" text-anchor="end" transform="matrix(1 0 0 1.035 0 -64.9)" fill="#000">12.5</text>
<line x1="587.4" y1="1908" x2="595.8" y2="1908" stroke="#000" stroke-width="2.4"/>
<text x="585" y="1918.5" font-size="30" text-anchor="end" transform="matrix(1 0 0 1.035 0 -67.1)" fill="#000">10.0</text>
<line x1="587.4" y1="1972.4" x2="595.8" y2="1972.4" stroke="#000" stroke-width="2.4"/>
<text x="585" y="1982.9" font-size="30" text-anchor="end" transform="matrix(1 0 0 1.035 0 -69.4)" fill="#000">7.5</text>
<line x1="597.3" y1="1975.9" x2="597.3" y2="1984.3" stroke="#000" stroke-width="2.4"/>
<text x="600.6" y="2012.2" font-size="30" text-anchor="middle" transform="matrix(1 0 0 1.035 0 -70.4)" fill="#000">7.5</text>
<line x1="665" y1="1975.9" x2="665" y2="1984.3" stroke="#000" stroke-width="2.4"/>
<text x="668.3" y="2012.2" font-size="30" text-anchor="middle" transform="matrix(1 0 0 1.035 0 -70.4)" fill="#000">10.0</text>
<line x1="732.7" y1="1975.9" x2="732.7" y2="1984.3" stroke="#000" stroke-width="2.4"/>
<text x="736" y="2012.2" font-size="30" text-anchor="middle" transform="matrix(1 0 0 1.035 0 -70.4)" fill="#000">12.5</text>
<line x1="800.4" y1="1975.9" x2="800.4" y2="1984.3" stroke="#000" stroke-width="2.4"/>
<text x="803.7" y="2012.2" font-size="30" text-anchor="middle" transform="matrix(1 0 0 1.035 0 -70.4)" fill="#000">15.0</text>
<line x1="868.1" y1="1975.9" x2="868.1" y2="1984.3" stroke="#000" stroke-width="2.4"/>
<text x="871.4" y="2012.2" font-size="30" text-anchor="middle" transform="matrix(1 0 0 1.035 0 -70.4)" fill="#000">17.5</text>
<text x="765.4" y="1661.3" font-size="30.4" font-weight="bold" text-anchor="middle" transform="matrix(1 0 0 1.035 0 -58.1)" fill="#000">C25H34O10</text>
<clipPath id="cp10231673"><rect x="1023.4" y="1673.6" width="339.3" height="302.3"/></clipPath>
<circle cx="1038.7" cy="1791.7" r="5.9" fill="#F8766D" stroke="#000" stroke-width="2.6"/>
<circle cx="1041.2" cy="1807.2" r="5.9" fill="#CD7BCD" stroke="#000" stroke-width="2.6"/>
<circle cx="1038.7" cy="1871.4" r="5.9" fill="#55C686" stroke="#000" stroke-width="2.6"/>
<circle cx="1038.7" cy="1913.3" r="5.9" fill="#55C686" stroke="#000" stroke-width="2.6"/>
<circle cx="1038.7" cy="1962" r="5.9" fill="#F8766D" stroke="#000" stroke-width="2.6"/>
<circle cx="1065.7" cy="1740.7" r="5.9" fill="#55C686" stroke="#000" stroke-width="2.6"/>
<circle cx="1065.7" cy="1834" r="5.9" fill="#5FAEDD" stroke="#000" stroke-width="2.6"/>
<circle cx="1065.7" cy="1857.1" r="5.9" fill="#55C686" stroke="#000" stroke-width="2.6"/>
<circle cx="1065.7" cy="1872.8" r="5.9" fill="#55C686" stroke="#000" stroke-width="2.6"/>
<circle cx="1065.7" cy="1887.5" r="5.9" fill="#5FAEDD" stroke="#000" stroke-width="2.6"/>
<circle cx="1065.7" cy="1892.8" r="5.9" fill="#55C686" stroke="#000" stroke-width="2.6"/>
<circle cx="1081.7" cy="1845.6" r="5.9" fill="#CD7BCD" stroke="#000" stroke-width="2.6"/>
<circle cx="1092.6" cy="1856.1" r="5.9" fill="#55C686" stroke="#000" stroke-width="2.6"/>
<circle cx="1092.6" cy="1874.9" r="5.9" fill="#55C686" stroke="#000" stroke-width="2.6"/>
<circle cx="1122.6" cy="1792.5" r="5.9" fill="#CD7BCD" stroke="#000" stroke-width="2.6"/>
<circle cx="1122.6" cy="1784.8" r="5.9" fill="#ABA32A" stroke="#000" stroke-width="2.6"/>
<circle cx="1119.8" cy="1824.6" r="5.9" fill="#5FAEDD" stroke="#000" stroke-width="2.6"/>
<circle cx="1119.8" cy="1835.1" r="5.9" fill="#F8766D" stroke="#000" stroke-width="2.6"/>
<circle cx="1119.8" cy="1849.8" r="5.9" fill="#F8766D" stroke="#000" stroke-width="2.6"/>
<circle cx="1128.2" cy="1849.8" r="5.9" fill="#ABA32A" stroke="#000" stroke-width="2.6"/>
<circle cx="1128.2" cy="1860.3" r="5.9" fill="#ABA32A" stroke="#000" stroke-width="2.6"/>
<circle cx="1122.6" cy="1876" r="5.9" fill="#ABA32A" stroke="#000" stroke-width="2.6"/>
<circle cx="1132.4" cy="1823.6" r="5.9" fill="#ABA32A" stroke="#000" stroke-width="2.6"/>
<circle cx="1136.2" cy="1835.1" r="5.9" fill="#ABA32A" stroke="#000" stroke-width="2.6"/>
<circle cx="1136.2" cy="1845.6" r="5.9" fill="#ABA32A" stroke="#000" stroke-width="2.6"/>
<circle cx="1146.7" cy="1757.5" r="5.9" fill="#5FAEDD" stroke="#000" stroke-width="2.6"/>
<circle cx="1152.3" cy="1789" r="5.9" fill="#ABA32A" stroke="#000" stroke-width="2.6"/>
<circle cx="1149.2" cy="1796.3" r="5.9" fill="#ABA32A" stroke="#000" stroke-width="2.6"/>
<circle cx="1146.7" cy="1804.7" r="5.9" fill="#55C686" stroke="#000" stroke-width="2.6"/>
<circle cx="1146.7" cy="1823.6" r="5.9" fill="#55C686" stroke="#000" stroke-width="2.6"/>
<circle cx="1149.2" cy="1839.3" r="5.9" fill="#ABA32A" stroke="#000" stroke-width="2.6"/>
<circle cx="1152.3" cy="1848.7" r="5.9" fill="#ABA32A" stroke="#000" stroke-width="2.6"/>
<circle cx="1155.1" cy="1834" r="5.9" fill="#ABA32A" stroke="#000" stroke-width="2.6"/>
<circle cx="1163.5" cy="1833" r="5.9" fill="#ABA32A" stroke="#000" stroke-width="2.6"/>
<circle cx="1165.6" cy="1773.2" r="5.9" fill="#CD7BCD" stroke="#000" stroke-width="2.6"/>
<circle cx="1173.7" cy="1773.2" r="5.9" fill="#F8766D" stroke="#000" stroke-width="2.6"/>
<circle cx="1173.7" cy="1780.6" r="5.9" fill="#5FAEDD" stroke="#000" stroke-width="2.6"/>
<circle cx="1173.7" cy="1789" r="5.9" fill="#F8766D" stroke="#000" stroke-width="2.6"/>
<circle cx="1173.7" cy="1804.7" r="5.9" fill="#5FAEDD" stroke="#000" stroke-width="2.6"/>
<circle cx="1173.7" cy="1816.8" r="5.9" fill="#F8766D" stroke="#000" stroke-width="2.6"/>
<circle cx="1182.1" cy="1763.8" r="5.9" fill="#ABA32A" stroke="#000" stroke-width="2.6"/>
<circle cx="1185.3" cy="1794.2" r="5.9" fill="#ABA32A" stroke="#000" stroke-width="2.6"/>
<circle cx="1190.5" cy="1752.3" r="5.9" fill="#CD7BCD" stroke="#000" stroke-width="2.6"/>
<circle cx="1200.6" cy="1762.1" r="5.9" fill="#5FAEDD" stroke="#000" stroke-width="2.6"/>
<circle cx="1200.6" cy="1781.6" r="5.9" fill="#5FAEDD" stroke="#000" stroke-width="2.6"/>
<circle cx="1214.6" cy="1805.1" r="5.9" fill="#ABA32A" stroke="#000" stroke-width="2.6"/>
<circle cx="1219.4" cy="1749.1" r="5.9" fill="#CD7BCD" stroke="#000" stroke-width="2.6"/>
<circle cx="1228" cy="1719.8" r="5.9" fill="#5FAEDD" stroke="#000" stroke-width="2.6"/>
<circle cx="1228" cy="1750.2" r="5.9" fill="#F8766D" stroke="#000" stroke-width="2.6"/>
<circle cx="1228" cy="1758.6" r="5.9" fill="#F8766D" stroke="#000" stroke-width="2.6"/>
<circle cx="1228" cy="1764.8" r="5.9" fill="#F8766D" stroke="#000" stroke-width="2.6"/>
<circle cx="1228" cy="1771.1" r="5.9" fill="#F8766D" stroke="#000" stroke-width="2.6"/>
<circle cx="1228" cy="1781.6" r="5.9" fill="#5FAEDD" stroke="#000" stroke-width="2.6"/>
<circle cx="1255.1" cy="1711.4" r="5.9" fill="#5FAEDD" stroke="#000" stroke-width="2.6"/>
<circle cx="1255.1" cy="1727.1" r="5.9" fill="#5FAEDD" stroke="#000" stroke-width="2.6"/>
<circle cx="1264.1" cy="1724.6" r="5.9" fill="#CD7BCD" stroke="#000" stroke-width="2.6"/>
<circle cx="1255.1" cy="1740.7" r="5.9" fill="#F8766D" stroke="#000" stroke-width="2.6"/>
<circle cx="1255.1" cy="1753.3" r="5.9" fill="#F8766D" stroke="#000" stroke-width="2.6"/>
<circle cx="1255.1" cy="1776.4" r="5.9" fill="#F8766D" stroke="#000" stroke-width="2.6"/>
<circle cx="1270.8" cy="1747" r="5.9" fill="#CD7BCD" stroke="#000" stroke-width="2.6"/>
<circle cx="1282.1" cy="1715.6" r="5.9" fill="#F8766D" stroke="#000" stroke-width="2.6"/>
<circle cx="1282.1" cy="1718.7" r="5.9" fill="#F8766D" stroke="#000" stroke-width="2.6"/>
<circle cx="1282.1" cy="1732.3" r="5.9" fill="#55C686" stroke="#000" stroke-width="2.6"/>
<circle cx="1282.1" cy="1743.9" r="5.9" fill="#55C686" stroke="#000" stroke-width="2.6"/>
<circle cx="1282.1" cy="1750.2" r="5.9" fill="#55C686" stroke="#000" stroke-width="2.6"/>
<circle cx="1284.9" cy="1761.3" r="5.9" fill="#CD7BCD" stroke="#000" stroke-width="2.6"/>
<circle cx="1290.7" cy="1733.4" r="5.9" fill="#CD7BCD" stroke="#000" stroke-width="2.6"/>
<circle cx="1309.2" cy="1720.8" r="5.9" fill="#55C686" stroke="#000" stroke-width="2.6"/>
<circle cx="1309.2" cy="1737.6" r="5.9" fill="#F8766D" stroke="#000" stroke-width="2.6"/>
<circle cx="1309.2" cy="1749.1" r="5.9" fill="#55C686" stroke="#000" stroke-width="2.6"/>
<circle cx="1309.2" cy="1758.6" r="5.9" fill="#5FAEDD" stroke="#000" stroke-width="2.6"/>
<circle cx="1320.1" cy="1724" r="5.9" fill="#CD7BCD" stroke="#000" stroke-width="2.6"/>
<circle cx="1325.3" cy="1744.9" r="5.9" fill="#CD7BCD" stroke="#000" stroke-width="2.6"/>
<circle cx="1333.3" cy="1706.1" r="5.9" fill="#CD7BCD" stroke="#000" stroke-width="2.6"/>
<circle cx="1336.2" cy="1710.3" r="5.9" fill="#5FAEDD" stroke="#000" stroke-width="2.6"/>
<circle cx="1336.2" cy="1721.9" r="5.9" fill="#CD7BCD" stroke="#000" stroke-width="2.6"/>
<circle cx="1336.2" cy="1750.6" r="5.9" fill="#ABA32A" stroke="#000" stroke-width="2.6"/>
<circle cx="1347.4" cy="1707.2" r="5.9" fill="#CD7BCD" stroke="#000" stroke-width="2.6"/>
<circle cx="1344.2" cy="1686.8" r="5.9" fill="#CD7BCD" stroke="#000" stroke-width="2.6"/>
<polygon points="1038.7,1845.6 1040.8,1845.6 1043.6,1845.8 1046.9,1846 1050.5,1846.2 1054.4,1846.3 1058.4,1846.3 1062.2,1846.1 1065.7,1845.6 1069.1,1844.8 1072.5,1843.7 1075.8,1842.4 1079.2,1841 1082.5,1839.5 1085.8,1837.9 1089.2,1836.4 1092.6,1835 1096,1833.7 1099.4,1832.4 1102.8,1831.1 1106.2,1829.8 1109.6,1828.4 1113,1827 1116.5,1825.4 1119.8,1823.8 1123.3,1821.9 1126.9,1819.9 1130.5,1817.7 1134,1815.5 1137.5,1813.2 1140.8,1811 1143.9,1808.9 1146.7,1807 1149.2,1805.2 1151.4,1803.6 1153.3,1802 1155.2,1800.4 1156.9,1798.9 1158.5,1797.5 1160.1,1796 1161.8,1794.4 1163.3,1792.9 1164.6,1791.4 1165.8,1790 1167,1788.5 1168.3,1787 1169.8,1785.4 1171.5,1783.7 1173.7,1781.8 1176.4,1779.8 1179.4,1777.5 1182.7,1775.1 1186.2,1772.7 1189.8,1770.2 1193.5,1767.7 1197.1,1765.3 1200.6,1763 1204,1760.7 1207.4,1758.5 1210.8,1756.2 1214.3,1754 1217.7,1751.9 1221.2,1749.9 1224.6,1748 1228,1746.2 1231.4,1744.6 1234.8,1743.1 1238.2,1741.7 1241.6,1740.5 1245,1739.3 1248.3,1738.1 1251.7,1736.9 1255.1,1735.7 1258.5,1734.5 1261.9,1733.3 1265.2,1732.1 1268.6,1731 1272,1729.8 1275.4,1728.6 1278.8,1727.5 1282.1,1726.3 1285.4,1725.1 1288.6,1723.9 1291.8,1722.8 1295,1721.7 1298.2,1720.5 1301.6,1719.2 1305.3,1717.8 1309.2,1716.2 1313.7,1714.3 1318.8,1712.2 1324.4,1709.8 1330,1707.4 1335.4,1705.1 1340.2,1702.9 1344.3,1701.1 1347.4,1699.8 1347.4,1740.7 1344.3,1740.5 1340.2,1740.1 1335.4,1739.6 1330,1739.1 1324.4,1738.6 1318.8,1738.2 1313.7,1738 1309.2,1738 1305.3,1738.2 1301.6,1738.5 1298.2,1739 1295,1739.6 1291.8,1740.2 1288.6,1741 1285.4,1741.8 1282.1,1742.6 1278.8,1743.6 1275.4,1744.6 1272,1745.8 1268.6,1747 1265.2,1748.2 1261.9,1749.5 1258.5,1750.8 1255.1,1752.1 1251.7,1753.3 1248.3,1754.5 1245,1755.6 1241.6,1756.8 1238.2,1758.1 1234.8,1759.4 1231.4,1760.9 1228,1762.5 1224.6,1764.3 1221.2,1766.2 1217.7,1768.3 1214.3,1770.4 1210.8,1772.6 1207.4,1774.8 1204,1777.1 1200.6,1779.3 1197.1,1781.6 1193.5,1784 1189.8,1786.5 1186.2,1789 1182.7,1791.5 1179.4,1793.9 1176.4,1796.1 1173.7,1798.2 1171.5,1800.1 1169.8,1801.8 1168.3,1803.4 1167,1804.9 1165.8,1806.3 1164.6,1807.8 1163.3,1809.2 1161.8,1810.8 1160.1,1812.3 1158.5,1813.8 1156.9,1815.3 1155.2,1816.8 1153.3,1818.3 1151.4,1819.9 1149.2,1821.6 1146.7,1823.3 1143.9,1825.3 1140.8,1827.3 1137.5,1829.5 1134,1831.6 1130.5,1833.9 1126.9,1836 1123.3,1838.1 1119.8,1840.1 1116.5,1842 1113,1843.8 1109.6,1845.6 1106.2,1847.4 1102.8,1849.1 1099.4,1850.7 1096,1852.4 1092.6,1854.1 1089.2,1855.7 1085.8,1857.1 1082.5,1858.6 1079.2,1860 1075.8,1861.5 1072.5,1863 1069.1,1864.7 1065.7,1866.5 1062.2,1868.7 1058.4,1871.3 1054.4,1874 1050.5,1876.8 1046.9,1879.4 1043.6,1881.9 1040.8,1883.9 1038.7,1885.4" fill="#999999" fill-opacity="0.4" stroke="none"/>
<polyline points="1038.7,1865.5 1040.8,1864.8 1043.6,1863.8 1046.9,1862.7 1050.5,1861.5 1054.4,1860.2 1058.4,1858.8 1062.2,1857.4 1065.7,1856.1 1069.1,1854.7 1072.5,1853.3 1075.8,1851.9 1079.2,1850.5 1082.5,1849 1085.8,1847.5 1089.2,1846 1092.6,1844.5 1096,1843 1099.4,1841.6 1102.8,1840.1 1106.2,1838.6 1109.6,1837 1113,1835.4 1116.5,1833.7 1119.8,1831.9 1123.3,1830 1126.9,1827.9 1130.5,1825.8 1134,1823.6 1137.5,1821.3 1140.8,1819.2 1143.9,1817.1 1146.7,1815.2 1149.2,1813.4 1151.4,1811.7 1153.3,1810.1 1155.2,1808.6 1156.9,1807.1 1158.5,1805.6 1160.1,1804.1 1161.8,1802.6 1163.3,1801.1 1164.6,1799.6 1165.8,1798.1 1167,1796.7 1168.3,1795.2 1169.8,1793.6 1171.5,1791.9 1173.7,1790 1176.4,1787.9 1179.4,1785.7 1182.7,1783.3 1186.2,1780.8 1189.8,1778.3 1193.5,1775.9 1197.1,1773.4 1200.6,1771.1 1204,1768.9 1207.4,1766.6 1210.8,1764.4 1214.3,1762.2 1217.7,1760.1 1221.2,1758.1 1224.6,1756.1 1228,1754.4 1231.4,1752.7 1234.8,1751.3 1238.2,1749.9 1241.6,1748.7 1245,1747.5 1248.3,1746.3 1251.7,1745.1 1255.1,1743.9 1258.5,1742.6 1261.9,1741.4 1265.2,1740.2 1268.6,1739 1272,1737.8 1275.4,1736.6 1278.8,1735.5 1282.1,1734.4 1285.4,1733.4 1288.6,1732.4 1291.8,1731.5 1295,1730.6 1298.2,1729.7 1301.6,1728.8 1305.3,1728 1309.2,1727.1 1313.7,1726.2 1318.8,1725.3 1324.4,1724.4 1330,1723.5 1335.4,1722.7 1340.2,1721.9 1344.3,1721.3 1347.4,1720.8" fill="none" stroke="#5363B4" stroke-width="5.0" stroke-linejoin="round"/>
<rect x="1023.4" y="1673.6" width="339.3" height="302.3" fill="none" stroke="#000" stroke-width="2.6"/>
<line x1="1015" y1="1725.6" x2="1023.4" y2="1725.6" stroke="#000" stroke-width="2.4"/>
<text x="1012.6" y="1736.1" font-size="30" text-anchor="end" transform="matrix(1 0 0 1.035 0 -60.8)" fill="#000">22.5</text>
<line x1="1015" y1="1807.9" x2="1023.4" y2="1807.9" stroke="#000" stroke-width="2.4"/>
<text x="1012.6" y="1818.4" font-size="30" text-anchor="end" transform="matrix(1 0 0 1.035 0 -63.6)" fill="#000">20.0</text>
<line x1="1015" y1="1890.1" x2="1023.4" y2="1890.1" stroke="#000" stroke-width="2.4"/>
<text x="1012.6" y="1900.6" font-size="30" text-anchor="end" transform="matrix(1 0 0 1.035 0 -66.5)" fill="#000">17.5</text>
<line x1="1015" y1="1972.4" x2="1023.4" y2="1972.4" stroke="#000" stroke-width="2.4"/>
<text x="1012.6" y="1982.9" font-size="30" text-anchor="end" transform="matrix(1 0 0 1.035 0 -69.4)" fill="#000">15.0</text>
<line x1="1024.9" y1="1975.9" x2="1024.9" y2="1984.3" stroke="#000" stroke-width="2.4"/>
<text x="1028.2" y="2012.2" font-size="30" text-anchor="middle" transform="matrix(1 0 0 1.035 0 -70.4)" fill="#000">7.5</text>
<line x1="1092.6" y1="1975.9" x2="1092.6" y2="1984.3" stroke="#000" stroke-width="2.4"/>
<text x="1095.9" y="2012.2" font-size="30" text-anchor="middle" transform="matrix(1 0 0 1.035 0 -70.4)" fill="#000">10.0</text>
<line x1="1160.3" y1="1975.9" x2="1160.3" y2="1984.3" stroke="#000" stroke-width="2.4"/>
<text x="1163.6" y="2012.2" font-size="30" text-anchor="middle" transform="matrix(1 0 0 1.035 0 -70.4)" fill="#000">12.5</text>
<line x1="1228" y1="1975.9" x2="1228" y2="1984.3" stroke="#000" stroke-width="2.4"/>
<text x="1231.3" y="2012.2" font-size="30" text-anchor="middle" transform="matrix(1 0 0 1.035 0 -70.4)" fill="#000">15.0</text>
<line x1="1295.7" y1="1975.9" x2="1295.7" y2="1984.3" stroke="#000" stroke-width="2.4"/>
<text x="1299" y="2012.2" font-size="30" text-anchor="middle" transform="matrix(1 0 0 1.035 0 -70.4)" fill="#000">17.5</text>
<text x="1193" y="1661.3" font-size="30.4" font-weight="bold" text-anchor="middle" transform="matrix(1 0 0 1.035 0 -58.1)" fill="#000">Estriol glucuronide</text>
<clipPath id="cp1682091"><rect x="168.4" y="2091.6" width="339.3" height="302.3"/></clipPath>
<circle cx="183.7" cy="2170.9" r="5.9" fill="#F8766D" stroke="#000" stroke-width="2.6"/>
<circle cx="186.2" cy="2231.7" r="5.9" fill="#CD7BCD" stroke="#000" stroke-width="2.6"/>
<circle cx="183.7" cy="2380" r="5.9" fill="#F8766D" stroke="#000" stroke-width="2.6"/>
<circle cx="210.7" cy="2154.5" r="5.9" fill="#55C686" stroke="#000" stroke-width="2.6"/>
<circle cx="210.7" cy="2246.8" r="5.9" fill="#5FAEDD" stroke="#000" stroke-width="2.6"/>
<circle cx="210.7" cy="2264.6" r="5.9" fill="#55C686" stroke="#000" stroke-width="2.6"/>
<circle cx="210.7" cy="2292.5" r="5.9" fill="#5FAEDD" stroke="#000" stroke-width="2.6"/>
<circle cx="210.7" cy="2336.3" r="5.9" fill="#55C686" stroke="#000" stroke-width="2.6"/>
<circle cx="226.7" cy="2245.8" r="5.9" fill="#CD7BCD" stroke="#000" stroke-width="2.6"/>
<circle cx="237.6" cy="2237.8" r="5.9" fill="#5FAEDD" stroke="#000" stroke-width="2.6"/>
<circle cx="237.6" cy="2245.8" r="5.9" fill="#5FAEDD" stroke="#000" stroke-width="2.6"/>
<circle cx="237.6" cy="2290.4" r="5.9" fill="#55C686" stroke="#000" stroke-width="2.6"/>
<circle cx="267.6" cy="2193.3" r="5.9" fill="#CD7BCD" stroke="#000" stroke-width="2.6"/>
<circle cx="264.8" cy="2214.3" r="5.9" fill="#5FAEDD" stroke="#000" stroke-width="2.6"/>
<circle cx="264.8" cy="2218.9" r="5.9" fill="#5FAEDD" stroke="#000" stroke-width="2.6"/>
<circle cx="264.8" cy="2257.3" r="5.9" fill="#ABA32A" stroke="#000" stroke-width="2.6"/>
<circle cx="275.3" cy="2251" r="5.9" fill="#ABA32A" stroke="#000" stroke-width="2.6"/>
<circle cx="266.9" cy="2279.7" r="5.9" fill="#F8766D" stroke="#000" stroke-width="2.6"/>
<circle cx="264.8" cy="2281.4" r="5.9" fill="#F8766D" stroke="#000" stroke-width="2.6"/>
<circle cx="278.5" cy="2270.9" r="5.9" fill="#ABA32A" stroke="#000" stroke-width="2.6"/>
<circle cx="281.2" cy="2273" r="5.9" fill="#ABA32A" stroke="#000" stroke-width="2.6"/>
<circle cx="281.2" cy="2296.5" r="5.9" fill="#ABA32A" stroke="#000" stroke-width="2.6"/>
<circle cx="264.8" cy="2308.2" r="5.9" fill="#F8766D" stroke="#000" stroke-width="2.6"/>
<circle cx="291.7" cy="2172.4" r="5.9" fill="#5FAEDD" stroke="#000" stroke-width="2.6"/>
<circle cx="291.7" cy="2233.2" r="5.9" fill="#55C686" stroke="#000" stroke-width="2.6"/>
<circle cx="294.2" cy="2222.7" r="5.9" fill="#ABA32A" stroke="#000" stroke-width="2.6"/>
<circle cx="300.1" cy="2241.6" r="5.9" fill="#ABA32A" stroke="#000" stroke-width="2.6"/>
<circle cx="291.7" cy="2253.1" r="5.9" fill="#5FAEDD" stroke="#000" stroke-width="2.6"/>
<circle cx="294.2" cy="2263.6" r="5.9" fill="#ABA32A" stroke="#000" stroke-width="2.6"/>
<circle cx="308.9" cy="2224.8" r="5.9" fill="#ABA32A" stroke="#000" stroke-width="2.6"/>
<circle cx="310.6" cy="2181.8" r="5.9" fill="#CD7BCD" stroke="#000" stroke-width="2.6"/>
<circle cx="318.7" cy="2180.7" r="5.9" fill="#F8766D" stroke="#000" stroke-width="2.6"/>
<circle cx="318.7" cy="2197.5" r="5.9" fill="#F8766D" stroke="#000" stroke-width="2.6"/>
<circle cx="318.7" cy="2203.8" r="5.9" fill="#F8766D" stroke="#000" stroke-width="2.6"/>
<circle cx="318.7" cy="2218.5" r="5.9" fill="#F8766D" stroke="#000" stroke-width="2.6"/>
<circle cx="327.8" cy="2195.4" r="5.9" fill="#ABA32A" stroke="#000" stroke-width="2.6"/>
<circle cx="327.8" cy="2209.1" r="5.9" fill="#ABA32A" stroke="#000" stroke-width="2.6"/>
<circle cx="335.5" cy="2180.7" r="5.9" fill="#CD7BCD" stroke="#000" stroke-width="2.6"/>
<circle cx="345.6" cy="2167.1" r="5.9" fill="#5FAEDD" stroke="#000" stroke-width="2.6"/>
<circle cx="345.6" cy="2178.7" r="5.9" fill="#5FAEDD" stroke="#000" stroke-width="2.6"/>
<circle cx="359.2" cy="2203.8" r="5.9" fill="#ABA32A" stroke="#000" stroke-width="2.6"/>
<circle cx="364.4" cy="2156" r="5.9" fill="#CD7BCD" stroke="#000" stroke-width="2.6"/>
<circle cx="373" cy="2146.1" r="5.9" fill="#5FAEDD" stroke="#000" stroke-width="2.6"/>
<circle cx="373" cy="2165" r="5.9" fill="#5FAEDD" stroke="#000" stroke-width="2.6"/>
<circle cx="373" cy="2173.4" r="5.9" fill="#F8766D" stroke="#000" stroke-width="2.6"/>
<circle cx="373" cy="2190.6" r="5.9" fill="#F8766D" stroke="#000" stroke-width="2.6"/>
<circle cx="373" cy="2230.4" r="5.9" fill="#F8766D" stroke="#000" stroke-width="2.6"/>
<circle cx="400.1" cy="2127.3" r="5.9" fill="#5FAEDD" stroke="#000" stroke-width="2.6"/>
<circle cx="400.1" cy="2140.9" r="5.9" fill="#5FAEDD" stroke="#000" stroke-width="2.6"/>
<circle cx="409.1" cy="2134.6" r="5.9" fill="#CD7BCD" stroke="#000" stroke-width="2.6"/>
<circle cx="400.1" cy="2150.3" r="5.9" fill="#F8766D" stroke="#000" stroke-width="2.6"/>
<circle cx="400.1" cy="2153.5" r="5.9" fill="#F8766D" stroke="#000" stroke-width="2.6"/>
<circle cx="400.1" cy="2169.2" r="5.9" fill="#55C686" stroke="#000" stroke-width="2.6"/>
<circle cx="400.1" cy="2181.8" r="5.9" fill="#55C686" stroke="#000" stroke-width="2.6"/>
<circle cx="400.1" cy="2192.3" r="5.9" fill="#F8766D" stroke="#000" stroke-width="2.6"/>
<circle cx="415.4" cy="2149.3" r="5.9" fill="#CD7BCD" stroke="#000" stroke-width="2.6"/>
<circle cx="427.1" cy="2128.3" r="5.9" fill="#F8766D" stroke="#000" stroke-width="2.6"/>
<circle cx="427.1" cy="2135.7" r="5.9" fill="#F8766D" stroke="#000" stroke-width="2.6"/>
<circle cx="427.1" cy="2140.9" r="5.9" fill="#F8766D" stroke="#000" stroke-width="2.6"/>
<circle cx="430.5" cy="2152.4" r="5.9" fill="#CD7BCD" stroke="#000" stroke-width="2.6"/>
<circle cx="436.4" cy="2138.8" r="5.9" fill="#CD7BCD" stroke="#000" stroke-width="2.6"/>
<circle cx="427.1" cy="2170.3" r="5.9" fill="#55C686" stroke="#000" stroke-width="2.6"/>
<circle cx="427.1" cy="2176.6" r="5.9" fill="#55C686" stroke="#000" stroke-width="2.6"/>
<circle cx="454.2" cy="2143" r="5.9" fill="#F8766D" stroke="#000" stroke-width="2.6"/>
<circle cx="454.2" cy="2157.7" r="5.9" fill="#55C686" stroke="#000" stroke-width="2.6"/>
<circle cx="454.2" cy="2164" r="5.9" fill="#55C686" stroke="#000" stroke-width="2.6"/>
<circle cx="454.2" cy="2179.7" r="5.9" fill="#5FAEDD" stroke="#000" stroke-width="2.6"/>
<circle cx="465.1" cy="2129.4" r="5.9" fill="#CD7BCD" stroke="#000" stroke-width="2.6"/>
<circle cx="470.3" cy="2154.5" r="5.9" fill="#CD7BCD" stroke="#000" stroke-width="2.6"/>
<circle cx="481.2" cy="2116.8" r="5.9" fill="#5FAEDD" stroke="#000" stroke-width="2.6"/>
<circle cx="478.7" cy="2122" r="5.9" fill="#CD7BCD" stroke="#000" stroke-width="2.6"/>
<circle cx="481.2" cy="2129.4" r="5.9" fill="#5FAEDD" stroke="#000" stroke-width="2.6"/>
<circle cx="481.2" cy="2148.7" r="5.9" fill="#ABA32A" stroke="#000" stroke-width="2.6"/>
<circle cx="489.2" cy="2107.4" r="5.9" fill="#CD7BCD" stroke="#000" stroke-width="2.6"/>
<circle cx="492.4" cy="2125.2" r="5.9" fill="#CD7BCD" stroke="#000" stroke-width="2.6"/>
<polygon points="183.7,2237.4 185.8,2238.6 188.6,2240.4 191.9,2242.6 195.5,2244.9 199.4,2247.2 203.4,2249.3 207.2,2251 210.7,2252 214.1,2252.5 217.5,2252.6 220.8,2252.3 224.2,2251.8 227.5,2251.2 230.8,2250.4 234.2,2249.6 237.6,2248.8 241,2248.1 244.4,2247.3 247.8,2246.5 251.2,2245.5 254.6,2244.5 258,2243.4 261.5,2242.1 264.8,2240.7 268.3,2239.1 271.9,2237.3 275.5,2235.2 279,2233.1 282.5,2231 285.8,2228.9 288.9,2226.9 291.7,2225 294.2,2223.3 296.4,2221.6 298.3,2220 300.2,2218.4 301.9,2216.9 303.5,2215.4 305.1,2213.9 306.8,2212.4 308.4,2210.9 310,2209.6 311.4,2208.2 312.9,2206.8 314.3,2205.5 315.7,2204 317.2,2202.5 318.7,2200.9 320.3,2199.1 321.9,2197.2 323.6,2195.1 325.2,2193.1 326.9,2191 328.6,2189 330.3,2187 331.9,2185.2 333.5,2183.4 335,2181.8 336.4,2180.3 337.9,2178.8 339.4,2177.3 341.2,2175.8 343.2,2174.2 345.6,2172.6 348.3,2170.8 351.5,2168.9 354.9,2167 358.5,2165 362.2,2163.1 365.9,2161.2 369.5,2159.5 373,2157.9 376.4,2156.5 379.8,2155.1 383.2,2153.9 386.6,2152.8 390,2151.7 393.3,2150.6 396.7,2149.5 400.1,2148.5 403.5,2147.4 406.9,2146.3 410.2,2145.2 413.6,2144.2 417,2143.2 420.4,2142.2 423.8,2141.1 427.1,2140.1 430.4,2139 433.6,2137.8 436.8,2136.6 440,2135.4 443.2,2134.3 446.6,2133.2 450.3,2132.2 454.2,2131.4 458.7,2130.6 463.8,2129.9 469.4,2129.3 475,2128.8 480.4,2128.3 485.2,2127.9 489.3,2127.6 492.4,2127.3 492.4,2155.6 489.3,2155.1 485.2,2154.4 480.4,2153.5 475,2152.6 469.4,2151.8 463.8,2151.1 458.7,2150.6 454.2,2150.4 450.3,2150.6 446.6,2151.1 443.2,2151.8 440,2152.6 436.8,2153.5 433.6,2154.5 430.4,2155.5 427.1,2156.4 423.8,2157.3 420.4,2158.3 417,2159.3 413.6,2160.4 410.2,2161.5 406.9,2162.6 403.5,2163.7 400.1,2164.8 396.7,2165.9 393.3,2167 390,2168 386.6,2169.1 383.2,2170.3 379.8,2171.5 376.4,2172.8 373,2174.2 369.5,2175.8 365.9,2177.6 362.2,2179.5 358.5,2181.4 354.9,2183.3 351.5,2185.3 348.3,2187.2 345.6,2188.9 343.2,2190.6 341.2,2192.1 339.4,2193.7 337.9,2195.1 336.4,2196.6 335,2198.2 333.5,2199.8 331.9,2201.5 330.3,2203.3 328.6,2205.3 326.9,2207.4 325.2,2209.4 323.6,2211.5 321.9,2213.5 320.3,2215.4 318.7,2217.2 317.2,2218.9 315.7,2220.4 314.3,2221.8 312.9,2223.2 311.4,2224.5 310,2225.9 308.4,2227.3 306.8,2228.8 305.1,2230.3 303.5,2231.8 301.9,2233.3 300.2,2234.8 298.3,2236.4 296.4,2238 294.2,2239.6 291.7,2241.3 288.9,2243.2 285.8,2245.2 282.5,2247.2 279,2249.3 275.5,2251.4 271.9,2253.4 268.3,2255.3 264.8,2257.1 261.5,2258.7 258,2260.2 254.6,2261.6 251.2,2263 247.8,2264.3 244.4,2265.5 241,2266.7 237.6,2267.9 234.2,2268.9 230.8,2269.8 227.5,2270.6 224.2,2271.4 220.8,2272.2 217.5,2273 214.1,2274 210.7,2275.1 207.2,2276.5 203.4,2278.2 199.4,2280 195.5,2281.8 191.9,2283.7 188.6,2285.3 185.8,2286.7 183.7,2287.7" fill="#999999" fill-opacity="0.4" stroke="none"/>
<polyline points="183.7,2261.5 185.8,2261.7 188.6,2262 191.9,2262.4 195.5,2262.9 199.4,2263.2 203.4,2263.5 207.2,2263.6 210.7,2263.6 214.1,2263.3 217.5,2262.9 220.8,2262.3 224.2,2261.7 227.5,2260.9 230.8,2260.1 234.2,2259.2 237.6,2258.3 241,2257.4 244.4,2256.4 247.8,2255.4 251.2,2254.3 254.6,2253.1 258,2251.8 261.5,2250.4 264.8,2248.9 268.3,2247.2 271.9,2245.3 275.5,2243.3 279,2241.2 282.5,2239.1 285.8,2237 288.9,2235 291.7,2233.2 294.2,2231.4 296.4,2229.8 298.3,2228.2 300.2,2226.6 301.9,2225.1 303.5,2223.6 305.1,2222.1 306.8,2220.6 308.4,2219.1 310,2217.7 311.4,2216.4 312.9,2215 314.3,2213.6 315.7,2212.2 317.2,2210.7 318.7,2209.1 320.3,2207.3 321.9,2205.3 323.6,2203.3 325.2,2201.3 326.9,2199.2 328.6,2197.1 330.3,2195.2 331.9,2193.3 333.5,2191.6 335,2190 336.4,2188.5 337.9,2187 339.4,2185.5 341.2,2184 343.2,2182.4 345.6,2180.7 348.3,2179 351.5,2177.1 354.9,2175.2 358.5,2173.2 362.2,2171.3 365.9,2169.4 369.5,2167.7 373,2166.1 376.4,2164.6 379.8,2163.3 383.2,2162.1 386.6,2161 390,2159.9 393.3,2158.8 396.7,2157.7 400.1,2156.6 403.5,2155.5 406.9,2154.4 410.2,2153.4 413.6,2152.3 417,2151.3 420.4,2150.2 423.8,2149.2 427.1,2148.2 430.4,2147.3 433.6,2146.4 436.8,2145.6 440,2144.7 443.2,2143.8 446.6,2142.9 450.3,2142 454.2,2140.9 458.7,2139.7 463.8,2138.3 469.4,2136.7 475,2135.2 480.4,2133.7 485.2,2132.4 489.3,2131.3 492.4,2130.4" fill="none" stroke="#5363B4" stroke-width="5.0" stroke-linejoin="round"/>
<rect x="168.4" y="2091.6" width="339.3" height="302.3" fill="none" stroke="#000" stroke-width="2.6"/>
<line x1="160" y1="2098.5" x2="168.4" y2="2098.5" stroke="#000" stroke-width="2.4"/>
<text x="157.6" y="2109" font-size="30" text-anchor="end" transform="matrix(1 0 0 1.035 0 -73.8)" fill="#000">18</text>
<line x1="160" y1="2168.9" x2="168.4" y2="2168.9" stroke="#000" stroke-width="2.4"/>
<text x="157.6" y="2179.4" font-size="30" text-anchor="end" transform="matrix(1 0 0 1.035 0 -76.3)" fill="#000">15</text>
<line x1="160" y1="2239.2" x2="168.4" y2="2239.2" stroke="#000" stroke-width="2.4"/>
<text x="157.6" y="2249.7" font-size="30" text-anchor="end" transform="matrix(1 0 0 1.035 0 -78.7)" fill="#000">12</text>
<line x1="160" y1="2309.6" x2="168.4" y2="2309.6" stroke="#000" stroke-width="2.4"/>
<text x="157.6" y="2320.1" font-size="30" text-anchor="end" transform="matrix(1 0 0 1.035 0 -81.2)" fill="#000">9</text>
<line x1="160" y1="2380" x2="168.4" y2="2380" stroke="#000" stroke-width="2.4"/>
<text x="157.6" y="2390.5" font-size="30" text-anchor="end" transform="matrix(1 0 0 1.035 0 -83.7)" fill="#000">6</text>
<line x1="169.9" y1="2393.9" x2="169.9" y2="2402.3" stroke="#000" stroke-width="2.4"/>
<text x="173.2" y="2430.2" font-size="30" text-anchor="middle" transform="matrix(1 0 0 1.035 0 -85.1)" fill="#000">7.5</text>
<line x1="237.6" y1="2393.9" x2="237.6" y2="2402.3" stroke="#000" stroke-width="2.4"/>
<text x="240.9" y="2430.2" font-size="30" text-anchor="middle" transform="matrix(1 0 0 1.035 0 -85.1)" fill="#000">10.0</text>
<line x1="305.3" y1="2393.9" x2="305.3" y2="2402.3" stroke="#000" stroke-width="2.4"/>
<text x="308.6" y="2430.2" font-size="30" text-anchor="middle" transform="matrix(1 0 0 1.035 0 -85.1)" fill="#000">12.5</text>
<line x1="373" y1="2393.9" x2="373" y2="2402.3" stroke="#000" stroke-width="2.4"/>
<text x="376.3" y="2430.2" font-size="30" text-anchor="middle" transform="matrix(1 0 0 1.035 0 -85.1)" fill="#000">15.0</text>
<line x1="440.7" y1="2393.9" x2="440.7" y2="2402.3" stroke="#000" stroke-width="2.4"/>
<text x="444" y="2430.2" font-size="30" text-anchor="middle" transform="matrix(1 0 0 1.035 0 -85.1)" fill="#000">17.5</text>
<text x="338.1" y="2082.1" font-size="30.4" font-weight="bold" text-anchor="middle" transform="matrix(1 0 0 1.035 0 -72.9)" fill="#000">C24H34O9</text>
<clipPath id="cp5952091"><rect x="595.8" y="2091.6" width="339.3" height="302.3"/></clipPath>
<circle cx="614.2" cy="2190.8" r="5.9" fill="#F8766D" stroke="#000" stroke-width="2.6"/>
<circle cx="611.7" cy="2191.2" r="5.9" fill="#F8766D" stroke="#000" stroke-width="2.6"/>
<circle cx="611.1" cy="2262.5" r="5.9" fill="#F8766D" stroke="#000" stroke-width="2.6"/>
<circle cx="611.1" cy="2270.9" r="5.9" fill="#55C686" stroke="#000" stroke-width="2.6"/>
<circle cx="638.3" cy="2151.4" r="5.9" fill="#55C686" stroke="#000" stroke-width="2.6"/>
<circle cx="638.3" cy="2211.2" r="5.9" fill="#5FAEDD" stroke="#000" stroke-width="2.6"/>
<circle cx="638.3" cy="2227.3" r="5.9" fill="#55C686" stroke="#000" stroke-width="2.6"/>
<circle cx="638.3" cy="2268.4" r="5.9" fill="#5FAEDD" stroke="#000" stroke-width="2.6"/>
<circle cx="638.3" cy="2284.5" r="5.9" fill="#55C686" stroke="#000" stroke-width="2.6"/>
<circle cx="638.3" cy="2380" r="5.9" fill="#55C686" stroke="#000" stroke-width="2.6"/>
<circle cx="654.7" cy="2222.7" r="5.9" fill="#CD7BCD" stroke="#000" stroke-width="2.6"/>
<circle cx="665.6" cy="2203.8" r="5.9" fill="#5FAEDD" stroke="#000" stroke-width="2.6"/>
<circle cx="665.6" cy="2209.1" r="5.9" fill="#55C686" stroke="#000" stroke-width="2.6"/>
<circle cx="665.6" cy="2219.1" r="5.9" fill="#5FAEDD" stroke="#000" stroke-width="2.6"/>
<circle cx="665.6" cy="2314.9" r="5.9" fill="#55C686" stroke="#000" stroke-width="2.6"/>
<circle cx="694.9" cy="2195.4" r="5.9" fill="#CD7BCD" stroke="#000" stroke-width="2.6"/>
<circle cx="692.2" cy="2208.4" r="5.9" fill="#F8766D" stroke="#000" stroke-width="2.6"/>
<circle cx="692.2" cy="2214.3" r="5.9" fill="#5FAEDD" stroke="#000" stroke-width="2.6"/>
<circle cx="692.2" cy="2224.8" r="5.9" fill="#ABA32A" stroke="#000" stroke-width="2.6"/>
<circle cx="694.9" cy="2240.5" r="5.9" fill="#ABA32A" stroke="#000" stroke-width="2.6"/>
<circle cx="692.2" cy="2253.5" r="5.9" fill="#F8766D" stroke="#000" stroke-width="2.6"/>
<circle cx="701.2" cy="2243.7" r="5.9" fill="#ABA32A" stroke="#000" stroke-width="2.6"/>
<circle cx="705.4" cy="2214.3" r="5.9" fill="#ABA32A" stroke="#000" stroke-width="2.6"/>
<circle cx="708.6" cy="2227.9" r="5.9" fill="#ABA32A" stroke="#000" stroke-width="2.6"/>
<circle cx="708.6" cy="2242.6" r="5.9" fill="#ABA32A" stroke="#000" stroke-width="2.6"/>
<circle cx="703.3" cy="2286.6" r="5.9" fill="#ABA32A" stroke="#000" stroke-width="2.6"/>
<circle cx="700.6" cy="2355.8" r="5.9" fill="#ABA32A" stroke="#000" stroke-width="2.6"/>
<circle cx="719.7" cy="2165.6" r="5.9" fill="#5FAEDD" stroke="#000" stroke-width="2.6"/>
<circle cx="722.2" cy="2175.5" r="5.9" fill="#ABA32A" stroke="#000" stroke-width="2.6"/>
<circle cx="727.4" cy="2195.4" r="5.9" fill="#ABA32A" stroke="#000" stroke-width="2.6"/>
<circle cx="724.3" cy="2203.8" r="5.9" fill="#ABA32A" stroke="#000" stroke-width="2.6"/>
<circle cx="719.7" cy="2214.3" r="5.9" fill="#55C686" stroke="#000" stroke-width="2.6"/>
<circle cx="722.2" cy="2220.6" r="5.9" fill="#ABA32A" stroke="#000" stroke-width="2.6"/>
<circle cx="719.7" cy="2233.2" r="5.9" fill="#5FAEDD" stroke="#000" stroke-width="2.6"/>
<circle cx="735.8" cy="2211.2" r="5.9" fill="#ABA32A" stroke="#000" stroke-width="2.6"/>
<circle cx="738.6" cy="2183.9" r="5.9" fill="#CD7BCD" stroke="#000" stroke-width="2.6"/>
<circle cx="746.7" cy="2157.7" r="5.9" fill="#F8766D" stroke="#000" stroke-width="2.6"/>
<circle cx="746.7" cy="2167.1" r="5.9" fill="#5FAEDD" stroke="#000" stroke-width="2.6"/>
<circle cx="746.7" cy="2174.9" r="5.9" fill="#F8766D" stroke="#000" stroke-width="2.6"/>
<circle cx="746.7" cy="2187" r="5.9" fill="#5FAEDD" stroke="#000" stroke-width="2.6"/>
<circle cx="746.7" cy="2197.5" r="5.9" fill="#F8766D" stroke="#000" stroke-width="2.6"/>
<circle cx="746.7" cy="2212.2" r="5.9" fill="#F8766D" stroke="#000" stroke-width="2.6"/>
<circle cx="755.1" cy="2213.9" r="5.9" fill="#ABA32A" stroke="#000" stroke-width="2.6"/>
<circle cx="757.4" cy="2240.5" r="5.9" fill="#ABA32A" stroke="#000" stroke-width="2.6"/>
<circle cx="762" cy="2163.6" r="5.9" fill="#CD7BCD" stroke="#000" stroke-width="2.6"/>
<circle cx="773.6" cy="2163.6" r="5.9" fill="#5FAEDD" stroke="#000" stroke-width="2.6"/>
<circle cx="773.6" cy="2202.8" r="5.9" fill="#5FAEDD" stroke="#000" stroke-width="2.6"/>
<circle cx="787.2" cy="2190.2" r="5.9" fill="#ABA32A" stroke="#000" stroke-width="2.6"/>
<circle cx="792.4" cy="2180.7" r="5.9" fill="#CD7BCD" stroke="#000" stroke-width="2.6"/>
<circle cx="801" cy="2136.3" r="5.9" fill="#5FAEDD" stroke="#000" stroke-width="2.6"/>
<circle cx="801" cy="2158.7" r="5.9" fill="#F8766D" stroke="#000" stroke-width="2.6"/>
<circle cx="801" cy="2165" r="5.9" fill="#F8766D" stroke="#000" stroke-width="2.6"/>
<circle cx="801" cy="2184.5" r="5.9" fill="#F8766D" stroke="#000" stroke-width="2.6"/>
<circle cx="801" cy="2201.7" r="5.9" fill="#5FAEDD" stroke="#000" stroke-width="2.6"/>
<circle cx="827" cy="2135.7" r="5.9" fill="#5FAEDD" stroke="#000" stroke-width="2.6"/>
<circle cx="827" cy="2144.1" r="5.9" fill="#5FAEDD" stroke="#000" stroke-width="2.6"/>
<circle cx="827" cy="2151.4" r="5.9" fill="#55C686" stroke="#000" stroke-width="2.6"/>
<circle cx="827" cy="2159.8" r="5.9" fill="#F8766D" stroke="#000" stroke-width="2.6"/>
<circle cx="827" cy="2168.2" r="5.9" fill="#F8766D" stroke="#000" stroke-width="2.6"/>
<circle cx="835.4" cy="2154.5" r="5.9" fill="#CD7BCD" stroke="#000" stroke-width="2.6"/>
<circle cx="843.4" cy="2158.7" r="5.9" fill="#CD7BCD" stroke="#000" stroke-width="2.6"/>
<circle cx="854.7" cy="2104.8" r="5.9" fill="#F8766D" stroke="#000" stroke-width="2.6"/>
<circle cx="854.7" cy="2122" r="5.9" fill="#F8766D" stroke="#000" stroke-width="2.6"/>
<circle cx="854.7" cy="2129.4" r="5.9" fill="#55C686" stroke="#000" stroke-width="2.6"/>
<circle cx="863.7" cy="2128.3" r="5.9" fill="#CD7BCD" stroke="#000" stroke-width="2.6"/>
<circle cx="857.4" cy="2135.7" r="5.9" fill="#CD7BCD" stroke="#000" stroke-width="2.6"/>
<circle cx="854.7" cy="2153.5" r="5.9" fill="#F8766D" stroke="#000" stroke-width="2.6"/>
<circle cx="854.7" cy="2161.9" r="5.9" fill="#55C686" stroke="#000" stroke-width="2.6"/>
<circle cx="858.5" cy="2160.8" r="5.9" fill="#F8766D" stroke="#000" stroke-width="2.6"/>
<circle cx="854.7" cy="2182.8" r="5.9" fill="#55C686" stroke="#000" stroke-width="2.6"/>
<circle cx="882.2" cy="2136.7" r="5.9" fill="#55C686" stroke="#000" stroke-width="2.6"/>
<circle cx="882.2" cy="2151.4" r="5.9" fill="#F8766D" stroke="#000" stroke-width="2.6"/>
<circle cx="882.2" cy="2168.2" r="5.9" fill="#5FAEDD" stroke="#000" stroke-width="2.6"/>
<circle cx="893.1" cy="2129.4" r="5.9" fill="#CD7BCD" stroke="#000" stroke-width="2.6"/>
<circle cx="893.1" cy="2156.6" r="5.9" fill="#CD7BCD" stroke="#000" stroke-width="2.6"/>
<circle cx="898.3" cy="2159.8" r="5.9" fill="#CD7BCD" stroke="#000" stroke-width="2.6"/>
<circle cx="908.8" cy="2133.6" r="5.9" fill="#ABA32A" stroke="#000" stroke-width="2.6"/>
<circle cx="908.8" cy="2156.6" r="5.9" fill="#5FAEDD" stroke="#000" stroke-width="2.6"/>
<circle cx="917.2" cy="2124.1" r="5.9" fill="#CD7BCD" stroke="#000" stroke-width="2.6"/>
<circle cx="919.9" cy="2158.7" r="5.9" fill="#CD7BCD" stroke="#000" stroke-width="2.6"/>
<polygon points="611.7,2221.6 613.8,2222.6 616.6,2223.9 619.9,2225.5 623.5,2227.3 627.4,2229 631.4,2230.4 635.2,2231.5 638.7,2232.1 642.1,2232.1 645.5,2231.8 648.8,2231.1 652.2,2230.1 655.5,2229.1 658.8,2227.9 662.2,2226.8 665.6,2225.7 669,2224.7 672.4,2223.7 675.8,2222.7 679.2,2221.6 682.6,2220.4 686,2219.2 689.5,2217.9 692.8,2216.6 696.3,2215.2 699.9,2213.6 703.5,2212 707,2210.3 710.5,2208.6 713.8,2207 716.9,2205.4 719.7,2204 722.2,2202.8 724.4,2201.6 726.3,2200.6 728.2,2199.6 729.9,2198.6 731.5,2197.6 733.1,2196.7 734.8,2195.6 736.3,2194.6 737.6,2193.7 738.8,2192.8 740,2191.8 741.3,2190.9 742.8,2189.8 744.5,2188.6 746.7,2187.2 749.4,2185.7 752.4,2184 755.7,2182.1 759.2,2180.2 762.8,2178.2 766.5,2176.2 770.1,2174.3 773.6,2172.6 777,2170.9 780.4,2169.3 783.8,2167.7 787.3,2166.1 790.7,2164.6 794.2,2163.1 797.6,2161.5 801,2160 804.4,2158.4 807.8,2156.7 811.2,2155 814.6,2153.4 818,2151.7 821.3,2150.2 824.7,2148.7 828.1,2147.4 831.5,2146.2 834.9,2145.1 838.2,2144.2 841.6,2143.3 845,2142.4 848.4,2141.6 851.8,2140.8 855.1,2140.1 858.4,2139.4 861.6,2138.8 864.8,2138.2 868,2137.7 871.2,2137.2 874.6,2136.6 878.3,2135.9 882.2,2135.1 886.7,2134.2 891.8,2133 897.4,2131.7 903,2130.4 908.4,2129.1 913.2,2127.9 917.3,2126.9 920.4,2126.2 920.4,2168.2 917.3,2167 913.2,2165.3 908.4,2163.2 903,2161.1 897.4,2158.9 891.8,2156.9 886.7,2155.3 882.2,2154.2 878.3,2153.7 874.6,2153.5 871.2,2153.6 868,2154 864.8,2154.5 861.6,2155.1 858.4,2155.8 855.1,2156.4 851.8,2157.1 848.4,2157.8 845,2158.6 841.6,2159.4 838.2,2160.4 834.9,2161.4 831.5,2162.6 828.1,2163.8 824.7,2165.1 821.3,2166.5 818,2168.1 814.6,2169.7 811.2,2171.4 807.8,2173.1 804.4,2174.7 801,2176.3 797.6,2177.9 794.2,2179.4 790.7,2181 787.3,2182.5 783.8,2184.1 780.4,2185.6 777,2187.3 773.6,2188.9 770.1,2190.7 766.5,2192.6 762.8,2194.6 759.2,2196.5 755.7,2198.5 752.4,2200.3 749.4,2202.1 746.7,2203.6 744.5,2205 742.8,2206.1 741.3,2207.2 740,2208.2 738.8,2209.1 737.6,2210 736.3,2211 734.8,2212 733.1,2213 731.5,2214 729.9,2215 728.2,2215.9 726.3,2216.9 724.4,2218 722.2,2219.1 719.7,2220.4 716.9,2221.8 713.8,2223.2 710.5,2224.8 707,2226.5 703.5,2228.1 699.9,2229.8 696.3,2231.4 692.8,2233 689.5,2234.5 686,2236.1 682.6,2237.6 679.2,2239.2 675.8,2240.7 672.4,2242.1 669,2243.5 665.6,2244.8 662.2,2246 658.8,2247.1 655.5,2248.1 652.2,2249 648.8,2250 645.5,2250.9 642.1,2252 638.7,2253.1 635.2,2254.4 631.4,2255.8 627.4,2257.3 623.5,2258.8 619.9,2260.3 616.6,2261.6 613.8,2262.7 611.7,2263.6" fill="#999999" fill-opacity="0.4" stroke="none"/>
<polyline points="611.7,2244.7 613.8,2244.6 616.6,2244.4 619.9,2244.3 623.5,2244.1 627.4,2243.9 631.4,2243.5 635.2,2243.1 638.7,2242.6 642.1,2242 645.5,2241.2 648.8,2240.4 652.2,2239.5 655.5,2238.5 658.8,2237.4 662.2,2236.4 665.6,2235.3 669,2234.1 672.4,2232.9 675.8,2231.7 679.2,2230.4 682.6,2229 686,2227.6 689.5,2226.2 692.8,2224.8 696.3,2223.3 699.9,2221.7 703.5,2220 707,2218.4 710.5,2216.7 713.8,2215.1 716.9,2213.6 719.7,2212.2 722.2,2211 724.4,2209.8 726.3,2208.7 728.2,2207.7 729.9,2206.8 731.5,2205.8 733.1,2204.8 734.8,2203.8 736.3,2202.8 737.6,2201.9 738.8,2200.9 740,2200 741.3,2199 742.8,2198 744.5,2196.8 746.7,2195.4 749.4,2193.9 752.4,2192.1 755.7,2190.3 759.2,2188.3 762.8,2186.4 766.5,2184.4 770.1,2182.5 773.6,2180.7 777,2179.1 780.4,2177.5 783.8,2175.9 787.3,2174.3 790.7,2172.8 794.2,2171.3 797.6,2169.7 801,2168.2 804.4,2166.6 807.8,2164.9 811.2,2163.2 814.6,2161.5 818,2159.9 821.3,2158.4 824.7,2156.9 828.1,2155.6 831.5,2154.4 834.9,2153.3 838.2,2152.3 841.6,2151.4 845,2150.5 848.4,2149.7 851.8,2148.9 855.1,2148.2 858.4,2147.6 861.6,2147 864.8,2146.5 868,2146 871.2,2145.6 874.6,2145.2 878.3,2144.9 882.2,2144.7 886.7,2144.5 891.8,2144.4 897.4,2144.4 903,2144.5 908.4,2144.5 913.2,2144.6 917.3,2144.7 920.4,2144.7" fill="none" stroke="#5363B4" stroke-width="5.0" stroke-linejoin="round"/>
<rect x="595.8" y="2091.6" width="339.3" height="302.3" fill="none" stroke="#000" stroke-width="2.6"/>
<line x1="587.4" y1="2109.5" x2="595.8" y2="2109.5" stroke="#000" stroke-width="2.4"/>
<text x="585" y="2120" font-size="30" text-anchor="end" transform="matrix(1 0 0 1.035 0 -74.2)" fill="#000">18</text>
<line x1="587.4" y1="2179.7" x2="595.8" y2="2179.7" stroke="#000" stroke-width="2.4"/>
<text x="585" y="2190.2" font-size="30" text-anchor="end" transform="matrix(1 0 0 1.035 0 -76.7)" fill="#000">15</text>
<line x1="587.4" y1="2250" x2="595.8" y2="2250" stroke="#000" stroke-width="2.4"/>
<text x="585" y="2260.5" font-size="30" text-anchor="end" transform="matrix(1 0 0 1.035 0 -79.1)" fill="#000">12</text>
<line x1="587.4" y1="2320.2" x2="595.8" y2="2320.2" stroke="#000" stroke-width="2.4"/>
<text x="585" y="2330.7" font-size="30" text-anchor="end" transform="matrix(1 0 0 1.035 0 -81.6)" fill="#000">9</text>
<line x1="587.4" y1="2390.4" x2="595.8" y2="2390.4" stroke="#000" stroke-width="2.4"/>
<text x="585" y="2400.9" font-size="30" text-anchor="end" transform="matrix(1 0 0 1.035 0 -84)" fill="#000">6</text>
<line x1="597.3" y1="2393.9" x2="597.3" y2="2402.3" stroke="#000" stroke-width="2.4"/>
<text x="600.6" y="2430.2" font-size="30" text-anchor="middle" transform="matrix(1 0 0 1.035 0 -85.1)" fill="#000">7.5</text>
<line x1="665" y1="2393.9" x2="665" y2="2402.3" stroke="#000" stroke-width="2.4"/>
<text x="668.3" y="2430.2" font-size="30" text-anchor="middle" transform="matrix(1 0 0 1.035 0 -85.1)" fill="#000">10.0</text>
<line x1="732.7" y1="2393.9" x2="732.7" y2="2402.3" stroke="#000" stroke-width="2.4"/>
<text x="736" y="2430.2" font-size="30" text-anchor="middle" transform="matrix(1 0 0 1.035 0 -85.1)" fill="#000">12.5</text>
<line x1="800.4" y1="2393.9" x2="800.4" y2="2402.3" stroke="#000" stroke-width="2.4"/>
<text x="803.7" y="2430.2" font-size="30" text-anchor="middle" transform="matrix(1 0 0 1.035 0 -85.1)" fill="#000">15.0</text>
<line x1="868.1" y1="2393.9" x2="868.1" y2="2402.3" stroke="#000" stroke-width="2.4"/>
<text x="871.4" y="2430.2" font-size="30" text-anchor="middle" transform="matrix(1 0 0 1.035 0 -85.1)" fill="#000">17.5</text>
<text x="765.4" y="2082.1" font-size="30.4" font-weight="bold" text-anchor="middle" transform="matrix(1 0 0 1.035 0 -72.9)" fill="#000">C24H28O7</text>
<clipPath id="cp10232091"><rect x="1023.4" y="2091.6" width="339.3" height="302.3"/></clipPath>
<circle cx="1038.7" cy="2148.9" r="5.9" fill="#F8766D" stroke="#000" stroke-width="2.6"/>
<circle cx="1041.2" cy="2232.1" r="5.9" fill="#CD7BCD" stroke="#000" stroke-width="2.6"/>
<circle cx="1038.7" cy="2354.4" r="5.9" fill="#F8766D" stroke="#000" stroke-width="2.6"/>
<circle cx="1038.7" cy="2367.4" r="5.9" fill="#55C686" stroke="#000" stroke-width="2.6"/>
<circle cx="1065.7" cy="2152.9" r="5.9" fill="#55C686" stroke="#000" stroke-width="2.6"/>
<circle cx="1065.7" cy="2268.4" r="5.9" fill="#5FAEDD" stroke="#000" stroke-width="2.6"/>
<circle cx="1065.7" cy="2303.8" r="5.9" fill="#5FAEDD" stroke="#000" stroke-width="2.6"/>
<circle cx="1065.7" cy="2314.5" r="5.9" fill="#55C686" stroke="#000" stroke-width="2.6"/>
<circle cx="1065.7" cy="2353.3" r="5.9" fill="#55C686" stroke="#000" stroke-width="2.6"/>
<circle cx="1065.7" cy="2380.4" r="5.9" fill="#55C686" stroke="#000" stroke-width="2.6"/>
<circle cx="1092.6" cy="2273" r="5.9" fill="#55C686" stroke="#000" stroke-width="2.6"/>
<circle cx="1092.6" cy="2291.9" r="5.9" fill="#5FAEDD" stroke="#000" stroke-width="2.6"/>
<circle cx="1092.6" cy="2334.2" r="5.9" fill="#5FAEDD" stroke="#000" stroke-width="2.6"/>
<circle cx="1119.8" cy="2230" r="5.9" fill="#5FAEDD" stroke="#000" stroke-width="2.6"/>
<circle cx="1121.9" cy="2267.8" r="5.9" fill="#ABA32A" stroke="#000" stroke-width="2.6"/>
<circle cx="1119.2" cy="2284.5" r="5.9" fill="#5FAEDD" stroke="#000" stroke-width="2.6"/>
<circle cx="1130.3" cy="2253.7" r="5.9" fill="#ABA32A" stroke="#000" stroke-width="2.6"/>
<circle cx="1128.2" cy="2281.4" r="5.9" fill="#ABA32A" stroke="#000" stroke-width="2.6"/>
<circle cx="1133.5" cy="2278.3" r="5.9" fill="#ABA32A" stroke="#000" stroke-width="2.6"/>
<circle cx="1121.9" cy="2294" r="5.9" fill="#ABA32A" stroke="#000" stroke-width="2.6"/>
<circle cx="1119.8" cy="2298.8" r="5.9" fill="#F8766D" stroke="#000" stroke-width="2.6"/>
<circle cx="1119.8" cy="2308.7" r="5.9" fill="#ABA32A" stroke="#000" stroke-width="2.6"/>
<circle cx="1136.2" cy="2289.4" r="5.9" fill="#ABA32A" stroke="#000" stroke-width="2.6"/>
<circle cx="1136.2" cy="2304" r="5.9" fill="#ABA32A" stroke="#000" stroke-width="2.6"/>
<circle cx="1119.8" cy="2323.8" r="5.9" fill="#F8766D" stroke="#000" stroke-width="2.6"/>
<circle cx="1128.2" cy="2371.6" r="5.9" fill="#ABA32A" stroke="#000" stroke-width="2.6"/>
<circle cx="1146.7" cy="2190.8" r="5.9" fill="#5FAEDD" stroke="#000" stroke-width="2.6"/>
<circle cx="1152.3" cy="2208.4" r="5.9" fill="#ABA32A" stroke="#000" stroke-width="2.6"/>
<circle cx="1146.7" cy="2245.8" r="5.9" fill="#55C686" stroke="#000" stroke-width="2.6"/>
<circle cx="1151.3" cy="2257.3" r="5.9" fill="#ABA32A" stroke="#000" stroke-width="2.6"/>
<circle cx="1155.1" cy="2257.3" r="5.9" fill="#ABA32A" stroke="#000" stroke-width="2.6"/>
<circle cx="1149.2" cy="2272.6" r="5.9" fill="#ABA32A" stroke="#000" stroke-width="2.6"/>
<circle cx="1163.5" cy="2266.3" r="5.9" fill="#ABA32A" stroke="#000" stroke-width="2.6"/>
<circle cx="1165.6" cy="2182.8" r="5.9" fill="#CD7BCD" stroke="#000" stroke-width="2.6"/>
<circle cx="1173.7" cy="2194.4" r="5.9" fill="#F8766D" stroke="#000" stroke-width="2.6"/>
<circle cx="1173.7" cy="2202.8" r="5.9" fill="#F8766D" stroke="#000" stroke-width="2.6"/>
<circle cx="1173.7" cy="2197.9" r="5.9" fill="#F8766D" stroke="#000" stroke-width="2.6"/>
<circle cx="1173.7" cy="2237.4" r="5.9" fill="#F8766D" stroke="#000" stroke-width="2.6"/>
<circle cx="1173.7" cy="2239.5" r="5.9" fill="#F8766D" stroke="#000" stroke-width="2.6"/>
<circle cx="1182.8" cy="2214.3" r="5.9" fill="#ABA32A" stroke="#000" stroke-width="2.6"/>
<circle cx="1190.5" cy="2221.6" r="5.9" fill="#CD7BCD" stroke="#000" stroke-width="2.6"/>
<circle cx="1200.6" cy="2177.6" r="5.9" fill="#5FAEDD" stroke="#000" stroke-width="2.6"/>
<circle cx="1214.2" cy="2217.4" r="5.9" fill="#ABA32A" stroke="#000" stroke-width="2.6"/>
<circle cx="1219.4" cy="2180.7" r="5.9" fill="#CD7BCD" stroke="#000" stroke-width="2.6"/>
<circle cx="1228" cy="2133.6" r="5.9" fill="#5FAEDD" stroke="#000" stroke-width="2.6"/>
<circle cx="1228" cy="2158.7" r="5.9" fill="#F8766D" stroke="#000" stroke-width="2.6"/>
<circle cx="1228" cy="2172.4" r="5.9" fill="#F8766D" stroke="#000" stroke-width="2.6"/>
<circle cx="1228" cy="2178.7" r="5.9" fill="#F8766D" stroke="#000" stroke-width="2.6"/>
<circle cx="1228" cy="2208" r="5.9" fill="#F8766D" stroke="#000" stroke-width="2.6"/>
<circle cx="1255.1" cy="2146.1" r="5.9" fill="#F8766D" stroke="#000" stroke-width="2.6"/>
<circle cx="1255.1" cy="2152.4" r="5.9" fill="#5FAEDD" stroke="#000" stroke-width="2.6"/>
<circle cx="1264.1" cy="2158.7" r="5.9" fill="#CD7BCD" stroke="#000" stroke-width="2.6"/>
<circle cx="1255.1" cy="2168.2" r="5.9" fill="#55C686" stroke="#000" stroke-width="2.6"/>
<circle cx="1255.1" cy="2179.7" r="5.9" fill="#F8766D" stroke="#000" stroke-width="2.6"/>
<circle cx="1255.1" cy="2189.6" r="5.9" fill="#F8766D" stroke="#000" stroke-width="2.6"/>
<circle cx="1255.1" cy="2213.2" r="5.9" fill="#F8766D" stroke="#000" stroke-width="2.6"/>
<circle cx="1255.1" cy="2232.1" r="5.9" fill="#55C686" stroke="#000" stroke-width="2.6"/>
<circle cx="1270.4" cy="2172.4" r="5.9" fill="#CD7BCD" stroke="#000" stroke-width="2.6"/>
<circle cx="1282.1" cy="2104.8" r="5.9" fill="#F8766D" stroke="#000" stroke-width="2.6"/>
<circle cx="1284.9" cy="2109.5" r="5.9" fill="#CD7BCD" stroke="#000" stroke-width="2.6"/>
<circle cx="1282.1" cy="2135" r="5.9" fill="#F8766D" stroke="#000" stroke-width="2.6"/>
<circle cx="1282.1" cy="2149.3" r="5.9" fill="#F8766D" stroke="#000" stroke-width="2.6"/>
<circle cx="1291.4" cy="2152.4" r="5.9" fill="#CD7BCD" stroke="#000" stroke-width="2.6"/>
<circle cx="1282.1" cy="2166.1" r="5.9" fill="#55C686" stroke="#000" stroke-width="2.6"/>
<circle cx="1282.1" cy="2173.4" r="5.9" fill="#55C686" stroke="#000" stroke-width="2.6"/>
<circle cx="1284.9" cy="2179.7" r="5.9" fill="#CD7BCD" stroke="#000" stroke-width="2.6"/>
<circle cx="1309.2" cy="2132.9" r="5.9" fill="#F8766D" stroke="#000" stroke-width="2.6"/>
<circle cx="1309.2" cy="2140.9" r="5.9" fill="#55C686" stroke="#000" stroke-width="2.6"/>
<circle cx="1309.2" cy="2152.4" r="5.9" fill="#55C686" stroke="#000" stroke-width="2.6"/>
<circle cx="1309.2" cy="2166.1" r="5.9" fill="#55C686" stroke="#000" stroke-width="2.6"/>
<circle cx="1309.2" cy="2174.5" r="5.9" fill="#55C686" stroke="#000" stroke-width="2.6"/>
<circle cx="1309.2" cy="2228.6" r="5.9" fill="#5FAEDD" stroke="#000" stroke-width="2.6"/>
<circle cx="1320.1" cy="2178.7" r="5.9" fill="#CD7BCD" stroke="#000" stroke-width="2.6"/>
<circle cx="1320.1" cy="2152.4" r="5.9" fill="#CD7BCD" stroke="#000" stroke-width="2.6"/>
<circle cx="1336.2" cy="2134.6" r="5.9" fill="#5FAEDD" stroke="#000" stroke-width="2.6"/>
<circle cx="1336.2" cy="2139.9" r="5.9" fill="#5FAEDD" stroke="#000" stroke-width="2.6"/>
<circle cx="1336.2" cy="2166.1" r="5.9" fill="#ABA32A" stroke="#000" stroke-width="2.6"/>
<circle cx="1347.4" cy="2130.8" r="5.9" fill="#CD7BCD" stroke="#000" stroke-width="2.6"/>
<circle cx="1344.2" cy="2154.5" r="5.9" fill="#CD7BCD" stroke="#000" stroke-width="2.6"/>
<polygon points="1038.7,2258.3 1040.8,2260 1043.6,2262.3 1046.9,2265.1 1050.5,2268.1 1054.4,2271.1 1058.4,2274 1062.2,2276.4 1065.7,2278.3 1069.1,2279.6 1072.5,2280.7 1075.8,2281.5 1079.2,2282.1 1082.5,2282.3 1085.8,2282.3 1089.2,2282 1092.6,2281.4 1096,2280.4 1099.4,2279 1102.8,2277.3 1106.2,2275.3 1109.6,2273 1113,2270.6 1116.5,2268.1 1119.8,2265.6 1123.3,2262.8 1126.9,2259.8 1130.5,2256.5 1134,2253.1 1137.5,2249.7 1140.8,2246.4 1143.9,2243.3 1146.7,2240.4 1149.2,2237.8 1151.4,2235.4 1153.3,2233 1155.2,2230.8 1156.9,2228.7 1158.5,2226.6 1160.1,2224.6 1161.8,2222.6 1163.4,2220.6 1165,2218.7 1166.4,2216.8 1167.9,2215 1169.3,2213.2 1170.7,2211.5 1172.2,2209.7 1173.7,2207.9 1175.3,2206.1 1176.9,2204.2 1178.6,2202.4 1180.2,2200.5 1181.9,2198.7 1183.6,2196.9 1185.3,2195.2 1186.9,2193.6 1188.5,2192.1 1190,2190.7 1191.4,2189.4 1192.9,2188.1 1194.4,2186.9 1196.2,2185.6 1198.2,2184.4 1200.6,2183.2 1203.3,2181.9 1206.5,2180.8 1209.9,2179.7 1213.5,2178.6 1217.2,2177.5 1220.9,2176.3 1224.5,2175 1228,2173.6 1231.4,2172.1 1234.8,2170.4 1238.2,2168.6 1241.6,2166.8 1245,2164.9 1248.3,2163.1 1251.7,2161.5 1255.1,2160 1258.5,2158.6 1261.9,2157.4 1265.2,2156.2 1268.6,2155.1 1272,2154.1 1275.4,2153.1 1278.8,2152.2 1282.1,2151.3 1285.4,2150.6 1288.6,2150.2 1291.8,2149.9 1295,2149.7 1298.2,2149.3 1301.6,2148.7 1305.3,2147.7 1309.2,2146.1 1313.7,2143.9 1318.8,2140.9 1324.4,2137.4 1330,2133.8 1335.4,2130.1 1340.2,2126.8 1344.3,2124 1347.4,2122 1347.4,2180.7 1344.3,2179.4 1340.2,2177.4 1335.4,2175.1 1330,2172.5 1324.4,2170.1 1318.8,2167.8 1313.7,2166.1 1309.2,2165 1305.3,2164.7 1301.6,2164.9 1298.2,2165.5 1295,2166.3 1291.8,2167.4 1288.6,2168.5 1285.4,2169.5 1282.1,2170.4 1278.8,2171 1275.4,2171.6 1272,2172.2 1268.6,2172.8 1265.2,2173.5 1261.9,2174.3 1258.5,2175.2 1255.1,2176.3 1251.7,2177.7 1248.3,2179.2 1245,2181 1241.6,2182.8 1238.2,2184.6 1234.8,2186.5 1231.4,2188.3 1228,2190 1224.5,2191.6 1220.9,2193.2 1217.2,2194.8 1213.5,2196.3 1209.9,2197.8 1206.5,2199.3 1203.3,2200.8 1200.6,2202.2 1198.2,2203.6 1196.2,2204.9 1194.4,2206.1 1192.9,2207.4 1191.4,2208.6 1190,2209.9 1188.5,2211.2 1186.9,2212.7 1185.3,2214.3 1183.6,2216 1181.9,2217.8 1180.2,2219.6 1178.6,2221.4 1176.9,2223.3 1175.3,2225.2 1173.7,2227 1172.2,2228.8 1170.7,2230.5 1169.3,2232.3 1167.9,2234.1 1166.4,2235.9 1165,2237.8 1163.4,2239.7 1161.8,2241.7 1160.1,2243.7 1158.5,2245.7 1156.9,2247.8 1155.2,2249.9 1153.3,2252.1 1151.4,2254.4 1149.2,2256.9 1146.7,2259.5 1143.9,2262.3 1140.8,2265.5 1137.5,2268.8 1134,2272.2 1130.5,2275.6 1126.9,2278.9 1123.3,2281.9 1119.8,2284.6 1116.5,2287.1 1113,2289.4 1109.6,2291.5 1106.2,2293.5 1102.8,2295.4 1099.4,2297.1 1096,2298.7 1092.6,2300.3 1089.2,2301.7 1085.8,2302.9 1082.5,2303.9 1079.2,2304.9 1075.8,2305.8 1072.5,2306.7 1069.1,2307.7 1065.7,2308.7 1062.2,2309.8 1058.4,2310.9 1054.4,2312.2 1050.5,2313.4 1046.9,2314.5 1043.6,2315.5 1040.8,2316.4 1038.7,2317" fill="#999999" fill-opacity="0.4" stroke="none"/>
<polyline points="1038.7,2288.7 1040.8,2289.2 1043.6,2289.9 1046.9,2290.7 1050.5,2291.6 1054.4,2292.4 1058.4,2293.1 1062.2,2293.7 1065.7,2294 1069.1,2294.1 1072.5,2294.1 1075.8,2294 1079.2,2293.7 1082.5,2293.3 1085.8,2292.7 1089.2,2291.9 1092.6,2290.8 1096,2289.5 1099.4,2288 1102.8,2286.3 1106.2,2284.3 1109.6,2282.2 1113,2280 1116.5,2277.6 1119.8,2275.1 1123.3,2272.4 1126.9,2269.3 1130.5,2266 1134,2262.7 1137.5,2259.3 1140.8,2255.9 1143.9,2252.8 1146.7,2249.9 1149.2,2247.3 1151.4,2244.9 1153.3,2242.6 1155.2,2240.4 1156.9,2238.3 1158.5,2236.2 1160.1,2234.1 1161.8,2232.1 1163.4,2230.1 1165,2228.2 1166.4,2226.4 1167.9,2224.6 1169.3,2222.8 1170.7,2221 1172.2,2219.2 1173.7,2217.4 1175.3,2215.6 1176.9,2213.8 1178.6,2211.9 1180.2,2210.1 1181.9,2208.2 1183.6,2206.5 1185.3,2204.8 1186.9,2203.2 1188.5,2201.7 1190,2200.3 1191.4,2199 1192.9,2197.7 1194.4,2196.5 1196.2,2195.3 1198.2,2194 1200.6,2192.7 1203.3,2191.4 1206.5,2190.1 1209.9,2188.8 1213.5,2187.4 1217.2,2186.1 1220.9,2184.7 1224.5,2183.3 1228,2181.8 1231.4,2180.2 1234.8,2178.4 1238.2,2176.6 1241.6,2174.8 1245,2172.9 1248.3,2171.2 1251.7,2169.6 1255.1,2168.2 1258.5,2166.9 1261.9,2165.8 1265.2,2164.9 1268.6,2164 1272,2163.1 1275.4,2162.4 1278.8,2161.6 1282.1,2160.8 1285.4,2160.1 1288.6,2159.3 1291.8,2158.7 1295,2158 1298.2,2157.4 1301.6,2156.8 1305.3,2156.2 1309.2,2155.6 1313.7,2155 1318.8,2154.4 1324.4,2153.8 1330,2153.2 1335.4,2152.6 1340.2,2152.1 1344.3,2151.7 1347.4,2151.4" fill="none" stroke="#5363B4" stroke-width="5.0" stroke-linejoin="round"/>
<rect x="1023.4" y="2091.6" width="339.3" height="302.3" fill="none" stroke="#000" stroke-width="2.6"/>
<line x1="1015" y1="2105.9" x2="1023.4" y2="2105.9" stroke="#000" stroke-width="2.4"/>
<text x="1012.6" y="2116.4" font-size="30" text-anchor="end" transform="matrix(1 0 0 1.035 0 -74.1)" fill="#000">17.5</text>
<line x1="1015" y1="2175.7" x2="1023.4" y2="2175.7" stroke="#000" stroke-width="2.4"/>
<text x="1012.6" y="2186.2" font-size="30" text-anchor="end" transform="matrix(1 0 0 1.035 0 -76.5)" fill="#000">15.0</text>
<line x1="1015" y1="2245.5" x2="1023.4" y2="2245.5" stroke="#000" stroke-width="2.4"/>
<text x="1012.6" y="2256" font-size="30" text-anchor="end" transform="matrix(1 0 0 1.035 0 -79)" fill="#000">12.5</text>
<line x1="1015" y1="2315.4" x2="1023.4" y2="2315.4" stroke="#000" stroke-width="2.4"/>
<text x="1012.6" y="2325.9" font-size="30" text-anchor="end" transform="matrix(1 0 0 1.035 0 -81.4)" fill="#000">10.0</text>
<line x1="1015" y1="2385.2" x2="1023.4" y2="2385.2" stroke="#000" stroke-width="2.4"/>
<text x="1012.6" y="2395.7" font-size="30" text-anchor="end" transform="matrix(1 0 0 1.035 0 -83.8)" fill="#000">7.5</text>
<line x1="1024.9" y1="2393.9" x2="1024.9" y2="2402.3" stroke="#000" stroke-width="2.4"/>
<text x="1028.2" y="2430.2" font-size="30" text-anchor="middle" transform="matrix(1 0 0 1.035 0 -85.1)" fill="#000">7.5</text>
<line x1="1092.6" y1="2393.9" x2="1092.6" y2="2402.3" stroke="#000" stroke-width="2.4"/>
<text x="1095.9" y="2430.2" font-size="30" text-anchor="middle" transform="matrix(1 0 0 1.035 0 -85.1)" fill="#000">10.0</text>
<line x1="1160.3" y1="2393.9" x2="1160.3" y2="2402.3" stroke="#000" stroke-width="2.4"/>
<text x="1163.6" y="2430.2" font-size="30" text-anchor="middle" transform="matrix(1 0 0 1.035 0 -85.1)" fill="#000">12.5</text>
<line x1="1228" y1="2393.9" x2="1228" y2="2402.3" stroke="#000" stroke-width="2.4"/>
<text x="1231.3" y="2430.2" font-size="30" text-anchor="middle" transform="matrix(1 0 0 1.035 0 -85.1)" fill="#000">15.0</text>
<line x1="1295.7" y1="2393.9" x2="1295.7" y2="2402.3" stroke="#000" stroke-width="2.4"/>
<text x="1299" y="2430.2" font-size="30" text-anchor="middle" transform="matrix(1 0 0 1.035 0 -85.1)" fill="#000">17.5</text>
<text x="1193" y="2082.1" font-size="30.4" font-weight="bold" text-anchor="middle" transform="matrix(1 0 0 1.035 0 -72.9)" fill="#000">C19H26O7S</text>
<text x="730.4" y="2469.5" font-size="30.4" font-weight="bold" text-anchor="middle" transform="matrix(1 0 0 1.035 0 -86.4)" fill="#000">Gestational age (weeks)</text>
<text x="75.6" y="2026.6" font-size="30" font-weight="bold" text-anchor="middle" transform="rotate(-90 75.6 2026.6) matrix(1 0 0 1.035 0 -70.9)" fill="#000" textLength="405" lengthAdjust="spacingAndGlyphs">Intensity (spectral count, log2)</text>
<text x="1422.6" y="1947.3" font-size="30.3" font-weight="bold" text-anchor="start" transform="matrix(1 0 0 1.035 0 -68.2)" fill="#000">Collection site</text>
<circle cx="1435" cy="1983.4" r="11.9" fill="#F8766D" stroke="#000" stroke-width="2.8"/>
<text x="1454" y="1993" font-size="30.3" text-anchor="start" transform="matrix(1 0 0 1.035 0 -69.8)" fill="#000">Bangladesh</text>
<circle cx="1435" cy="2031" r="11.9" fill="#ABA32A" stroke="#000" stroke-width="2.8"/>
<text x="1454" y="2040.6" font-size="30.3" text-anchor="start" transform="matrix(1 0 0 1.035 0 -71.4)" fill="#000">Bangladesh GAPPS</text>
<circle cx="1435" cy="2078.6" r="11.9" fill="#55C686" stroke="#000" stroke-width="2.8"/>
<text x="1454" y="2088.2" font-size="30.3" text-anchor="start" transform="matrix(1 0 0 1.035 0 -73.1)" fill="#000">Pakistan</text>
<circle cx="1435" cy="2126.2" r="11.9" fill="#5FAEDD" stroke="#000" stroke-width="2.8"/>
<text x="1454" y="2135.8" font-size="30.3" text-anchor="start" transform="matrix(1 0 0 1.035 0 -74.8)" fill="#000">Tanzania</text>
<circle cx="1435" cy="2173.8" r="11.9" fill="#CD7BCD" stroke="#000" stroke-width="2.8"/>
<text x="1454" y="2183.4" font-size="30.3" text-anchor="start" transform="matrix(1 0 0 1.035 0 -76.4)" fill="#000">Zambia GAPPS</text>
</svg></body></html>
